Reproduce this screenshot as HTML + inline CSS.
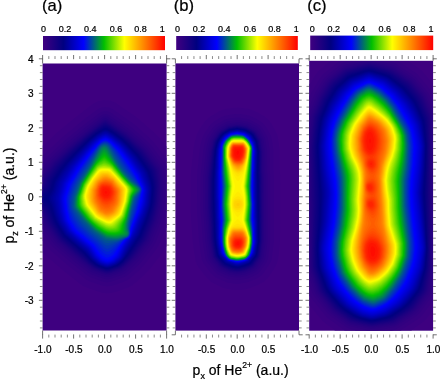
<!DOCTYPE html><html><head><meta charset="utf-8"><title>Momentum distributions of He2+</title>
<style>
html,body{margin:0;padding:0;background:#fff}
body{width:440px;height:380px;overflow:hidden;position:relative;font-family:"Liberation Sans",Arial,sans-serif;color:#111}
#fig{position:absolute;left:0;top:0;width:440px;height:380px;display:block}
text{font-family:"Liberation Sans",Arial,sans-serif;fill:#000;stroke:#000;stroke-width:0.22px}
.t9{font-size:9px}.t10{font-size:10px}.t14{font-size:14px}.t16{font-size:16.6px}
.tk{stroke:#444;stroke-width:0.75;fill:none}
.tm{stroke:#5a5a5a;stroke-width:0.7;fill:none}
</style></head><body>
<svg id="fig" width="440" height="380" viewBox="0 0 440 380">
<defs><linearGradient id="cb" x1="0" x2="1" y1="0" y2="0">
<stop offset="0.0000" stop-color="#400080"/>
<stop offset="0.1667" stop-color="#000080"/>
<stop offset="0.3333" stop-color="#0000ff"/>
<stop offset="0.5000" stop-color="#00bf00"/>
<stop offset="0.6667" stop-color="#ffff00"/>
<stop offset="0.8333" stop-color="#ff8000"/>
<stop offset="1.0000" stop-color="#ff0000"/>
</linearGradient></defs>
<g transform="translate(42.6,63.5)">
<rect width="124" height="267" fill="#3e0080"/><path fill="#3a0080" d="M69.75,229.3L64.25,229.7L59.25,229.2L44.25,224.1L40.75,222.6L36.75,219.8L23.75,209.5L0.25,189.4L0.25,82.07L2.25,80.73L14.25,69.36L18.25,65.97L32.75,53.96L48.25,42.06L51.75,39.72L54.75,38.25L58.25,37.22L61.75,36.82L67.75,37.32L72.75,39.16L92.75,52.93L97.25,56.41L112.2,69.75L117.1,74.75L121.8,80.95L123.8,83.03L123.8,182.7L119.8,189.2L107.5,205.2L101.2,211.8L93.75,218.6L89.25,222L85.75,223.8L75.75,227.5Z"/><path fill="#360080" d="M65.75,222.8L62.25,222.6L59.25,222L46.25,217.5L42.75,215.6L28.25,204.2L8.25,187.3L6.25,185.2L1.75,179.1L0.25,177.5L0.25,91.94L19.25,74.2L42.25,55.36L55.25,45.72L58.75,44.24L62.25,43.75L66.25,44.11L70.25,45.72L92.25,61.27L106.8,74.15L111.2,78.64L121.8,92.68L123.8,94.76L123.8,164L121.8,168L116.4,181.2L114.1,185.2L102.2,200.8L96.25,206.9L88.72,213.8L85.25,216.3L81.75,218L70.25,222Z"/><path fill="#320080" d="M68.25,218.3L64.25,218.7L60.75,218.2L47.75,213.7L44.75,212.1L30.75,201L10.75,184.1L8.31,181.2L2.25,172.7L0.25,170.5L0.25,98.96L5.378,92.75L14.25,84.37L21.94,77.25L37.25,64.47L56.25,49.89L59.25,48.35L62.25,47.82L65.25,48.07L68.25,49.27L84.75,60.72L89.75,64.48L103.8,76.91L109.2,82.55L123.8,102.5L123.8,148.3L120.4,160.2L112.6,179.8L110.8,182.9L99.02,198.2L93.64,203.8L86.56,210.2L83.75,212.4L81.25,213.8Z"/><path fill="#2e0080" d="M65.75,215.8L62.25,215.6L57.25,214L48.75,211L45.25,208.8L32.75,198.9L12.51,181.8L10.05,178.8L1.75,167L0.25,165.5L0.25,103.9L2.25,101.8L7.459,94.75L24.04,79.25L41.25,64.96L56.25,53.42L59.75,51.27L62.75,50.71L65.25,51.08L67.25,52.04L86.25,65.42L102,79.25L106.2,83.47L120,102.2L121.2,105.8L123.1,117.8L123,126.2L121.8,140.8L120,149.8L117.5,159.8L110.5,177.2L109.1,180.2L96.5,196.8L91.57,201.8L84.25,208.4L81.75,210.2L79.25,211.5L69.25,215Z"/><path fill="#2a0080" d="M67.25,213.3L64.25,213.6L61.25,213L49.75,209L46.25,206.7L33.75,196.8L14.21,180.2L11.39,176.8L0.25,160.8L0.25,107.9L1.75,106.3L9.131,96.25L25.16,81.25L42.75,66.65L57.25,55.48L60.25,53.53L62.75,52.98L64.75,53.33L66.25,54.08L85.25,67.48L100.8,81.12L104.4,84.75L118,103.2L119,106.2L120.6,117.2L120.6,126.2L119.5,140.2L118.8,144.8L115.5,158.8L107.3,178.8L94.75,195.3L83.25,206.3L80.75,208.2L78.75,209.3Z"/><path fill="#260080" d="M65.25,211.8L63.25,211.6L61.25,211.1L49.25,206.7L35.25,195.7L25.25,187.3L14.41,177.8L3.813,162.8L0.25,156.3L0.25,111.1L2.25,108.9L10.25,97.73L25.75,83.16L49.25,63.88L59.75,55.93L61.25,55.14L62.75,54.86L64.25,55.14L65.75,55.93L84.75,69.38L99.75,82.66L103.2,86.21L116.4,104.2L117.3,107.2L118.8,118.2L118.8,125.8L117.8,139.8L117.1,144.2L113.7,158.2L105.8,177.8L93.3,194.2L82.25,204.8L79.75,206.7L77.75,207.7L68.25,211.1Z"/><path fill="#220080" d="M66.25,210.3L64.25,210.5L62.25,210.1L51.75,206.4L49.75,205.4L35.75,194.3L17.25,178.6L14.64,175.8L4.877,161.8L0.25,152.5L0.25,114L11.3,98.75L26.62,84.25L42.25,71.09L49.75,65.18L59.75,57.64L61.25,56.74L62.75,56.38L65.25,57.31L83.75,70.33L98.75,83.63L101.8,86.75L115,104.8L116,107.8L117.5,118.8L117.5,125.2L116.5,139.2L114.9,147.8L112.4,157.8L104.4,177.2L91.93,193.8L81.75,203.6L79.25,205.5L77.25,206.5Z"/><path fill="#1e0080" d="M66.75,209.3L64.75,209.6L62.25,209.2L52.25,205.6L50.25,204.6L41.25,197.5L17.88,177.8L15.23,174.8L5.91,161.2L1.25,151.1L0.25,149.6L0.25,119.8L1.459,115.2L2.86,112.8L12.25,99.5L27.25,85.14L42.75,71.95L50.25,66.01L60.25,58.61L62.75,57.62L64.25,58.02L68.75,60.94L83.75,71.61L100.8,87.25L114.2,105.8L115.1,109.8L116.5,119.2L116.5,124.8L116,132.2L115.4,139.2L114.7,143.8L111.4,157.2L103.7,176.2L91.01,193.2L81.25,202.8L77.25,205.6Z"/><path fill="#1a0080" d="M65.75,208.8L63.75,208.8L60.75,208L52.75,205.1L50.25,203.7L42.18,197.2L18.25,176.8L16,174.2L6.796,160.8L1.972,149.8L1.25,148.6L0.25,147.9L0.25,122.1L1.545,120.8L2.525,116.2L3.344,114.2L11.18,102.8L13.56,99.75L27.75,85.96L43.05,72.75L59.25,60.4L61.25,59.13L62.75,58.72L64.25,59.13L68.75,61.96L83.21,72.25L97.75,85.48L100.4,88.25L111.7,103.8L113.2,106.2L115.4,117.2L115.7,122.2L114.6,139.2L112.9,147.8L110.4,157.2L102.6,176.2L90.31,192.8L87.09,196.2L80.78,202.2L76.75,205Z"/><path fill="#160080" d="M67.25,207.8L64.75,208.2L62.75,207.9L54.25,205L50.75,203.3L46.25,199.8L19.41,176.8L16.71,173.8L7.956,160.8L2.75,148.6L1.75,147.3L0.25,146.4L0.25,123.7L1.312,123.2L2.316,122.2L4.481,114.8L12.57,102.8L20.48,94.25L28.23,86.75L43.6,73.25L50.75,67.53L59.25,61.4L61.25,60.17L62.75,59.76L64.25,60.17L68.25,62.58L82.75,72.87L97.24,86.25L99.59,88.75L110.5,103.8L112.2,106.6L114.5,117.2L114.8,122.2L113.8,138.8L112.1,147.2L109.6,156.8L101.8,175.8L89.68,192.2L86.59,195.8L80.94,201.2L76.75,204.3Z"/><path fill="#120080" d="M66.75,207.3L64.75,207.6L62.25,207.2L54.25,204.4L51.25,202.9L46.75,199.3L38.75,192.1L19.75,175.9L17.25,173L8.508,159.8L3.25,147.1L1.75,145.5L0.25,144.8L0.25,125.3L1.75,124.7L3.266,123.2L3.964,121.8L4.883,117.2L5.631,115.2L13.75,103.1L21.25,94.87L28.75,87.5L44.11,73.75L51.25,68.01L56.25,64.45L60.75,61.43L62.75,60.79L64.25,61.17L68.25,63.49L82.25,73.44L87.75,78.41L98.78,89.25L108.9,103.2L111.2,107L113.6,117.8L114.1,123.2L113,138.8L111.3,147.2L108.8,156.2L101,175.2L88.68,192.2L86.12,195.2L80.75,200.6L76.25,203.9Z"/><path fill="#0e0080" d="M66.75,206.8L64.75,207.1L62.25,206.6L54.75,204L51.4,202.2L47.25,198.9L39.25,191.5L20.25,175.2L17.75,172.2L9.368,159.2L4.197,146.2L2.52,144.2L0.25,143.1L0.25,127.1L2.25,126.2L4.25,124.2L5.118,122.2L6.054,117.8L6.775,115.8L15.06,103.2L21.77,95.75L29.28,88.25L44.6,74.25L51.25,68.86L55.75,65.67L60.75,62.4L62.75,61.79L64.75,62.37L67.75,64.07L73.75,68.05L81.75,73.99L87.25,79L97.98,89.75L105.6,100.2L110.2,107.2L112.7,117.8L113.2,123.2L112.2,138.8L110.7,146.2L108,155.8L100.2,174.7L88.1,191.8L85.2,195.2L80.75,199.8L76.25,203.3Z"/><path fill="#0a0080" d="M66.25,206.3L64.25,206.5L61.25,205.8L54.75,203.4L51.75,201.8L47.4,198.2L39.7,190.8L20.45,174.2L18.44,171.8L10.49,159.2L4.78,144.8L2.75,142.4L0.25,141L0.25,129.1L3.25,127.4L5.25,125L6.259,122.8L7.25,118.1L8.163,115.8L16.11,103.8L22.67,96.25L29.75,89.07L45.09,74.75L51.75,69.32L55.75,66.53L60.75,63.34L62.75,62.76L64.75,63.29L67.75,64.96L73.75,68.92L81.25,74.54L86.75,79.6L97.17,90.25L106.9,103.8L109.3,107.8L111.8,118.2L112.4,123.8L111.4,138.8L109.8,146.2L107,155.8L99.41,174.2L87.14,191.8L80.51,199.2L75.75,202.9Z"/><path fill="#060080" d="M66.25,205.8L64.25,205.9L61.75,205.4L55.25,203L52.25,201.4L47.77,197.8L40.25,190.1L21.13,173.8L19.13,171.2L11.34,158.8L5.714,143.8L3.25,140.7L0.25,138.6L0.25,131.4L3.25,129.5L6.05,126.2L7.25,123.7L8.506,118.2L9.288,116.2L17.58,103.8L23.09,97.25L30.35,89.75L45.58,75.25L51.75,70.16L56.25,67.03L60.75,64.26L62.75,63.7L64.75,64.19L67.75,65.84L73.71,69.75L80.96,75.25L86.3,80.25L96.37,90.75L104.2,101.7L108.1,107.8L109,110.2L110.9,118.2L111.6,123.8L110.6,138.2L109.6,143.8L106.4,154.8L98.75,173.5L85.83,192.2L80.71,198.2L78.25,200.5L75.25,202.5Z"/><path fill="#020080" d="M66.25,205.3L64.25,205.4L61.25,204.7L55.75,202.7L52.37,200.8L48.14,197.2L40.75,189.5L21.33,172.8L14.41,162.2L12.19,158.2L6.68,142.8L4.75,139.8L0.6746,135.2L0.9323,134.2L4.75,130.4L7.294,126.8L8.526,123.8L9.982,117.8L11.53,114.8L17.45,105.8L23.75,98.01L31.63,89.75L46.63,75.25L52.25,70.61L56.25,67.88L60.75,65.16L62.75,64.61L64.75,65.07L67.75,66.72L73.25,70.29L80.41,75.75L85.7,80.75L95.58,91.25L103.5,102.2L107.2,108.2L110,118.2L110.8,123.8L109.8,138.2L108.9,143.2L105.6,154.2L98.11,172.8L84.94,192.2L80.41,197.8L77.75,200.2L74.75,202.2Z"/><path fill="#000083" d="M65.75,204.8L63.25,204.7L59.75,203.7L55.75,202.1L52.75,200.3L48.52,196.8L41.25,188.8L32.25,181.3L21.75,172L13.52,158.8L11.02,152.2L8.25,143L4.015,135.2L4.369,133.8L7.25,129.5L8.961,126.2L10.95,118.8L12.03,116.2L18.25,106.6L24.43,98.75L32.4,90.25L47.1,75.75L52.75,71.07L56.75,68.38L60.75,66.04L62.75,65.5L65.75,66.4L71.21,69.75L80.25,76.57L85.11,81.25L94.78,91.75L103,103.2L106.2,108.6L109.1,118.8L110,124.2L109,138.2L108.2,142.8L104.9,153.8L97.25,172.4L84.06,192.2L80.11,197.2L77.34,199.8L74.38,201.8L68.75,204Z"/><path fill="#00008b" d="M65.75,204.3L63.25,204.2L59.75,203.1L55.75,201.5L53.25,199.9L48.9,196.2L41.9,188.2L32.75,180.7L22.25,171.3L15.94,161.2L14.12,157.8L11.81,151.2L9.517,142.8L6.327,135.2L6.594,133.8L10.25,126.4L12.1,119.2L13.13,116.8L19.18,107.2L24.91,99.75L33.17,90.75L47.57,76.25L54.25,70.83L60.25,67.13L62.75,66.37L65.25,67.01L70.75,70.3L79.75,77.12L84.51,81.75L93.99,92.25L102.2,103.8L105.2,108.8L108.2,118.8L109.2,124.2L109,129.8L108.2,138.2L107.4,142.8L104.1,153.2L96.55,171.8L83.21,192.2L79.8,196.8L77.25,199.1L74.18,201.2L69.25,203.3Z"/><path fill="#000093" d="M65.25,203.8L62.75,203.5L58.25,202L55.75,200.9L53.75,199.6L49.28,195.8L42.59,187.8L33.25,180L22.93,170.8L16.7,160.8L14.97,157.2L12.77,150.8L10.75,142.5L8.284,135.2L8.499,133.8L11.47,126.8L13.24,119.8L14.22,117.2L20.22,107.8L25.79,100.2L33.94,91.25L48.05,76.75L54.75,71.31L60.25,67.97L62.75,67.22L65.25,67.86L70.75,71.14L79.25,77.66L83.46,81.75L93.19,92.75L101.3,104.2L104.1,108.8L107.3,118.8L108.4,124.8L108.3,129.8L107.4,138.2L106.6,142.8L103.5,152.2L95.77,171.2L86.55,185.2L81.42,193.8L79.49,196.2L77.25,198.4L73.75,200.9L68.25,203.1Z"/><path fill="#00009b" d="M65.25,203.3L62.75,203L58.25,201.5L56.25,200.6L54.25,199.2L49.75,195.3L43.25,187.2L33.75,179.4L23.61,170.2L17.47,160.2L16.02,157.2L13.74,150.2L12.12,142.8L10.04,135.2L10.22,133.8L12.63,127.2L14.38,120.2L15.31,117.8L20.91,108.8L26.68,100.8L34.69,91.75L48.25,77.49L54.75,72.11L60.25,68.8L62.75,68.05L65.25,68.7L70.25,71.66L78.81,78.25L82.87,82.25L92.4,93.25L100.8,105.1L103.2,109.2L106.6,119.8L107.6,125.2L106.6,138.2L105.9,142.2L102.8,151.8L94.99,170.8L85.89,184.8L80.99,193.2L79.18,195.8L76.75,198L73.25,200.5L68.25,202.5Z"/><path fill="#0000a3" d="M64.75,202.8L62.75,202.5L58.25,201L56.25,200L54.53,198.8L50.25,195L43.75,186.5L34.25,178.8L24.25,169.7L18.24,159.8L16.87,156.8L14.72,149.8L11.66,135.2L11.95,133.2L16.4,118.2L21.62,109.8L27.56,101.2L35.9,91.75L48.75,77.96L54.98,72.75L60.25,69.61L62.75,68.87L65.25,69.53L70.25,72.48L78.75,79.17L82.3,82.75L91.61,93.75L99.66,105.2L102.1,109.2L105.8,120.1L106.7,123.8L106.8,125.8L105.9,138.2L105,142.2L102.1,151.2L94.21,170.2L84.91,184.8L80.26,193.2L78.75,195.4L76.25,197.7L72.75,200.2L67.75,202.2Z"/><path fill="#0000ab" d="M64.75,202.3L62.75,202L58.25,200.4L55.25,198.6L50.86,194.8L44.25,185.9L34.75,178.1L24.75,169L19,159.2L17.9,156.8L15.71,149.2L13.19,135.2L13.45,133.2L17.5,118.8L21.36,112.2L28.44,101.8L41.52,86.75L49.25,78.41L55.25,73.34L60.25,70.39L62.75,69.65L65.25,70.34L70.25,73.29L78.25,79.68L81.74,83.25L90.83,94.25L98.5,105.2L101,109.2L105,120.8L105.8,123.8L106.1,126.2L105.1,138.2L104.2,142.2L101.3,150.8L98.18,157.8L93.45,169.8L84.25,184.3L79.57,193.2L78.25,195.1L75.75,197.4L72.25,199.9L67.25,201.8Z"/><path fill="#0000b3" d="M64.75,201.8L62.75,201.5L58.75,200.1L55.6,198.2L51.21,194.2L46.25,187L44.75,185.3L35.25,177.6L25.25,168.3L19.99,159.2L18.7,156.2L16.68,148.8L14.65,135.2L15,132.8L18.8,118.8L29.27,102.2L42.07,87.25L49.75,78.82L55.25,74.07L60.25,71.12L62.75,70.38L64.75,70.86L69.75,73.73L77.86,80.25L80.82,83.25L90.1,94.75L99.89,109.2L104.1,120.8L105.2,124.2L105.4,126.2L104.3,138.2L103.6,141.8L100.7,150.2L97.25,157.7L92.74,169.2L83.25,184.4L79.17,192.8L77.82,194.8L72.25,199.3L67.75,201.1Z"/><path fill="#0000bb" d="M64.75,201.3L62.75,201L59.25,199.8L56.25,198.1L51.54,193.8L45.72,185.2L35.4,176.8L25.78,167.8L20.63,158.8L19.58,156.2L17.63,148.8L15.93,135.2L16.46,131.8L19.77,119.2L30,102.8L42.98,87.25L50.18,79.25L55.75,74.42L60.25,71.8L62.75,71.06L64.75,71.56L69.75,74.44L77.46,80.75L80.38,83.75L89.1,94.75L99.16,109.8L104.1,123.2L104.7,126.8L103.6,138.2L102.8,141.8L100.1,149.8L96.75,156.9L91.88,169.2L88.81,174.8L82.75,183.9L78.77,192.2L77.53,194.2L75.47,196.2L71.75,199.1L67.25,200.8Z"/><path fill="#0000c3" d="M65.25,200.8L63.25,200.6L60.54,199.8L58.25,198.9L56.56,197.8L52.25,193.7L46.13,184.8L35.75,176.2L26.64,167.8L21.44,158.8L20.37,156.2L18.38,148.2L16.94,135.2L17.44,131.8L20.58,119.8L23.4,114.8L30.99,102.8L43.38,87.75L50.49,79.75L55.75,75.06L60.25,72.43L62.75,71.69L64.75,72.21L69.75,75.1L77.25,81.36L80,84.25L88.59,95.25L98.29,109.8L103.4,123.2L104.1,126.8L103,138.2L102,142.2L99.35,149.8L95.75,157.6L92.09,167.2L89.39,172.8L82.25,183.5L78.13,192.2L76.81,194.2L71.75,198.5L68.75,199.8Z"/><path fill="#0000cb" d="M65.25,200.3L63.25,200.1L60.54,199.2L58.25,198.3L56.75,197.3L52.59,193.2L47.77,185.8L46.48,184.2L36.16,175.8L27.08,167.2L21.92,158.2L20.95,155.8L19.13,148.2L17.76,135.2L18.15,132.2L21.5,119.8L31.53,103.2L43.74,88.25L50.78,80.25L56.25,75.34L60.75,72.79L62.75,72.28L64.75,72.81L69.25,75.39L76.82,81.75L79.65,84.75L87.78,95.25L97.75,110.2L102.6,122.8L103.5,126.8L102.4,138.2L101.3,142.2L98.9,149.2L95.64,156.2L91.63,166.8L88.94,172.8L87.75,174.8L84.84,178.2L81.75,183.2L77.74,191.8L76.5,193.8L71.25,198.2L67.75,199.6Z"/><path fill="#0000d3" d="M65.25,199.8L63.75,199.7L61.25,199L58.75,198L57.25,197L52.92,192.8L47.25,184.2L31.75,171.1L27.5,166.8L22.63,158.2L21.64,155.8L19.76,147.8L18.49,135.2L18.89,132.2L22.15,120.2L24.63,115.8L32.4,103.2L44.25,88.55L51.25,80.57L56.53,75.75L60.75,73.35L62.75,72.85L64.75,73.39L69.25,75.99L76.53,82.25L78.92,84.75L87.39,95.75L97,110.2L102,122.8L102.9,126.8L101.8,137.8L100.9,141.8L98.27,149.2L94.84,156.8L88.56,172.8L87.25,174.9L84.51,177.8L81.75,182.1L79.98,185.2L77.08,191.8L75.75,193.7L71.03,197.8L67.75,199.1Z"/><path fill="#0000db" d="M64.75,199.3L62.75,198.9L59.75,197.9L57.25,196.3L53.28,192.2L48.86,185.2L47.61,183.8L32.23,170.8L27.91,166.2L23.32,158.2L22.31,155.8L20.46,147.8L19.17,135.2L19.61,132.2L22.99,120.2L32.9,103.8L44.75,88.85L51.75,80.84L56.75,76.18L60.75,73.9L62.75,73.4L64.75,73.95L68.77,76.25L76.25,82.75L78.75,85.44L86.75,95.89L96.52,110.8L101.5,123.2L102.3,126.8L101.2,137.8L100.2,141.8L97.87,148.8L94.25,156.8L87.98,173.2L86.75,175L84.24,177.2L81.6,181.2L79.6,184.8L76.39,191.8L75.25,193.4L70.75,197.3L67.25,198.8Z"/><path fill="#0000e3" d="M66.75,198.4L64.75,198.7L63.25,198.5L59.75,197.3L58,196.2L53.75,191.9L48.25,183.6L32.25,170L28.75,166.4L24.25,158.7L22.99,155.8L21.15,147.8L19.86,135.8L20.19,132.8L23.83,120.2L33.76,103.8L45.16,89.25L52.11,81.25L56.78,76.75L60.75,74.45L62.75,73.94L64.75,74.5L68.75,76.82L75.96,83.25L78.27,85.75L86.27,96.25L95.79,110.8L101,123.2L101.7,126.8L100.6,137.8L99.61,141.8L97.27,148.8L94.12,155.8L90.75,164.5L87.94,172.8L86.75,174.6L83.62,177.2L81.28,180.8L74.98,192.8L70.75,196.7Z"/><path fill="#0000eb" d="M66.75,197.8L64.75,198.2L63.25,198L59.84,196.8L58.3,195.8L54.25,191.5L48.77,183.2L32.75,169.7L29.45,166.2L24.75,158.3L23.68,155.8L21.84,147.8L20.53,135.8L20.9,132.8L24.67,120.2L34.26,104.2L45.5,89.75L52.37,81.75L57.25,77L60.75,74.99L62.75,74.48L64.75,75.06L68.75,77.41L75.65,83.75L77.94,86.25L85.75,96.56L95.31,111.2L100.6,123.8L101.2,126.8L99.97,137.8L98.98,141.8L96.67,148.8L93.56,155.8L90.1,164.8L88.49,170.8L87.67,172.8L86.68,174.2L83.75,176.5L82.32,178.2L79.13,183.2L75.48,190.8L74.14,192.8L70.3,196.2Z"/><path fill="#0000f3" d="M66.25,197.3L64.75,197.5L62.87,197.2L60.25,196.3L58.75,195.3L54.75,191L49.25,182.8L33.25,169.3L30.25,166.2L25.71,158.8L24.38,155.8L22.54,147.8L21.23,135.8L21.62,132.8L25.51,120.2L35.12,104.2L45.85,90.25L53.09,81.75L57.25,77.58L60.75,75.54L62.75,75.02L64.75,75.62L68.4,77.75L74.83,83.75L77.58,86.75L85.12,96.75L94.75,111.6L100.1,123.8L100.7,126.2L99.41,137.2L98.48,141.2L96.25,148.3L93,155.8L89.58,164.8L88.37,170.2L87.42,172.8L86.25,174.3L83.42,176.2L81.74,178.2L78.48,183.2L74.98,190.2L73.67,192.2L69.92,195.8Z"/><path fill="#0000fb" d="M65.25,196.8L62.25,196.3L59.23,194.8L55.47,190.8L51.29,184.2L49.75,182.4L33.71,168.8L30.75,165.7L26.25,158.3L25.14,155.8L23.18,147.2L21.96,135.8L22.25,133.2L26.15,120.8L35.66,104.8L46.25,90.71L53.31,82.25L57.75,77.81L60.75,76.1L62.75,75.57L64.25,75.95L67.52,77.75L70.96,80.75L76.38,86.25L84.3,96.75L94.07,111.8L99.66,123.8L100.3,126.2L98.75,137.3L97.81,141.2L95.61,148.2L89.25,164.2L88.54,166.8L88.12,170.2L87.18,172.8L85.75,174.5L82.88,176.2L81.17,178.2L78.09,182.8L74.25,190L72.68,192.2L69.25,195.3Z"/><path fill="#0006f7" d="M65.25,195.8L62.25,195.3L59.75,193.9L56.25,190.2L50.75,182.2L34.41,168.2L31.47,165.2L26.91,157.8L25.87,155.2L23.88,146.8L22.76,135.8L23.23,132.8L27.08,120.8L36.26,105.2L47.02,90.75L53.96,82.25L57.96,78.25L60.75,76.67L62.75,76.15L64.75,76.78L68.25,78.9L76.75,87.79L84.75,98.7L93.23,111.8L99.24,123.8L99.9,126.2L97.22,140.8L95.1,147.8L88.75,164.2L88.16,166.8L87.89,170.2L87.19,172.2L86.22,173.8L82.36,176.2L80.19,178.8L77.33,182.8L73.38,189.8L71.75,191.9L68.75,194.5Z"/><path fill="#0012e7" d="M66.25,193.8L64.75,194.1L63.25,193.9L60.25,192.2L57.25,189.2L51.39,181.2L35.6,167.8L32.59,164.8L28.21,157.8L26.86,154.8L24.75,146.7L23.74,137.2L24.09,133.2L27.75,121.7L37,105.8L47.5,91.25L54.6,82.25L58.25,78.64L60.75,77.27L62.75,76.77L64.75,77.41L68.25,79.61L75.75,87.75L83.75,98.87L92.26,111.8L98.84,123.8L99.54,126.2L97.16,137.8L94.75,146.4L88.27,164.2L87.81,166.8L87.75,169.8L86.97,172.2L85.75,173.9L82.47,175.8L79.54,178.8L70.75,190.9L68.6,192.8Z"/><path fill="#001ed7" d="M65.25,191.3L63.25,191L60.25,189.1L52.75,180.4L43.55,172.8L35.75,165.7L33.75,163.5L29.4,156.8L28.05,153.8L25.72,146.2L24.86,137.2L25.41,132.8L28.99,121.8L31.89,116.2L37.75,106.5L48.44,91.25L55.21,82.25L58.75,78.92L61.25,77.7L62.75,77.45L64.75,78.09L67.75,79.95L74.62,87.75L91.75,112.7L98.44,123.8L99.2,126.2L93.74,146.8L88.18,162.8L87.54,165.8L87.52,169.8L86.74,172.2L85.55,173.8L82.68,175.2L80.3,177.2L69.75,188.9L67.25,190.7Z"/><path fill="#002ac7" d="M65.75,188.3L63.75,188.2L60.75,186.3L54.58,179.8L44.91,171.8L35.25,162.5L30.48,155.2L27.59,148.2L26.41,143.8L26.12,137.8L26.71,132.8L30.16,122.2L32.92,116.8L37.75,108.6L55.41,82.75L58.75,79.55L62.25,78.17L64.25,78.57L67.25,80.35L72.65,86.75L84.41,104.2L97.75,123.3L98.56,124.8L98.86,126.2L98.6,127.8L95.87,135.2L92.58,147.2L88.12,160.8L87.2,165.2L87.29,169.8L86.5,172.2L85.25,173.7L82.75,174.9L80.82,176.2L69.25,186.2Z"/><path fill="#0036b7" d="M65.25,185.3L63.25,184.9L60.75,183.2L54.96,177.8L47.25,171.6L37.25,162.1L33.4,156.8L31.33,153.2L28.19,146.2L27.44,142.2L27.41,136.8L28.03,132.8L31.15,123.2L33.98,117.2L39.66,107.8L55.65,83.25L58.75,80.19L60.75,79.22L62.25,78.89L63.75,79.13L65.75,80.1L68.54,82.75L72.16,87.75L83.55,105.2L97.64,123.8L98.39,125.2L98.52,126.2L98.21,127.8L94.65,135.8L91.54,147.2L87.75,159.6L86.82,164.8L87.06,169.8L86.27,172.2L85.25,173.4L81.63,175.2L71.25,182.2L67.25,184.5Z"/><path fill="#0042a7" d="M65.25,182.3L63.25,182L60.75,180.5L55.25,175.8L48.75,170.8L38.75,161.1L32.92,152.8L29.33,145.8L28.63,142.8L28.71,136.8L29.33,132.8L32.33,123.8L35.04,117.8L40.4,108.8L46.05,100.2L55.92,83.75L57.25,82.09L58.75,80.85L60.75,79.89L62.25,79.62L63.75,79.88L65.25,80.59L67.61,82.75L81.98,105.2L89.62,115.2L97.21,123.8L98.03,125.2L98.18,126.2L97.75,127.9L93.55,135.8L87.27,158.8L86.39,164.8L86.82,169.8L85.99,172.2L84.75,173.4L81.88,174.8L75.25,178.6L70.25,180.7Z"/><path fill="#004e97" d="M68.25,179.3L64.75,179.7L62.25,178.9L49.25,169L40.25,160.1L37.25,156.3L30.95,146.2L30.04,144.2L29.78,142.8L29.94,137.2L30.61,132.8L33.67,123.8L36.05,118.2L41.09,109.8L46.75,101.1L56.56,83.75L58.75,81.51L61.75,80.35L64.25,80.85L66.68,82.75L69.89,87.75L75.81,98.25L80.79,105.8L88.72,115.8L96.74,123.8L97.79,125.8L97.25,128L92.84,134.8L90.75,142.3L86.29,160.2L85.95,164.8L86.55,169.8L85.75,172.2L84.55,173.2L75.75,177.5L72.25,178.5Z"/><path fill="#005a87" d="M72.75,177.3L66.25,177.5L63.25,177.1L61.25,176L51.25,168.8L40.09,157.2L32.31,146.2L31.21,144.2L30.85,142.8L31.02,137.8L31.61,133.2L34.65,124.2L36.88,118.8L41.91,110.2L47.25,102L56.9,84.25L58.75,82.21L60.25,81.4L61.75,81.05L64.25,81.64L66.15,83.25L68.88,87.75L72.25,94.39L78.75,104.8L87.75,116L95.75,123.2L97,124.8L97.38,125.8L97.32,126.8L96.75,128L92.13,134.2L89.75,142.8L85.7,160.2L85.52,165.2L86.29,169.2L85.75,171.6L84.75,172.8L78.75,175.5L75.25,176.8Z"/><path fill="#006678" d="M73.75,176.3L67.75,176.2L63.25,175.4L51.9,167.8L41.67,157.2L33.43,146.2L32.21,144.2L31.77,142.8L31.85,138.2L32.47,133.2L37.47,119.2L48.24,101.8L57.3,84.75L59.09,82.75L61.25,81.83L62.25,81.79L63.75,82.22L65.58,83.75L67.95,87.75L71.46,94.75L77.75,104.9L87.25,116.4L95.25,123.3L96.51,124.8L96.94,125.8L96.86,126.8L96.25,127.9L91.62,133.8L89.25,142.2L85.14,160.2L85.06,165.2L85.95,169.2L85.57,171.2L84.2,172.8L77.75,175.3Z"/><path fill="#007268" d="M75.25,175.3L71.25,175.6L63.75,174.5L60.25,172.5L52.75,167.3L42.34,156.8L33.98,145.8L32.52,142.8L32.49,138.8L33.14,133.2L38.12,119.2L48.33,102.8L57.75,85.32L59.25,83.53L61.25,82.64L63.25,82.91L65.25,84.68L70.63,94.75L75.75,103.1L81.2,110.2L87.25,117.2L95.04,123.8L96.43,125.8L96.34,126.8L95.81,127.8L91.24,133.2L88.75,142L84.6,160.2L84.56,165.2L85.55,169.2L85.25,171.1L84.28,172.2L83.25,172.7Z"/><path fill="#007e58" d="M74.25,174.8L68.25,174.4L63.75,173.6L52.75,166.4L42.78,156.2L34.74,145.8L33.52,143.8L33.1,142.2L33.08,138.8L33.69,133.2L38.42,119.8L43.44,111.2L48.75,103L58.25,86.01L59.75,84.25L61.25,83.6L63.25,83.99L64.55,85.25L69.88,94.75L75.25,103.3L80.75,110.4L86.75,117.4L94.35,123.8L95.84,125.8L95.76,126.8L95.21,127.8L90.7,133.2L88.25,142.2L84,160.8L84,165.2L85.03,169.2L84.83,170.8L84.25,171.6L83.17,172.2L78.63,173.8Z"/><path fill="#008948" d="M75.25,173.8L71.75,174L64.25,173L60.75,171L53.25,166L43.5,156.2L35.42,145.8L34.18,143.8L33.7,142.2L33.59,139.2L34.18,133.2L38.9,119.8L49.15,103.2L58.75,86.91L60.2,85.25L61.25,84.77L62.75,85.01L64.25,86.51L69.47,95.25L75.03,103.8L80.46,110.8L86.57,117.8L93.63,123.8L95.17,125.8L95.11,126.8L94.57,127.8L90.25,133.2L87.75,142.6L83.46,160.8L83.41,165.8L84.25,168.9L84.23,170.2L83.75,171L82.63,171.8Z"/><path fill="#009538" d="M73.25,173.3L68.25,173L64.25,172.2L60.75,170.3L53.25,165.3L43.75,155.7L35.72,145.2L34.57,143.2L34.19,141.8L34.13,138.8L34.64,133.2L39.34,119.8L58.75,88.69L60.25,86.76L61.25,86.18L62.25,86.25L63.75,87.58L74.88,104.2L80.25,111.1L86.25,118L92.91,123.8L94.45,125.8L94.42,126.8L93.92,127.8L90.25,132.3L89.09,135.8L82.91,160.8L82.69,165.8L83.21,169.8L82.47,170.8L81.25,171.3Z"/><path fill="#00a128" d="M74.75,172.3L71.25,172.5L64.75,171.6L61.25,169.8L53.75,164.9L47.75,159.3L44.25,155.6L36.68,145.8L35.41,143.8L34.73,141.8L34.61,139.2L35.07,133.2L39.76,119.8L52.75,98.88L59.75,89.06L61.25,87.82L62.25,87.91L63.75,89.27L74.77,104.8L80.25,111.6L85.75,117.9L92.2,123.8L93.7,125.8L93.71,126.8L93.26,127.8L90.13,131.8L89.13,134.2L84.56,153.2L82.33,160.8L81.9,165.8L81.95,169.2L81.25,170.1L80.25,170.7Z"/><path fill="#00ad18" d="M75.25,171.3L71.25,171.7L64.75,170.9L61.25,169.1L54.25,164.6L48.36,159.2L44.62,155.2L37.28,145.8L35.75,143.2L35.27,141.8L35.1,139.2L35.49,133.2L38.22,124.8L40.16,119.8L52.75,99.7L59.25,91.34L61.25,89.53L62.25,89.59L63.75,90.9L70.25,98.93L74.68,105.2L79.47,111.2L85.75,118.4L91.98,124.2L93.06,126.2L92.61,127.8L89.98,131.2L89.05,133.2L84.17,153.2L81.73,160.8L80.72,168.8L79.25,170Z"/><path fill="#00b908" d="M73.75,170.8L68.75,170.8L64.75,170.1L61.25,168.4L54.25,163.9L48.75,159L44.83,154.8L37.53,145.2L36.33,143.2L35.71,141.2L35.65,135.2L36.01,132.8L40.3,120.2L45.11,112.2L53.25,99.79L59.25,92.79L61.25,91.16L62.25,91.21L63.25,91.91L69.25,98.51L79.25,111.5L85.25,118.4L90.87,123.8L92.03,125.2L92.35,126.2L91.97,127.8L89.52,131.2L88.75,133L83.78,153.2L81.11,160.8L79.75,167.9L79.2,168.8L78.25,169.4Z"/><path fill="#08c100" d="M74.25,169.8L69.75,170.1L65.25,169.5L61.75,167.9L54.75,163.5L49.25,158.8L45.44,154.8L38.11,145.2L36.91,143.2L36.24,141.2L36.08,135.2L36.41,132.8L40.69,120.2L45.25,112.7L53.25,100.5L59.25,94.14L61.25,92.66L62.25,92.71L63.25,93.34L69.25,99.26L79.25,112L85.17,118.8L90.25,123.8L91.35,125.2L91.68,126.2L91.35,127.8L89.25,130.9L88.48,132.8L83.53,152.8L80.47,160.8L78.86,167.2L77.36,168.8Z"/><path fill="#18c500" d="M72.75,169.3L68.25,169.3L64.75,168.6L61.75,167.2L54.75,162.8L49.31,158.2L45.75,154.4L38.36,144.8L37.24,142.8L36.69,140.8L36.51,135.2L36.8,132.8L41.07,120.2L45.62,112.8L53.25,101.3L56.75,97.57L59.75,94.93L61.25,94.03L62.25,94.07L63.25,94.64L69.75,100.5L79.02,112.2L84.75,118.8L89.25,123.2L90.4,124.8L91.02,126.2L90.73,127.8L88.27,132.2L83.15,152.8L79.8,160.8L78.2,166.2L76.75,168Z"/><path fill="#28c900" d="M73.25,168.4L69.25,168.6L65.25,168.1L61.75,166.5L55.25,162.5L49.75,158L46.26,154.2L38.94,144.8L37.8,142.8L37.21,140.8L36.94,135.2L37.2,132.8L39.69,124.8L41.46,120.2L46.03,112.8L53.75,101.3L57.25,98.02L61.25,95.3L62.25,95.33L63.25,95.85L69.75,101.2L78.75,112.4L84.31,118.8L88.31,122.8L89.8,124.8L90.39,126.2L90.14,127.8L87.9,132.2L86.44,138.8L82.25,154.2L79.31,160.2L77.11,166.2L75.75,167.5Z"/><path fill="#38cd00" d="M71.75,167.8L67.25,167.8L63.25,166.6L56.56,162.8L51.25,158.7L46.87,154.2L40.24,145.8L38.62,143.2L37.73,140.8L37.37,135.2L37.59,132.8L40.06,124.8L41.75,120.4L46.45,112.8L53.75,102L57.25,98.87L61.25,96.45L62.25,96.49L63.25,96.95L67.75,100L69.75,101.8L78.61,112.8L87.82,122.8L89.22,124.8L89.78,126.2L89.56,127.8L87.69,131.8L86,139.2L81.78,154.2L78.61,160.2L76.28,165.8L74.75,167Z"/><path fill="#48d100" d="M72.75,166.8L67.75,167.1L63.75,166.1L57.25,162.5L51.75,158.5L47.48,154.2L40.84,145.8L39.18,143.2L38.25,140.7L37.8,135.2L37.98,132.8L40.42,124.8L41.96,120.8L46.75,112.9L53.75,102.7L56.75,99.99L59.75,98.1L61.25,97.51L62.25,97.56L63.75,98.23L67.75,100.7L69.75,102.4L78.25,112.8L87.34,122.8L88.68,124.8L89.2,126.2L89.01,127.8L87.32,131.8L85.83,138.8L81.78,153.2L77.89,160.2L75.75,164.8L74.75,165.9Z"/><path fill="#58d500" d="M70.75,166.3L66.75,166.3L63.25,165.2L57.25,161.8L51.25,157.5L47.68,153.8L40.75,144.8L39.26,142.2L38.69,140.2L38.23,135.2L38.37,132.8L40.77,124.8L42.34,120.8L47.25,112.8L54.25,102.8L57.25,100.4L61.25,98.49L62.75,98.68L65.75,100.2L68.25,101.7L69.75,103L78.2,113.2L86.87,122.8L88.16,124.8L88.64,126.2L88.48,127.8L86.97,131.8L85.39,139.2L81.35,153.2L74.75,164.6L73.25,165.7Z"/><path fill="#68d900" d="M71.75,165.3L67.75,165.7L63.75,164.7L57.75,161.5L51.75,157.3L48.25,153.7L41.27,144.8L39.81,142.2L39.2,140.2L38.66,135.2L38.84,132.2L41.3,124.2L42.72,120.8L47.37,113.2L54.25,103.4L56.75,101.4L61.25,99.41L62.75,99.56L66.25,101.1L69.75,103.6L77.78,113.2L86.42,122.8L87.66,124.8L88.11,126.2L87.97,127.8L86.62,131.8L85.22,138.8L81.25,152.5L74.25,163.7L73.25,164.7Z"/><path fill="#78dd00" d="M70.25,164.8L66.75,164.8L63.25,163.8L57.75,160.8L51.75,156.7L48.48,153.2L41.75,144.6L40.36,142.2L39.64,139.8L39.06,134.8L39.23,132.2L41.66,124.2L43.11,120.8L47.75,113.3L54.52,103.8L56.75,102L61.25,100.3L62.75,100.4L65.75,101.5L67.75,102.5L69.36,103.8L77.75,113.7L85.97,122.8L87.18,124.8L87.6,126.2L87.49,127.8L86.38,131.2L84.91,138.8L80.75,152.7L73.47,163.2L72.25,164.2Z"/><path fill="#87e100" d="M70.75,163.9L67.75,164.2L63.75,163.4L58.25,160.5L52.25,156.5L48.75,152.8L42.08,144.2L40.9,142.2L40.15,139.8L39.48,134.8L39.61,132.2L41.85,124.8L43.22,121.2L47.87,113.8L54.75,104.1L56.75,102.6L60.75,101.1L62.75,101.2L65.25,102L67.75,103.1L69.25,104.2L85.53,122.8L87.03,125.8L87.02,127.8L86.02,131.2L84.74,138.2L80.75,151.8L79.25,154.4L73.25,162.2L72.11,163.2Z"/><path fill="#97e500" d="M69.75,163.3L66.75,163.4L63.25,162.5L58.25,159.8L51.75,155.5L47.27,150.2L41.99,143.2L40.89,140.8L40.02,135.8L39.99,132.2L42.04,125.2L43.35,121.8L45.75,117.7L48.97,112.8L55.21,104.2L57.25,103L60.75,101.9L62.75,101.9L65.75,102.7L67.75,103.6L69.25,104.7L85.1,122.8L86.06,124.2L86.65,126.2L84.44,138.2L80.25,152L78.75,154.3L72.51,161.8L71.25,162.8Z"/><path fill="#a7e900" d="M68.25,162.8L65.25,162.5L62.75,161.6L54.75,157L51.75,154.8L47.48,149.8L42.26,142.8L41.29,140.2L40.39,135.2L40.47,131.8L42.72,124.2L43.75,121.7L46.42,117.2L55.25,104.8L57.25,103.5L60.75,102.6L62.75,102.6L66.25,103.5L67.75,104.1L69.24,105.2L84.67,122.8L85.64,124.2L86.2,126.2L84.13,138.2L79.94,151.8L78.25,154.2L71.75,161.4L70.25,162.3Z"/><path fill="#b7ed00" d="M69.25,161.9L66.25,162L63.25,161.2L58.25,158.5L52.25,154.7L48.07,149.8L42.81,142.8L41.8,140.2L40.83,135.2L40.7,132.8L41.08,130.8L43.25,123.8L44.68,120.8L49.12,113.8L55.25,105.4L57.25,104.1L60.25,103.3L62.25,103.2L65.75,103.8L67.25,104.3L68.75,105.3L84.25,122.8L85.22,124.2L85.7,125.8L85.72,127.8L83.95,137.8L79.77,151.2L78.25,153.6L71.75,160.3L70.59,161.2Z"/><path fill="#c7f100" d="M68.25,161.3L65.75,161.3L63.25,160.5L54.75,155.9L52.47,154.2L43.37,142.8L42.32,140.2L41.18,134.8L41.09,132.8L41.59,130.2L43.61,123.8L45.08,120.8L49.25,114.2L55.25,106L56.75,104.8L59.75,104L62.25,103.9L65.75,104.4L67.25,104.8L68.75,105.8L83.83,122.8L84.81,124.2L85.29,125.8L85.31,127.8L83.64,137.8L79.36,151.2L77.75,153.5L71.25,159.7L69.75,160.8Z"/><path fill="#d7f500" d="M69.25,160.3L66.75,160.7L63.75,160.1L55.25,155.6L52.75,153.9L48.84,149.2L43.75,142.5L42.82,140.2L41.7,135.2L41.47,133.2L41.71,131.2L43.64,124.8L44.75,122L49.27,114.8L54.78,107.2L56.25,105.7L58.25,104.8L61.25,104.4L63.75,104.6L66.75,105.1L68.25,105.9L83.4,122.8L84.41,124.2L84.89,125.8L84.92,127.8L83.33,137.8L79.18,150.8L77.25,153.4L70.75,159.2Z"/><path fill="#e7f900" d="M68.25,159.9L65.75,160L63.25,159.3L55.25,155.1L52.75,153.3L44.17,142.2L43.32,140.2L42.05,134.8L41.89,132.8L42.22,130.8L44.17,124.2L45.25,121.8L49.75,114.7L55.25,107.3L56.75,105.9L58.25,105.3L61.25,105L64.75,105.2L66.75,105.6L68.25,106.4L82.97,122.8L84,124.2L84.49,125.8L84.52,127.8L83.01,137.8L78.77,150.8L77.75,152.3L75.25,154.6L70.25,158.8Z"/><path fill="#f7fd00" d="M67.75,159.4L65.75,159.5L63.25,158.7L55.75,154.9L53.25,153.2L44.71,142.2L43.67,139.8L42.41,134.2L42.35,132.2L42.75,130.3L44.55,124.2L45.71,121.8L50.12,114.8L55.25,108L56.75,106.4L58.75,105.7L65.25,105.7L66.75,106L68.25,106.9L82.53,122.8L83.59,124.2L84.09,125.8L84.13,127.8L82.75,137.4L78.57,150.2L77.65,151.8L75.25,154L69.75,158.4Z"/><path fill="#fffb00" d="M67.25,158.9L65.25,158.8L62.75,158L55.52,154.2L53.25,152.6L44.97,141.8L44.17,139.8L42.86,134.2L43.06,130.8L44.78,124.8L45.85,122.2L50.25,115.2L55.25,108.6L56.75,107L58.75,106.2L65.25,106.2L66.75,106.5L67.96,107.2L73.26,112.8L82.07,122.8L83.16,124.2L83.68,125.8L83.73,127.8L82.45,137.2L78.13,150.2L76.75,152.1L73.25,155L69.25,158Z"/><path fill="#fff300" d="M67.25,158.3L65.25,158.3L62.75,157.4L55.75,153.9L53.55,152.2L45.53,141.8L44.67,139.8L43.35,134.2L43.52,130.8L45.19,124.8L46.25,122.3L50.75,115.1L55.25,109.4L57.25,107.3L58.75,106.7L65.25,106.7L67.75,107.6L73.25,113.2L81.6,122.8L82.71,124.2L83.26,125.8L83.32,127.8L82.09,137.2L77.75,150.1L76.49,151.8L73.75,154.1L69.25,157.4Z"/><path fill="#ffeb00" d="M66.75,157.8L64.75,157.6L60.75,156L55.55,153.2L53.25,151.3L45.83,141.2L44.91,138.8L43.79,133.8L43.76,132.2L44.25,129.8L45.64,124.8L46.78,122.2L51.13,115.2L55.25,110.1L57.25,108L59.25,107.2L65.25,107.2L67.75,108.2L72.82,113.2L81.52,123.2L82.49,124.8L82.89,126.2L81.71,137.2L80.22,142.2L77.42,149.8L76.25,151.3L72.75,154.2L68.75,157Z"/><path fill="#ffe300" d="M66.25,157.3L64.25,156.9L60.75,155.5L55.75,152.8L53.75,151.2L46.43,141.2L45.45,138.8L44.35,133.8L44.44,131.2L45.94,125.2L46.75,123.2L48.76,119.8L51.75,115.1L56.25,109.7L57.75,108.4L59.75,107.7L65.25,107.7L67.75,108.9L72.75,113.7L80.99,123.2L81.99,124.8L82.42,126.2L81.25,137.5L79.75,142.4L77.14,149.2L75.75,151.2L72.64,153.8L68.25,156.7Z"/><path fill="#ffdb00" d="M67.75,156.3L65.75,156.7L63.25,156.1L57.37,153.2L54.25,151.1L51.53,147.8L46.78,140.8L46.01,138.8L45.01,134.2L44.95,131.8L46.03,126.8L47.75,122.4L51.25,116.6L53.25,113.9L57.25,109.6L58.25,108.8L59.75,108.3L65.25,108.3L67.75,109.6L72.25,113.7L76.67,118.8L80.83,123.8L81.92,126.2L81.59,131.8L80.75,137.8L79.25,142.7L76.84,148.8L75.75,150.5L73.81,152.2Z"/><path fill="#ffd300" d="M67.25,155.8L65.25,156.1L62.25,155.2L56.75,152.4L54.25,150.5L47.41,140.8L46.44,138.2L45.62,134.2L45.56,131.8L46.8,125.8L47.57,123.8L49.75,119.9L52.73,115.2L56.25,111.4L58.25,109.6L60.25,108.9L64.75,108.9L66.25,109.3L67.75,110.3L71.77,113.8L76.15,118.8L80.6,124.2L81.39,126.2L81.12,131.8L80.3,137.8L78.96,142.2L76.51,148.2L75.25,150.2L73.25,152.1Z"/><path fill="#ffcb00" d="M66.75,155.4L64.75,155.4L61.75,154.4L57.25,152.1L54.66,150.2L52.31,147.2L47.79,140.2L46.9,137.8L46.24,134.2L46.18,131.8L47.34,125.8L50.37,119.8L52.93,115.8L56.75,111.7L58.75,110.1L60.75,109.5L63.75,109.4L65.75,109.8L70.75,113.4L72.75,115.4L79.66,123.8L80.85,126.2L80.68,131.2L79.83,137.8L78.68,141.8L76.17,147.8L74.97,149.8L72.91,151.8L69.75,153.9Z"/><path fill="#ffc300" d="M66.75,154.8L64.75,154.8L61.75,153.9L57.25,151.6L54.75,149.7L48.43,140.2L47.48,137.8L46.86,134.2L46.86,131.2L47.88,125.8L51.51,118.8L53.75,115.5L57.75,111.6L59.25,110.6L61.25,110L63.75,110L65.75,110.4L71.13,114.2L79.06,123.8L79.99,125.2L80.37,126.8L80.13,131.8L79.25,138.2L78.22,141.8L75.75,147.4L74.29,149.8L72.25,151.7L69.75,153.3Z"/><path fill="#ffbb00" d="M66.25,154.3L64.25,154.2L61.25,153.2L57.25,151L54.97,149.2L48.81,139.8L48.06,137.8L47.47,134.2L47.47,131.2L48.43,125.8L52.36,118.2L54.25,115.7L58.25,112L59.75,111.1L61.75,110.6L64.25,110.6L65.75,111.1L71.07,114.8L78.47,123.8L79.41,125.2L79.83,126.8L79.68,131.2L78.78,138.2L77.75,141.8L75.25,147.2L73.75,149.6L71.75,151.4L68.75,153.3Z"/><path fill="#ffb300" d="M65.25,153.8L63.25,153.5L60.75,152.5L56.92,150.2L55.13,148.8L49.2,139.2L48.53,137.2L48.03,133.8L48.14,130.8L48.98,125.8L53.22,117.8L54.75,115.9L58.75,112.4L60.25,111.6L62.25,111.2L64.25,111.3L65.75,111.8L71,115.2L78.24,124.2L79.05,125.8L79.33,127.2L79.18,131.2L78.21,138.8L77.25,141.8L74.66,147.2L73.25,149.4L71.18,151.2L67.25,153.4Z"/><path fill="#ffab00" d="M66.75,152.9L64.75,153.2L62.25,152.6L58.61,150.8L55.78,148.8L54.22,146.8L50.07,139.8L49.24,137.8L48.85,135.8L48.62,132.2L49.16,127.2L49.71,125.2L51.48,121.8L53.75,117.8L55.08,116.2L59.25,112.8L61.75,111.8L63.75,111.8L65.25,112.2L70.75,115.6L77.65,124.2L78.74,126.8L78.72,130.8L78.02,137.2L76.55,142.2L74.06,147.2L72.66,149.2L70.25,151.3Z"/><path fill="#ffa300" d="M66.75,152.3L64.75,152.7L62.25,152.1L59.25,150.6L56.25,148.5L54.75,146.7L50.7,139.8L49.83,137.8L49.42,135.8L49.23,132.2L49.78,126.8L50.48,124.8L52.84,120.2L54.25,117.9L55.75,116.3L59.75,113.2L62.25,112.4L65.25,112.9L68.75,114.7L70.75,116.1L77.08,124.2L77.93,125.8L78.27,127.2L78.22,130.8L77.55,137.2L76.25,141.8L73.74,146.8L71.97,149.2L69.75,151Z"/><path fill="#ff9b00" d="M66.25,151.9L64.25,152.1L62.25,151.6L58.81,149.8L56.25,147.9L54.73,145.8L51.07,139.2L50.27,137.2L49.94,135.2L49.83,131.8L50.31,126.8L51.03,124.8L53.65,119.8L54.75,118L56.25,116.5L59.75,113.9L62.25,113L63.75,113L65.25,113.5L70.28,116.2L76.52,124.2L77.38,125.8L77.76,127.2L77.73,130.8L77.08,137.2L75.77,141.8L73.13,146.8L71.26,149.2L69.25,150.7Z"/><path fill="#ff9300" d="M66.25,151.3L64.25,151.5L62.25,151.1L56.75,147.7L55.29,145.8L51.69,139.2L50.55,135.8L50.39,132.2L50.72,127.2L51.33,125.2L53.34,121.2L54.78,118.8L56.15,117.2L59.75,114.6L62.25,113.6L63.75,113.6L65.25,114.1L68.75,115.7L70.25,116.8L75.97,124.2L76.85,125.8L77.25,127.2L77.25,130.8L76.61,137.2L75.48,141.2L72.75,146.3L71.02,148.8L69.25,150.1Z"/><path fill="#ff8b00" d="M65.75,150.8L63.75,150.9L62.25,150.5L58.35,148.2L56.75,146.9L52.06,138.8L51.04,135.2L50.97,130.8L51.33,126.8L54.38,120.2L55.75,118.3L57.25,117L60.75,114.7L62.75,114.2L64.25,114.3L67.25,115.5L70.25,117.3L75.75,124.8L76.52,126.2L76.81,127.8L76.13,137.2L74.94,141.2L70.74,148.2L68.75,149.7Z"/><path fill="#ff8300" d="M65.25,150.3L63.75,150.3L62.25,149.9L57.25,146.7L55.75,144.4L52.44,138.2L51.53,134.8L51.5,129.8L51.82,126.8L54.75,120.5L55.9,118.8L57.25,117.6L60.75,115.3L62.75,114.8L64.25,114.9L67.25,116L70.06,117.8L75.21,124.8L76,126.2L76.33,127.8L75.64,137.2L74.62,140.8L70.25,147.9L68.32,149.2Z"/><path fill="#ff7c00" d="M66.25,149.3L64.25,149.6L62.75,149.4L57.73,146.2L56.25,144.1L53.08,138.2L52.06,134.8L52.19,127.2L54.78,121.2L56.05,119.2L57.25,118.1L60.75,116L62.75,115.4L64.25,115.5L66.75,116.3L69.75,118L74.67,124.8L75.48,126.2L75.84,127.8L75.19,136.8L74.25,140.2L69.89,147.2L68.73,148.2Z"/><path fill="#ff7400" d="M66.25,148.3L64.25,148.7L62.75,148.4L58.25,145.7L56.75,143.7L53.75,138.2L52.6,134.8L52.67,127.2L54.97,121.8L56.2,119.8L57.25,118.7L60.75,116.6L62.75,116L66.25,116.7L69.29,118.2L73.8,124.2L74.94,126.2L75.34,127.8L75.36,130.2L74.63,136.8L73.8,139.8L69.25,146.7L67.81,147.8Z"/><path fill="#ff6c00" d="M65.75,147.3L64.25,147.5L62.75,147.2L60.25,146L58.6,144.8L56.75,142.2L53.98,137.2L53.05,133.8L53.15,127.2L55.42,121.8L56.75,119.8L57.75,118.9L60.75,117.2L62.75,116.6L66.75,117.5L69.25,118.9L73.86,125.2L74.58,126.8L74.88,128.2L74.08,136.2L73.25,139.3L71.75,141.8L68.75,145.6L67.25,146.8Z"/><path fill="#ff6400" d="M66.25,145.8L64.75,146.1L63.25,146L60.75,145L59.25,143.9L57.25,141.4L54.76,137.2L53.6,133.8L53.56,127.8L55.34,122.8L56.51,120.8L57.75,119.4L60.25,118L62.25,117.3L63.75,117.3L65.75,117.8L68.89,119.2L72.67,124.2L74.28,127.8L74.24,130.8L73.4,136.2L72.75,138.5L71.42,140.8L69.25,143.3L67.75,144.8Z"/><path fill="#ff5c00" d="M64.25,144.8L62.75,144.5L60.75,143.6L58.25,141.3L54.8,135.8L53.97,131.8L54.26,126.8L55.08,124.2L56.36,121.8L57.5,120.2L58.75,119.3L60.75,118.4L62.75,117.9L66.75,118.7L69.25,120.3L72.94,125.8L73.81,128.8L72.75,135.9L71.68,138.8L70.25,140.7L67.25,143.6L65.75,144.5Z"/><path fill="#ff5400" d="M64.75,143.3L63.25,143.3L61.75,142.7L58.75,140.4L55.6,135.8L54.55,132.2L54.66,127.2L56.25,122.7L58.25,120.2L60.25,119.1L62.25,118.6L65.75,119.1L67.56,119.8L68.75,120.6L71.77,124.8L73.19,128.2L73.06,130.8L72.01,135.8L71.25,137.8L70.23,139.2L68.25,141.1L66.25,142.7Z"/><path fill="#ff4c00" d="M64.75,141.8L62.25,141.6L59.25,139.6L56.16,135.2L55.06,131.8L55.26,126.8L56.72,122.8L58.75,120.4L60.25,119.7L62.25,119.2L63.75,119.3L66.25,119.9L68.67,121.2L71.16,124.8L72.59,128.2L72.32,131.2L71.37,135.2L70.54,137.2L68.25,139.7Z"/><path fill="#ff4400" d="M64.75,140.4L63.75,140.5L62.25,140.2L59.71,138.8L56.7,134.8L55.62,131.8L55.68,127.2L56.75,123.6L58.75,121L61.75,119.9L65.25,120.3L68.25,121.6L70.28,124.2L71.98,128.2L71.75,131L70.74,134.8L69.84,136.8L68.25,138.4Z"/><path fill="#ff3c00" d="M65.25,138.8L62.75,139.1L60.25,138L57.56,134.8L56.32,132.2L56.1,128.2L56.72,124.8L58.25,122.1L59.25,121.3L60.75,120.7L64.25,120.7L67.75,122L69.67,124.2L71.26,127.8L71.28,130.2L69.47,135.8L67.75,137.5Z"/><path fill="#ff3400" d="M64.25,137.9L62.25,137.8L60.25,136.8L57.75,133.8L56.82,131.8L56.64,128.2L57.23,124.8L58.75,122.3L60.75,121.3L64.25,121.4L66.25,121.9L67.75,122.7L69.32,124.8L70.73,128.2L70.51,130.8L68.81,135.2L67.25,136.7Z"/><path fill="#ff2c00" d="M63.75,136.8L62.25,136.8L60.75,136.1L58.25,133.2L57.36,131.2L57.24,127.8L57.75,124.9L59.12,122.8L60.75,121.9L63.75,122L67.25,123.1L68.75,124.9L70.06,128.2L69.81,130.8L68.25,134.6L66.75,135.9Z"/><path fill="#ff2400" d="M63.25,135.8L61.75,135.5L60.75,134.9L58.75,132.6L57.98,130.8L57.89,127.8L58.26,125.2L59.55,123.2L61.25,122.5L64.25,122.8L66.86,123.8L68.25,125.5L69.3,128.2L69.17,130.2L67.75,133.8L66.25,135Z"/><path fill="#ff1c00" d="M64.75,134.4L63.25,134.6L61.75,134.3L60.07,132.8L59.06,131.2L58.68,129.2L58.83,126.2L59.75,124.2L60.75,123.6L62.75,123.5L65.84,124.2L67.08,125.2L68.08,127.2L68.4,129.2L67.42,132.2L66.25,133.7Z"/><path fill="#ff1400" d="M64.75,132.8L63.25,133L62.25,132.8L61.25,132L60.29,130.8L59.92,129.2L60.02,126.8L60.39,125.8L61.25,125L62.75,124.8L64.75,125.3L65.75,125.9L66.67,127.2L67.02,128.8L66.8,130.2L66.06,131.8Z"/><path fill="#ff0c00" d="M63.25,130.3L62.55,129.8L62.22,128.8L62.6,127.8L63.25,127.5L64.25,128L64.54,128.8L64.25,129.9Z"/>
</g>
<rect x="43" y="36" width="122" height="14.2" fill="url(#cb)"/>
<text class="t9" x="43.5" y="31.6" text-anchor="middle">0</text>
<text class="t9" x="65" y="31.6" text-anchor="middle">0.2</text>
<text class="t9" x="90.2" y="31.6" text-anchor="middle">0.4</text>
<text class="t9" x="116" y="31.6" text-anchor="middle">0.6</text>
<text class="t9" x="140.5" y="31.6" text-anchor="middle">0.8</text>
<text class="t9" x="162.2" y="31.6" text-anchor="middle">1</text>
<text class="t16" x="41.9" y="11.4">(a)</text>
<path class="tm" d="M48.80,59.00v-2.9M48.80,334.60v2.9M55.00,59.00v-2.9M55.00,334.60v2.9M61.20,59.00v-2.9M61.20,334.60v2.9M67.40,59.00v-2.9M67.40,334.60v2.9M79.80,59.00v-2.9M79.80,334.60v2.9M86.00,59.00v-2.9M86.00,334.60v2.9M92.20,59.00v-2.9M92.20,334.60v2.9M98.40,59.00v-2.9M98.40,334.60v2.9M110.80,59.00v-2.9M110.80,334.60v2.9M117.00,59.00v-2.9M117.00,334.60v2.9M123.20,59.00v-2.9M123.20,334.60v2.9M129.40,59.00v-2.9M129.40,334.60v2.9M141.80,59.00v-2.9M141.80,334.60v2.9M148.00,59.00v-2.9M148.00,334.60v2.9M154.20,59.00v-2.9M154.20,334.60v2.9M160.40,59.00v-2.9M160.40,334.60v2.9M42.60,327.90h-2.7M166.60,327.90h2.7M42.60,321.00h-2.7M166.60,321.00h2.7M42.60,314.10h-2.7M166.60,314.10h2.7M42.60,307.20h-2.7M166.60,307.20h2.7M42.60,293.40h-2.7M166.60,293.40h2.7M42.60,286.50h-2.7M166.60,286.50h2.7M42.60,279.60h-2.7M166.60,279.60h2.7M42.60,272.70h-2.7M166.60,272.70h2.7M42.60,258.90h-2.7M166.60,258.90h2.7M42.60,252.00h-2.7M166.60,252.00h2.7M42.60,245.10h-2.7M166.60,245.10h2.7M42.60,238.20h-2.7M166.60,238.20h2.7M42.60,224.40h-2.7M166.60,224.40h2.7M42.60,217.50h-2.7M166.60,217.50h2.7M42.60,210.60h-2.7M166.60,210.60h2.7M42.60,203.70h-2.7M166.60,203.70h2.7M42.60,189.90h-2.7M166.60,189.90h2.7M42.60,183.00h-2.7M166.60,183.00h2.7M42.60,176.10h-2.7M166.60,176.10h2.7M42.60,169.20h-2.7M166.60,169.20h2.7M42.60,155.40h-2.7M166.60,155.40h2.7M42.60,148.50h-2.7M166.60,148.50h2.7M42.60,141.60h-2.7M166.60,141.60h2.7M42.60,134.70h-2.7M166.60,134.70h2.7M42.60,120.90h-2.7M166.60,120.90h2.7M42.60,114.00h-2.7M166.60,114.00h2.7M42.60,107.10h-2.7M166.60,107.10h2.7M42.60,100.20h-2.7M166.60,100.20h2.7M42.60,86.40h-2.7M166.60,86.40h2.7M42.60,79.50h-2.7M166.60,79.50h2.7M42.60,72.60h-2.7M166.60,72.60h2.7M42.60,65.70h-2.7M166.60,65.70h2.7"/>
<path class="tk" d="M42.60,59.20v-4.2M42.60,334.40v4.2M73.60,59.20v-4.2M73.60,334.40v4.2M104.60,59.20v-4.2M104.60,334.40v4.2M135.60,59.20v-4.2M135.60,334.40v4.2M166.60,59.20v-4.2M166.60,334.40v4.2M42.60,300.30h-3.7M166.60,300.30h3.7M42.60,265.80h-3.7M166.60,265.80h3.7M42.60,231.30h-3.7M166.60,231.30h3.7M42.60,196.80h-3.7M166.60,196.80h3.7M42.60,162.30h-3.7M166.60,162.30h3.7M42.60,127.80h-3.7M166.60,127.80h3.7M42.60,93.30h-3.7M166.60,93.30h3.7M42.60,58.80h-3.7M166.60,58.80h3.7M42.60,58.80V63.50M166.60,58.80V63.50M42.60,330.50V334.80M166.60,330.50V334.80"/>
<text class="t10" x="42.90" y="353.2" text-anchor="middle">-1.0</text>
<text class="t10" x="73.90" y="353.2" text-anchor="middle">-0.5</text>
<text class="t10" x="104.90" y="353.2" text-anchor="middle">0.0</text>
<text class="t10" x="135.90" y="353.2" text-anchor="middle">0.5</text>
<text class="t10" x="166.90" y="353.2" text-anchor="middle">1.0</text>
<g transform="translate(175.4,63.4)">
<rect width="123.6" height="267.2" fill="#3e0080"/><path fill="#3a0080" d="M65.75,226.3L59.75,226.6L50.25,225.1L47.25,224L38.25,219.8L34.75,217.6L31.24,214.2L23.33,204.2L21.47,200.8L20.43,197.8L18.04,183.8L17.43,178.8L15.37,147.2L15.43,111.8L18.11,85.25L19.41,78.75L21.97,69.75L23.65,66.75L29.25,58.46L32.25,55.28L34.75,53.31L43.25,48.23L46.25,46.87L50.25,45.71L59.25,44.37L66.25,44.54L73.25,45.71L76.25,46.53L82.75,49.45L88.25,52.52L91.25,54.78L93.75,57.28L95.67,59.75L101.2,69.75L102.4,73.75L104.1,85.75L104.2,105.8L104.7,112.2L104.6,179.2L103,193.2L101.9,198.8L99.98,203.2L93.69,212.8L91.72,215.2L88.75,218L84.25,220.6L75.25,224.4L72.25,225.3Z"/><path fill="#360080" d="M63.75,220.3L59.75,220.3L51.75,219L40.75,214.1L38.25,212.4L35.58,209.8L28.21,200.2L26.38,195.8L23.72,178.8L21.59,146.2L21.66,112.2L24.28,86.25L25.1,81.75L27.49,72.75L28.82,70.25L34.22,62.25L36.25,60.08L38.75,58.15L46.25,53.71L48.75,52.61L51.75,51.78L60.25,50.59L65.25,50.72L74.25,52.44L79.75,54.92L85.25,58.01L87.43,59.75L90.49,63.25L95.51,72.25L96.64,77.25L97.91,86.75L97.92,106.2L98.41,112.2L98.41,178.8L96,196.8L94.5,200.2L88.52,209.2L86.75,211.4L84.75,213.1L81.25,215.1L72.75,218.7Z"/><path fill="#320080" d="M65.75,216.3L60.75,216.7L52.75,215.5L42.75,211L40.75,209.7L38.25,207.2L31.28,198.2L29.92,194.8L27.34,178.2L27.19,172.8L25.26,146.8L25.29,112.8L27.91,86.75L28.62,82.75L30.84,74.25L31.88,72.25L36.91,64.75L40.25,61.55L49.75,56.14L52.25,55.42L59.75,54.26L64.75,54.34L73.25,55.96L77.75,58L83.25,61.08L84.75,62.25L87.42,65.25L92.16,73.75L94.24,86.25L94.27,106.8L94.76,112.8L94.76,178.2L92.58,195.2L91.12,198.8L85.45,207.2L83.17,209.8L80.25,211.5L72.25,215Z"/><path fill="#2e0080" d="M64.75,213.8L60.75,214.1L53.25,212.9L44.25,208.9L42.25,207.5L40.25,205.6L33.42,196.8L32.48,194.2L29.91,177.8L29.77,172.2L27.84,146.2L27.86,113.2L30.47,87.25L31.18,83.25L33.25,75.25L39.04,66.25L42.25,63.33L50.75,58.54L52.75,57.97L60.25,56.84L64.25,56.91L72.25,58.37L76.75,60.41L81.75,63.22L83.25,64.4L85.29,66.75L89.74,74.75L91.66,86.75L91.69,107.2L92.18,112.8L92.17,178.2L90.02,194.8L89.54,196.2L88.01,198.8L83.25,205.9L81.25,207.9L78.75,209.3L71.25,212.6Z"/><path fill="#2a0080" d="M64.25,211.8L61.25,212.1L53.75,210.9L45.25,207.1L43.75,206.2L41.75,204.2L35.18,195.8L34.45,193.8L31.89,177.2L31.8,172.2L29.84,145.8L29.89,113.2L32.45,87.75L33.14,83.75L35.06,76.25L40.45,67.75L43.25,65.1L51.75,60.34L60.75,58.84L64.25,58.95L71.75,60.33L74.75,61.64L80.25,64.67L82.25,66.24L85.05,70.25L87.92,75.75L89.66,87.25L89.68,107.8L90.17,112.8L90.16,178.2L88.04,194.2L86.58,197.2L81.55,204.8L80.11,206.2L77.75,207.6L70.25,210.8Z"/><path fill="#260080" d="M63.25,210.3L61.25,210.4L54.25,209.4L45.75,205.5L42.75,202.9L36.52,194.8L35.52,190.2L33.48,176.8L33.4,171.8L31.44,145.2L31.48,113.8L34.03,88.25L34.72,84.25L36.64,76.75L41.75,68.75L44.25,66.39L52.25,61.9L61.25,60.43L63.75,60.52L71.25,61.89L79.25,65.98L81.86,68.25L85.9,75.25L86.46,76.75L88.03,86.75L88.08,108.2L88.56,112.8L88.56,178.2L86.46,193.8L85.59,195.8L80.94,202.8L78.75,205.2L69.75,209.2Z"/><path fill="#220080" d="M65.75,208.8L61.75,209.2L55.25,208.3L47.25,204.9L44.23,202.8L37.62,194.2L36.63,189.8L34.65,176.8L34.52,171.2L32.61,145.2L32.62,114.2L35.12,88.75L35.9,84.25L37.71,77.25L42.8,69.25L45.25,67.09L52.75,62.92L61.25,61.48L63.75,61.63L71.25,63.07L78.75,67.01L80.34,68.25L82.69,71.75L85.1,76.25L86.98,87.75L86.98,108.8L87.44,113.8L87.49,177.2L85.81,190.8L84.8,194.8L78.61,203.8L76.75,204.9L70.75,207.5L68.75,208.2Z"/><path fill="#1e0080" d="M63.25,208.3L61.25,208.4L54.75,207.4L46.75,203.7L44.45,201.8L38.3,193.8L36.42,183.8L35.38,176.2L35.27,170.8L33.41,144.2L33.43,114.2L35.89,88.75L36.55,84.75L38.33,77.75L39.03,76.25L43.35,69.75L45.75,67.63L53.25,63.51L61.75,62.15L70.75,63.65L78.75,67.89L80.59,69.75L84.26,76.25L85.09,79.75L86.23,87.25L86.22,108.8L86.68,113.8L86.77,177.2L84.58,193.2L82.56,196.8L77.75,203.4L69.25,207.2Z"/><path fill="#1a0080" d="M65.75,207.3L61.75,207.7L55.75,206.9L48.75,204L45.34,201.8L39.02,193.8L38.05,189.8L36.01,176.2L35.44,163.2L34.08,144.8L34.05,114.8L36.49,88.75L37.03,85.25L38.95,77.75L43.68,70.25L46.25,67.95L53.25,64.08L61.75,62.66L69.25,63.79L71.25,64.4L77.75,67.94L79.47,69.25L81.73,72.75L84.04,77.25L85.73,88.25L85.64,108.8L86.08,113.8L86.24,176.8L84.56,190.2L83.48,194.2L77.44,202.8L70.75,205.9L68.25,206.8Z"/><path fill="#160080" d="M65.25,206.8L61.25,207.1L55.75,206.3L48.75,203.4L45.72,201.2L39.43,193.2L37.52,183.2L36.52,175.8L36.01,163.2L34.7,144.8L34.65,114.8L36.96,89.25L37.55,85.25L39.32,78.25L40.29,76.25L43.92,70.75L46.25,68.52L53.25,64.57L61.75,63.1L70.75,64.7L77.75,68.51L79.24,69.75L83.51,77.25L85.26,88.25L85.13,109.2L85.53,113.8L85.76,176.8L84.05,190.2L83.13,193.8L77.08,202.2L70.75,205.3L68.25,206.2Z"/><path fill="#120080" d="M64.75,206.3L61.25,206.6L56.12,205.8L48.81,202.8L46.08,200.8L40.05,193.2L39.07,189.2L37.06,175.8L36.55,162.8L35.3,144.2L35.24,114.8L37.47,89.25L38.04,85.25L39.82,78.25L44.48,70.75L46.68,68.75L53.75,64.85L61.75,63.5L68.75,64.57L70.75,65.15L77.25,68.74L78.75,69.91L83.01,77.25L84.82,88.75L84.63,109.2L85.01,113.8L85.32,176.8L83.65,189.8L82.53,193.8L76.75,201.8L75.25,202.7L70.75,204.7L67.75,205.7Z"/><path fill="#0e0080" d="M64.25,205.8L60.75,206L56.25,205.2L49.08,202.2L46.43,200.2L42.16,195.2L40.42,192.8L38.5,182.8L37.55,175.2L37.1,162.8L35.91,144.2L35.79,115.2L37.97,89.25L38.51,85.25L40.14,78.75L41.04,76.75L44.3,71.75L46.75,69.2L53.75,65.28L61.75,63.89L68.75,64.97L70.75,65.58L76.75,68.94L78.43,70.25L80.67,73.75L82.7,77.75L84.39,88.75L84.14,109.2L84.49,114.2L84.89,176.8L83.18,189.8L82.64,192.2L81.94,193.8L76.25,201.4L70.25,204.2Z"/><path fill="#0a0080" d="M64.25,205.3L60.75,205.4L56.25,204.6L49.34,201.8L46.77,199.8L42.25,194.5L40.81,192.2L39.02,182.8L38.08,175.2L37.66,162.8L36.54,144.8L36.36,135.8L36.35,116.2L36.75,109.8L38.8,86.25L40.61,78.75L41.55,76.75L44.82,71.75L47.25,69.36L53.75,65.71L61.75,64.27L70.25,65.8L76.45,69.25L78.25,70.73L82.23,77.75L83.96,88.75L83.65,109.2L83.97,114.2L84.46,176.8L82.71,189.8L81.66,193.2L77.03,199.8L75.75,201.1L70.25,203.6Z"/><path fill="#060080" d="M63.75,204.8L60.75,204.9L56.25,204L49.61,201.2L47.11,199.2L42.75,194.2L41.25,191.9L39.46,182.2L38.61,175.2L36.94,135.2L36.94,115.8L37.59,105.8L39.27,86.25L41.09,78.75L42.36,76.25L45.25,71.88L47.38,69.75L53.75,66.13L61.75,64.65L70.25,66.21L76.25,69.62L77.67,70.75L81.76,77.75L83.53,88.75L83.16,109.8L83.45,114.2L84.03,176.8L82.33,189.2L81.78,191.8L81.07,193.2L76.72,199.2L75.3,200.8L69.75,203.2Z"/><path fill="#020080" d="M63.25,204.3L60.75,204.4L56.75,203.5L49.87,200.8L47.45,198.8L43.04,193.8L41.78,191.8L39.9,181.8L39.1,174.8L37.51,134.8L37.53,115.8L38.9,94.75L39.81,85.75L41.56,78.75L45.51,72.25L47.75,69.98L54.25,66.36L61.75,65.03L68.25,66.05L70.25,66.62L75.75,69.8L77.51,71.25L80.29,75.75L81.46,78.25L82.81,85.75L83.11,89.25L82.67,109.8L82.93,114.2L83.6,176.8L81.87,189.2L80.75,192.8L75.03,200.2L69.75,202.6Z"/><path fill="#000083" d="M63.25,203.8L60.75,203.8L56.75,202.9L50.25,200.3L48.25,198.8L44.25,194.3L42.17,191.2L40.34,181.2L39.63,174.8L38.1,134.8L38.11,115.8L39.39,94.75L40.26,85.75L41.86,79.25L43.05,76.75L45.67,72.75L48.06,70.25L54.25,66.78L61.75,65.41L69.75,66.84L72.25,68.11L76.91,71.25L79.75,75.67L81,78.25L82.39,85.75L82.68,89.25L82.18,109.8L83.17,176.8L81.41,189.2L80.25,192.7L74.75,199.8L69.75,202Z"/><path fill="#00008b" d="M62.75,203.3L60.69,203.2L56.75,202.3L50.4,199.8L48.75,198.4L44.75,194.1L42.74,191.2L40.85,181.2L40.16,174.8L38.68,134.2L38.69,115.8L39.88,94.75L40.72,85.75L42.33,79.25L43.25,77.25L45.84,73.25L48.25,70.6L54.25,67.19L61.75,65.79L69.75,67.25L74.93,70.25L76.75,71.73L80.54,78.25L81.97,85.75L82.25,89.25L81.69,109.8L82.74,176.8L81.04,188.8L79.93,192.2L74.25,199.4L69.75,201.4Z"/><path fill="#000093" d="M62.25,202.8L60.25,202.6L56.75,201.7L50.75,199.3L49.25,198.1L44.75,193.3L43.13,190.8L41.37,181.2L40.65,174.2L39.26,134.2L39.28,115.8L40.36,94.75L41.17,85.75L42.79,79.25L43.75,77.22L46.34,73.25L48.72,70.75L54.75,67.42L61.75,66.17L69.25,67.46L71.25,68.4L75.64,71.25L76.97,72.75L79.66,77.25L80.75,81.25L81.82,88.75L81.2,109.8L82.02,172.2L82.32,176.2L82.07,179.8L80.27,190.2L79.66,191.8L77.9,194.2L74.75,198.2L73.25,199.4L67.25,201.6Z"/><path fill="#00009b" d="M64.25,201.9L62.25,202.2L60.25,202.1L56.25,200.9L51.25,198.9L49.71,197.8L45.45,193.2L43.69,190.8L41.88,181.2L41.17,174.2L40.96,161.8L39.85,134.8L39.85,115.8L40.87,94.25L41.61,85.75L43.09,79.75L45.49,75.25L47.25,72.68L48.75,71.19L54.75,67.81L61.75,66.54L67.75,67.46L69.75,68.04L74.75,71.09L76.05,72.25L79.65,78.25L81.15,85.75L81.41,88.75L80.72,109.8L81.22,153.2L81.55,157.2L81.58,172.2L81.9,176.2L81.66,179.8L79.8,190.2L79.09,191.8L77.27,194.2L74.45,197.8L73.25,198.8L69.75,200.3Z"/><path fill="#0000a3" d="M64.25,201.3L62.25,201.7L60.25,201.5L51.75,198.6L49.99,197.2L45.75,192.8L44.05,190.2L42.3,180.8L41.68,174.2L40.78,138.8L40.42,134.8L40.42,115.8L41.32,94.25L42.04,85.75L43.52,79.75L44.38,77.75L46.96,73.75L49.25,71.29L54.75,68.18L61.75,66.89L69.25,68.23L71.75,69.58L75.5,72.25L78.43,76.75L79.38,78.75L80.85,86.25L81.02,88.75L80.26,110.2L80.38,133.2L80.75,137.8L80.75,153.2L81.12,157.8L81.34,179.2L79.49,189.8L78.86,191.2L77.07,193.8L74.19,197.2L72.75,198.5L69.75,199.7Z"/><path fill="#0000ab" d="M64.25,200.8L62.25,201.2L60.75,201.1L51.75,198L45.9,192.2L44.39,189.8L42.76,180.8L42.13,173.8L41.94,158.8L41.55,154.8L41.33,138.2L40.95,134.2L41.05,110.2L41.59,103.2L41.75,94.25L42.45,85.75L43.93,79.75L45.1,77.25L47.41,73.75L49.75,71.37L54.75,68.54L61.75,67.24L69.25,68.58L73.25,70.98L75.25,72.55L78.99,78.75L80.65,88.25L80.26,94.75L80.23,104.8L79.85,108.8L79.92,132.8L80.32,137.8L80.32,153.2L80.71,157.8L80.97,179.2L79.07,189.8L76.92,193.2L72.75,197.9L70.25,199Z"/><path fill="#0000b3" d="M64.25,200.4L62.25,200.7L60.75,200.6L52.25,197.8L50.75,196.7L46.48,192.2L44.86,189.8L43.11,180.2L42.56,173.8L42.43,158.2L42.01,154.2L41.86,138.2L41.46,134.2L41.51,110.2L42.01,103.8L42.15,94.25L42.76,86.25L44.15,80.25L44.94,78.25L46.47,75.75L48.25,73.18L49.75,71.76L54.75,68.87L61.75,67.56L69.25,68.92L74.95,72.75L78.62,78.75L80.07,85.75L80.31,88.25L79.91,94.75L79.87,104.8L79.48,108.8L79.5,127.8L79.55,134.2L79.95,138.2L79.93,153.8L80.33,157.8L80.63,179.2L78.68,189.8L76.46,193.2L73.46,196.8L72.25,197.7L69.25,198.9Z"/><path fill="#0000bb" d="M62.75,200.3L59.75,200L52.25,197.5L46.54,191.8L45.12,189.2L43.48,180.2L42.95,173.8L42.88,158.2L42.46,154.2L42.32,138.2L41.91,133.8L41.96,108.8L42.42,103.8L42.52,94.25L43.1,86.25L44.49,80.25L46.52,76.25L48.6,73.25L49.75,72.14L55.25,69L61.75,67.86L68.75,69.04L71.25,70.4L74.75,73.03L78.27,78.75L79.41,83.75L80,88.25L79.59,94.75L79.56,104.2L79.15,108.8L79.12,127.2L79.18,134.2L79.61,138.8L79.56,153.8L79.97,157.8L80.09,172.8L80.48,176.8L80.31,179.2L78.48,189.2L77.82,190.8L76.07,193.2L72.97,196.8L71.75,197.6L69.25,198.6Z"/><path fill="#0000c3" d="M63.25,199.9L60.75,199.9L52.75,197.4L51.2,196.2L47.85,192.8L46.21,190.8L45.49,189.2L43.83,180.2L43.31,173.8L43.28,157.8L42.87,154.2L42.73,138.2L42.33,133.8L42.34,108.8L42.78,104.2L42.87,94.25L43.43,86.25L44.81,80.25L45.64,78.25L47.52,75.25L48.98,73.25L50.25,72.14L55.25,69.29L61.75,68.15L68.75,69.33L70.75,70.4L74.54,73.25L78.13,79.25L79.14,83.75L79.71,88.25L79.29,94.75L79.26,104.2L78.84,109.2L78.78,127.2L78.86,134.2L79.3,139.2L79.23,154.2L79.65,158.2L80.08,178.8L78.16,189.2L75.73,193.2L72.75,196.5L71.75,197.3L68.75,198.4Z"/><path fill="#0000cb" d="M64.25,199.3L62.25,199.7L60.75,199.6L54.75,197.9L52.75,197.1L48.65,193.2L46.59,190.8L45.84,189.2L44.15,180.2L43.61,173.2L43.66,157.8L43.26,154.2L43.08,137.8L42.73,134.2L42.7,108.8L43.12,104.2L43.2,94.25L43.75,86.25L44.95,80.75L46.87,76.75L48.93,73.75L50.25,72.48L55.25,69.57L61.75,68.43L68.75,69.61L71.25,71.06L74.25,73.37L77.84,79.25L78.61,82.25L79.44,87.75L79.02,94.25L78.99,104.2L78.55,109.8L78.48,127.2L78.56,134.2L79.02,139.2L78.91,154.2L79.33,158.2L79.8,178.8L77.86,189.2L75.81,192.8L71.75,197L69.25,198Z"/><path fill="#0000d3" d="M63.25,199.3L60.25,199.2L54.25,197.6L52.75,196.9L48.96,193.2L46.96,190.8L46.17,189.2L44.45,180.2L43.93,173.2L44.02,157.8L43.62,153.8L43.44,137.8L43.11,133.8L43.05,108.8L43.46,104.2L43.52,94.25L44.05,86.25L45.23,80.75L46.01,78.75L47.83,75.75L49.28,73.75L50.75,72.45L55.25,69.84L61.75,68.7L68.75,69.89L71.07,71.25L74.22,73.75L77.56,79.25L78.47,82.75L79.17,87.75L78.76,94.25L78.72,104.2L78.27,110.2L78.18,126.8L78.28,134.2L78.75,139.8L78.6,154.2L79.04,158.8L79.52,178.8L77.58,189.2L75.55,192.8L72.75,195.8L71.25,197L68.75,197.9Z"/><path fill="#0000db" d="M64.25,198.8L62.25,199.2L60.75,199.1L53.75,197.2L51.67,195.8L48.04,191.8L46.7,189.8L46.23,188.2L44.67,179.8L44.21,172.8L44.38,157.8L44,153.8L43.49,134.2L43.4,109.2L43.79,104.2L43.85,94.25L44.43,85.75L46.06,79.25L49.75,73.62L51.75,72.08L55.25,70.1L61.75,68.96L66.75,69.61L68.75,70.16L73.86,73.75L77.29,79.25L78.15,82.25L78.92,87.75L78.51,94.25L78.47,104.2L78.02,110.2L77.9,126.8L78.04,134.8L78.5,139.8L78.3,154.2L78.74,158.8L79.25,178.8L77.45,188.8L75.3,192.8L71.25,196.7L69.25,197.6Z"/><path fill="#0000e3" d="M63.25,198.8L60.25,198.7L53.25,196.7L51.75,195.6L49.1,192.8L47.3,190.2L46.65,188.8L45.02,180.2L44.53,173.2L44.74,157.8L44.27,150.8L43.86,133.8L43.75,108.8L44.12,104.2L44.15,94.75L44.58,86.75L45.62,81.25L46.34,79.25L47.77,76.75L49.25,74.6L50.75,73.09L53.75,71.11L55.75,70.18L61.75,69.22L66.75,69.85L68.75,70.43L73.75,74.02L77.2,79.75L78.04,82.75L78.67,87.75L78.26,94.25L78.22,104.2L77.78,110.2L77.63,126.8L77.79,134.8L78.24,139.8L78,154.2L78.45,159.2L78.99,178.8L77.19,188.8L75.08,192.8L72.25,195.7L70.75,196.7L68.75,197.5Z"/><path fill="#0000eb" d="M64.25,198.4L60.75,198.6L54.25,197L52.22,195.8L48.97,192.2L47.34,189.8L46.83,188.2L45.22,179.8L44.81,172.8L45.1,157.2L44.46,144.2L44.11,109.2L44.44,104.8L44.47,94.75L45.1,85.25L46.4,79.75L48.38,76.25L50.25,73.85L55.25,70.61L61.75,69.47L68.25,70.48L70.25,71.57L73.6,74.25L76.95,79.75L77.84,82.75L78.42,87.75L78.03,93.75L77.98,104.2L77.52,110.8L77.36,126.8L77.54,134.8L78.01,140.2L77.72,154.8L78.48,166.2L78.72,178.8L76.94,188.8L74.86,192.8L72.25,195.5L70.75,196.5L68.75,197.4Z"/><path fill="#0000f3" d="M63.75,198.3L60.75,198.4L54.25,196.8L52.25,195.6L49.22,192.2L47.43,189.2L46.09,183.2L45.45,179.2L45.1,172.2L45.46,157.2L44.79,144.2L44.82,119.8L44.47,109.2L45.14,87.25L45.69,83.25L46.28,80.75L47.16,78.75L49,75.75L50.75,73.75L53.75,71.66L55.75,70.68L61.75,69.73L68.25,70.74L70.09,71.75L73.25,74.25L76.7,79.75L77.64,82.75L78.17,87.25L77.79,93.75L77.74,104.2L77.28,110.8L77.09,126.2L77.31,135.2L77.75,139.8L77.41,154.2L78.25,166.8L78.56,177.2L78.28,180.2L76.7,188.8L74.65,192.8L71.75,195.7L70.25,196.6L68.75,197.2Z"/><path fill="#0000fb" d="M62.25,198.3L60.25,198.1L54.75,196.8L52.15,195.2L49.82,192.8L47.95,189.8L46.36,183.2L45.72,179.2L45.41,172.8L45.41,164.8L45.84,157.2L45.13,144.2L45.28,122.8L44.83,109.8L45.44,87.25L46.02,82.75L46.75,80.2L49.67,75.25L52.53,72.75L56.25,70.76L61.75,69.98L68.25,71L72.75,74.13L74.13,75.75L76.23,79.25L77.63,83.75L77.94,87.75L77.56,93.75L77.51,104.2L77.05,110.8L76.82,126.8L77.53,140.2L77.11,154.8L77.99,166.2L78.3,177.2L77.98,180.8L76.58,188.2L76.09,189.8L74.45,192.8L71.75,195.4L69.75,196.6Z"/><path fill="#0006f7" d="M63.75,197.9L60.75,198L54.25,196.5L52.25,195.1L49.67,192.2L47.86,188.8L46.54,182.8L45.98,179.2L45.7,172.2L45.72,164.8L46.21,157.2L45.45,143.8L45.72,122.8L45.2,109.2L45.71,87.75L46.18,83.25L46.75,80.88L47.72,78.75L49.58,75.75L51.25,73.99L55.75,71.17L61.75,70.23L68.25,71.25L69.99,72.25L73.25,74.98L75.7,78.75L76.99,81.75L77.71,87.25L76.56,118.8L76.55,126.2L77.29,140.2L76.81,154.8L77.78,166.8L78.04,177.2L77.81,180.2L76.22,188.8L74.25,192.7L71.75,195.2L69.75,196.5Z"/><path fill="#0012e7" d="M63.25,197.8L60.75,197.8L54.25,196.4L52.25,194.9L49.88,192.2L48.15,188.8L46.8,182.8L46.25,179.2L45.99,172.2L46.02,164.8L46.58,157.2L45.79,143.8L46.16,122.8L45.56,109.2L46,87.75L46.5,82.75L47.05,80.75L48.56,77.75L49.87,75.75L51.33,74.25L55.75,71.41L61.75,70.48L66.75,71.05L68.25,71.5L72.75,74.81L75.45,78.75L76.59,81.25L77.19,83.25L77.5,86.75L76.28,123.2L76.59,135.2L77.06,140.8L76.52,155.2L77.56,167.2L77.79,177.2L77.52,180.8L75.99,188.8L74.05,192.8L71.75,195L69.75,196.3Z"/><path fill="#001ed7" d="M64.25,197.4L61.25,197.6L54.75,196.4L52.82,195.2L50.44,192.8L48.59,189.2L47.06,182.8L46.49,179.2L46.29,172.8L46.32,164.8L46.96,156.8L46.12,143.8L46.6,122.8L45.92,109.2L46.29,87.75L46.73,82.75L47.51,80.25L49.11,77.25L51.72,74.25L54.25,72.42L56.25,71.47L61.75,70.73L66.75,71.29L68.25,71.75L72.75,75.13L75.2,78.75L76.6,81.75L77.11,83.75L77.28,86.25L76.02,123.2L76.38,135.8L76.83,140.8L76.22,155.2L77.33,167.2L77.37,180.2L75.9,188.2L74.26,192.2L71.75,194.8L69.75,196.1L68.25,196.7Z"/><path fill="#002ac7" d="M63.75,197.3L60.75,197.4L54.75,196.3L52.75,195L50.28,192.2L48.68,188.8L47.3,182.8L46.74,179.2L46.56,172.8L46.59,165.2L47.34,156.8L46.43,142.8L47.05,122.8L46.28,108.8L46.57,87.75L46.95,82.75L47.55,80.75L49.07,77.75L50.25,75.98L51.75,74.52L54.25,72.67L56.25,71.7L61.75,70.97L66.25,71.43L68.25,71.98L72.75,75.45L74.98,78.75L76.41,81.75L76.95,83.75L77.11,86.25L75.76,122.8L76.14,135.8L76.6,140.8L75.93,155.2L77.11,167.2L77.34,177.2L77.11,180.8L75.56,188.8L74.08,192.2L71.75,194.6L69.75,196L68.25,196.5Z"/><path fill="#0036b7" d="M62.75,197.3L60.75,197.2L54.75,196.1L52.75,194.8L50.47,192.2L48.93,188.8L47.53,182.8L46.96,179.2L46.82,172.8L46.87,165.2L47.71,156.8L46.75,142.8L47.49,123.2L46.62,109.2L47.1,83.25L47.59,81.25L49.04,78.25L50.31,76.25L51.75,74.81L54.25,72.92L56.25,71.92L61.75,71.2L67.75,72.01L69.25,72.78L72.25,75.26L74.44,78.25L76.01,81.25L76.71,83.25L76.94,85.75L75.51,122.8L75.55,128.2L76.37,140.8L75.66,155.8L76.9,167.2L77.13,176.8L76.92,180.8L75.36,188.8L73.75,192.4L71.25,194.8L69.25,196Z"/><path fill="#0042a7" d="M64.25,196.8L61.25,197.1L55.25,196.1L53.75,195.4L51.88,193.8L50.35,191.8L49.16,188.8L47.66,182.2L47.15,178.2L47.14,165.2L48.08,156.8L47.05,142.8L47.08,137.2L47.92,123.2L46.96,109.2L47.32,83.25L47.82,81.25L49.28,78.25L50.58,76.25L51.75,75.09L54.25,73.16L56.25,72.14L61.75,71.43L67.75,72.23L69.25,73.02L72.25,75.53L75.6,80.75L76.44,82.75L76.77,85.25L75.26,122.8L75.31,128.2L76.15,140.8L75.38,155.8L76.69,167.2L76.79,180.2L75.16,188.8L73.73,192.2L71.25,194.7L69.25,195.9Z"/><path fill="#004e97" d="M63.75,196.8L61.25,197L55.25,196L53.71,195.2L51.61,193.2L50.28,191.2L49.37,188.8L47.95,182.8L47.35,178.2L47.4,165.2L48.43,156.8L47.35,142.8L47.39,137.2L48.34,123.2L47.28,109.2L47.52,83.25L48.05,81.25L49.51,78.25L50.44,76.75L51.89,75.25L54.47,73.25L56.25,72.35L61.75,71.65L67.75,72.44L69.25,73.26L72.2,75.75L74.35,78.75L75.89,81.75L76.42,83.25L76.64,85.25L75.01,122.8L75.07,128.2L75.94,140.8L75.12,156.2L76.48,167.2L76.62,180.2L74.98,188.8L73.54,192.2L71.25,194.5L69.25,195.7Z"/><path fill="#005a87" d="M62.75,196.8L60.75,196.8L54.75,195.7L53.25,194.7L51.02,192.2L49.57,188.8L48.05,182.2L47.59,179.2L47.5,173.2L47.65,165.2L48.78,156.8L47.65,142.8L47.69,137.2L48.75,122.8L47.59,109.2L47.72,83.25L48.28,81.25L50.02,77.75L52.22,75.25L54.75,73.3L56.25,72.55L61.75,71.87L67.75,72.64L69.25,73.48L71.93,75.75L74.16,78.75L75.5,81.25L76.28,83.25L76.5,85.25L74.77,122.8L74.84,128.2L75.72,140.8L74.85,156.2L76.31,167.8L76.61,175.2L76.46,180.2L74.8,188.8L73.36,192.2L71.25,194.3L68.86,195.8Z"/><path fill="#006678" d="M64.75,196.3L61.25,196.7L55.75,195.8L54.2,195.2L52.44,193.8L50.89,191.8L49.92,189.2L48.33,182.8L47.74,178.2L47.87,165.8L49.11,156.8L47.93,142.2L47.96,137.8L49.13,122.8L47.9,109.2L47.92,83.25L48.49,81.25L50.57,77.25L53.77,74.25L56.75,72.59L61.75,72.09L67.75,72.84L69.25,73.7L71.75,75.82L72.98,77.25L75.1,80.75L76.14,83.25L76.37,85.25L74.52,122.8L74.61,128.2L75.5,140.8L74.63,152.2L74.6,156.8L76.12,167.8L76.46,175.2L76.3,180.2L75.12,186.8L73.55,191.8L71.25,194.2L69.25,195.4L67.75,195.9Z"/><path fill="#007268" d="M63.75,196.3L61.25,196.5L55.25,195.6L53.75,194.8L52.16,193.2L50.82,191.2L49.95,188.8L48.5,182.8L47.92,178.2L48.11,165.8L49.45,156.8L48.22,142.2L48.26,137.8L49.5,122.8L48.18,108.8L47.93,94.25L48.12,83.25L48.71,81.25L50.75,77.32L54.06,74.25L56.75,72.79L61.75,72.3L66.25,72.65L67.75,73.04L71.75,76.04L74.94,80.75L76.01,83.25L76.24,85.25L74.28,122.8L74.38,128.2L75.29,140.8L74.39,152.2L74.34,156.8L75.93,167.8L76.31,174.8L76.15,180.2L74.96,186.8L73.25,191.9L71.25,194L69.25,195.3L67.75,195.8Z"/><path fill="#007e58" d="M63.25,196.3L60.75,196.3L55.25,195.4L53.75,194.6L51.92,192.8L50.79,190.8L49.58,186.8L48.57,182.2L48.1,178.2L48.35,165.8L49.78,156.8L48.5,140.2L49.86,122.8L48.48,108.8L48.14,94.25L48.31,83.25L48.93,81.25L50.75,77.66L54.25,74.33L56.75,72.98L61.75,72.51L66.25,72.84L67.75,73.23L71.74,76.25L73.75,78.91L75.04,81.25L75.88,83.25L76.12,85.25L74.03,122.8L74.66,137.2L75.06,140.8L74.14,152.2L74.07,156.8L75.74,167.8L76.18,174.8L76.01,180.2L74.29,188.8L73.49,191.2L72.82,192.2L70.75,194.2L68.75,195.3Z"/><path fill="#008948" d="M64.75,195.8L61.75,196.2L55.75,195.4L54.25,194.8L52.75,193.5L51.42,191.8L50.31,188.8L48.83,182.8L48.28,178.2L48.58,165.8L50.11,156.8L48.8,140.2L50.22,122.8L48.78,108.8L48.35,94.25L48.51,83.25L49.15,81.25L50.92,77.75L54.25,74.56L56.75,73.17L61.75,72.71L65.75,72.96L67.75,73.41L71.25,76.02L72.42,77.25L74.39,80.25L75.75,83.25L76,85.25L73.77,122.8L74.84,140.8L73.89,152.2L73.8,156.8L75.55,167.8L76.06,174.8L75.92,179.8L74.9,185.8L73.03,191.8L71.25,193.7L69.25,195L67.75,195.5Z"/><path fill="#009538" d="M64.25,195.8L61.25,196.1L55.75,195.3L54.25,194.6L52.72,193.2L51.34,191.2L49.9,186.8L48.89,182.2L48.44,178.2L48.82,165.8L50.45,156.8L49.11,140.2L50.59,122.8L49.09,108.8L48.55,94.25L48.64,83.75L49.15,81.75L50.82,78.25L51.98,76.75L54.3,74.75L55.75,73.77L57.25,73.24L61.75,72.92L65.75,73.15L67.75,73.6L71.25,76.22L72.75,77.95L74.51,80.75L75.62,83.25L75.89,85.25L73.5,122.8L74.61,140.8L73.53,156.8L75.42,168.2L75.93,174.8L75.78,179.8L74.88,185.2L72.85,191.8L70.97,193.8L68.75,195Z"/><path fill="#00a128" d="M63.25,195.8L61.25,195.9L55.75,195.1L54.25,194.4L52.47,192.8L51.31,190.8L49.91,186.2L49.04,182.2L48.61,178.2L49.07,165.8L50.79,156.8L49.42,140.8L50.96,122.8L49.39,108.2L48.75,94.25L48.83,83.75L49.36,81.75L51.04,78.25L52.25,76.75L54.59,74.75L57.25,73.42L61.75,73.13L67.25,73.61L68.75,74.34L71.06,76.25L72.44,77.75L74.37,80.75L75.5,83.25L75.77,85.25L73.23,122.8L74.38,140.8L73.24,156.8L75.25,168.4L75.81,174.8L75.65,179.8L74.62,185.8L72.67,191.8L70.77,193.8L68.75,194.9Z"/><path fill="#00ad18" d="M62.25,195.8L55.25,194.8L53.75,193.9L52.28,192.2L51.48,190.8L49.93,185.8L49.11,181.8L48.77,177.2L49.31,165.8L51.14,156.8L49.75,140.8L51.33,122.8L49.68,107.8L48.94,94.25L49.02,83.75L49.58,81.75L51.26,78.25L54.75,74.85L57.25,73.61L61.75,73.33L67.25,73.79L68.75,74.54L70.83,76.25L72.25,77.73L73.97,80.25L75.37,83.25L75.65,85.25L72.94,122.8L74.14,140.8L72.95,156.8L75.25,170L75.69,174.8L75.46,180.2L74.85,184.2L73.75,188.4L73.02,190.8L72.1,192.2L70.55,193.8L68.25,194.9Z"/><path fill="#00b908" d="M64.25,195.3L61.75,195.6L56.25,194.9L54.75,194.4L53.25,193.2L51.75,191L50.2,186.2L49.34,182.2L48.94,178.2L48.97,173.2L49.57,165.8L51.5,156.8L50.09,140.8L51.71,122.8L50.13,109.2L49.35,97.75L49.21,83.75L49.8,81.75L51.49,78.25L54.55,75.25L55.75,74.37L57.25,73.8L61.25,73.55L66.25,73.76L68.78,74.75L71.25,76.81L73.25,79.32L75.06,82.75L75.53,84.75L72.64,122.8L73.89,140.8L72.65,156.8L75.11,170.2L75.57,174.8L75.4,179.8L74.47,185.2L73.03,190.2L72.31,191.8L70.75,193.5L68.75,194.6Z"/><path fill="#08c100" d="M63.75,195.3L61.25,195.5L55.75,194.6L54.25,193.9L53.04,192.8L51.83,190.8L50.34,186.2L49.48,182.2L49.11,178.2L49.15,173.2L49.82,165.8L51.86,156.8L50.43,140.8L52.09,122.8L50.47,109.2L49.36,94.75L49.41,83.75L51.41,78.75L52.58,77.25L54.75,75.31L57.25,73.99L61.25,73.75L66.75,74.03L69.25,75.32L71.49,77.25L73.39,79.75L75.12,83.25L75.43,85.25L72.34,122.8L73.64,140.8L72.34,156.8L74.95,170.2L75.46,174.8L75.27,179.8L74.34,185.2L72.86,190.2L72.13,191.8L70.75,193.3L68.75,194.4Z"/><path fill="#18c500" d="M62.75,195.3L61.25,195.3L55.75,194.4L54.25,193.7L52.84,192.2L52.01,190.8L50.35,185.8L49.56,181.8L49.26,177.8L49.32,173.2L50.08,165.8L52.22,156.8L50.78,140.8L52.47,122.8L50.82,109.2L49.56,94.75L49.61,83.75L51.75,78.56L55.11,75.25L57.25,74.19L61.75,73.95L67.25,74.34L68.75,75.11L70.75,76.73L73.83,80.75L75,83.25L75.31,85.25L72.03,122.8L73.38,140.8L72.03,156.8L74.86,170.8L75.34,174.8L75.14,179.8L74.06,185.8L72.5,190.8L71.58,192.2L70.25,193.5L68.25,194.4Z"/><path fill="#28c900" d="M64.75,194.8L62.25,195.2L60.75,195.1L55.75,194.3L53.75,193.1L52.25,190.9L50.63,186.2L49.47,179.2L49.45,173.8L50.27,166.2L52.58,156.8L51.13,140.8L52.85,122.8L49.76,94.75L49.75,84.25L50.45,81.75L52.25,78.2L55.75,75.01L58.25,74.25L65.75,74.27L68.25,74.96L71.1,77.25L72.75,79.25L74.67,82.75L75.19,84.75L71.72,122.8L72.7,132.8L73.13,140.8L71.72,156.8L74.71,170.8L75.22,174.8L75.06,179.2L74.25,184.6L72.51,190.2L71.77,191.8L70.75,192.9L69.25,193.9L67.75,194.4Z"/><path fill="#38cd00" d="M63.75,194.8L61.25,195L56.25,194.2L54.75,193.7L53.64,192.8L52.37,190.8L50.75,186.2L49.92,182.2L49.61,178.8L49.62,173.8L50.52,166.2L52.95,156.8L51.47,140.8L53.23,122.8L49.95,94.75L49.95,84.25L51.3,80.25L52.75,77.92L55.75,75.23L57.25,74.58L58.75,74.42L65.75,74.46L68.25,75.15L70.9,77.25L72.75,79.47L74.54,82.75L75.07,84.75L71.41,122.8L72.45,132.8L72.87,140.8L71.41,156.8L74.63,171.2L75.1,174.8L74.88,179.8L73.78,185.8L72.25,190.5L71.25,192.2L70.13,193.2L68.25,194.1Z"/><path fill="#48d100" d="M62.75,194.8L60.75,194.8L55.75,193.9L54.45,193.2L53.43,192.2L52.56,190.8L50.77,185.8L50.07,182.2L49.77,178.8L49.79,173.8L50.77,166.2L53.31,156.8L51.82,140.8L53.59,122.8L50.1,94.25L50.14,84.25L51.51,80.25L52.75,78.22L56.07,75.25L58.75,74.62L65.75,74.65L68.25,75.35L70.75,77.3L72.75,79.69L74.41,82.75L74.95,84.75L71.11,122.8L72.2,132.8L72.61,140.8L71.1,156.8L73.9,168.2L74.8,173.2L74.99,175.2L74.75,179.8L73.75,185.4L72.15,190.2L71.04,192.2L69.85,193.2L68.25,193.9Z"/><path fill="#58d500" d="M64.75,194.3L62.25,194.7L60.75,194.6L55.93,193.8L54.1,192.8L52.74,190.8L51.07,186.2L50.21,182.2L49.96,179.2L49.96,173.8L51.01,166.2L53.66,156.8L52.15,140.8L52.69,133.2L53.94,122.8L50.29,94.25L50.29,84.75L50.89,82.25L52.75,78.53L55.75,75.68L56.75,75.13L58.25,74.84L65.75,74.85L68.25,75.54L70.75,77.5L72.63,79.75L74.28,82.75L74.83,84.75L70.82,122.8L71.95,132.8L72.36,140.8L70.8,156.8L74.33,171.2L74.86,174.8L74.67,179.2L73.79,184.8L71.22,191.8L70.35,192.8L69.25,193.4Z"/><path fill="#68d900" d="M63.75,194.3L61.25,194.5L56.72,193.8L55.12,193.2L53.86,192.2L52.75,190.3L51.07,185.8L50.13,179.2L50.13,173.8L51.26,166.2L53.99,156.8L52.48,140.8L52.97,133.8L54.27,122.8L50.48,94.25L50.49,84.75L51.1,82.25L52.83,78.75L56.25,75.59L58.75,75.02L65.75,75.05L68.25,75.74L70.75,77.7L72.46,79.75L74.14,82.75L74.7,84.75L70.54,122.8L71.71,132.8L72.11,140.8L70.52,156.8L74.25,171.7L74.74,174.8L74.54,179.2L73.75,184.4L71.03,191.8L70.09,192.8L68.75,193.4Z"/><path fill="#78dd00" d="M62.75,194.3L60.75,194.3L56.25,193.4L54.1,192.2L53.14,190.8L51.22,185.8L50.29,179.2L50.3,173.8L51.49,166.2L54.3,156.8L52.81,140.8L53.28,133.8L54.58,122.8L52.19,103.8L50.66,94.25L50.68,84.75L51.31,82.25L53.09,78.75L56.25,75.81L58.75,75.22L65.75,75.25L68.25,75.94L70.59,77.75L72.29,79.75L73.99,82.75L74.57,84.75L70.27,122.8L71.46,132.8L71.85,140.8L70.25,156.8L74.25,172.5L74.61,175.2L74.4,179.2L73.65,184.2L71.59,190.2L70.75,191.9L69.75,192.8L68.25,193.4Z"/><path fill="#87e100" d="M64.75,193.8L60.75,194.1L56.25,193.3L54.35,192.2L53.34,190.8L51.55,186.2L50.54,180.8L50.43,174.2L51.37,168.2L52.08,164.8L54.59,156.8L53.12,140.8L53.57,133.8L54.87,122.8L52.47,103.8L50.85,94.25L50.87,84.75L51.52,82.25L53.25,78.88L56.25,76.05L58.25,75.46L65.75,75.46L68.25,76.14L70.37,77.75L72.25,79.94L73.85,82.75L74.43,84.75L70.02,122.8L71.22,132.8L71.6,140.8L69.99,156.8L74.25,173.3L74.48,175.2L74.26,179.2L73.5,184.2L70.75,191.6L69.25,192.8Z"/><path fill="#97e500" d="M63.75,193.8L61.25,193.9L57.15,193.2L55.25,192.7L54.25,191.9L53.32,190.2L51.55,185.8L50.66,179.8L50.6,174.2L51.59,168.2L52.32,164.8L54.86,156.8L53.44,140.8L53.86,133.8L55.15,122.8L52.75,103.8L51.04,94.25L51.07,84.75L52.14,81.25L53.64,78.75L56.25,76.29L58.75,75.65L66.25,75.71L68.25,76.35L70.25,77.85L72.25,80.19L73.75,82.86L74.3,84.75L69.77,122.8L70.98,132.8L71.34,140.8L69.73,156.8L74.2,173.8L74.11,179.2L73.25,184.6L70.41,191.8L68.75,192.8Z"/><path fill="#a7e900" d="M62.25,193.8L56.25,192.8L54.97,192.2L54.25,191.5L51.72,185.8L50.96,181.8L50.82,179.2L50.77,174.2L52.09,166.8L55.12,156.8L53.75,140.8L54.14,133.8L55.42,122.8L53.03,103.8L51.16,93.75L51.23,85.25L51.73,82.75L53.5,79.25L56.25,76.55L57.25,76.07L58.75,75.89L66.25,75.93L68.25,76.56L70.25,78.07L72.09,80.25L73.75,83.21L74.15,84.75L69.52,122.8L70.78,133.2L71.08,140.8L69.48,156.8L74.04,173.8L73.96,179.2L73.18,184.2L70.25,191.7L68.25,192.8Z"/><path fill="#b7ed00" d="M64.25,193.3L62.25,193.6L60.25,193.4L56.25,192.6L54.75,191.8L53.75,190.3L51.91,185.8L51.06,180.8L50.89,175.2L51.19,172.8L52.66,165.2L55.38,156.8L54.06,140.8L54.42,133.8L55.68,122.8L53.31,103.8L51.35,93.75L51.39,85.75L51.77,83.25L53.4,79.75L56.25,76.8L58.25,76.15L66.25,76.17L68.25,76.78L70.21,78.25L71.88,80.25L73.36,82.75L73.99,84.75L69.27,122.8L70.53,133.2L70.81,140.8L69.24,156.8L73.88,173.8L73.8,179.2L73.01,184.2L70.25,191.3L68.75,192.4Z"/><path fill="#c7f100" d="M63.25,193.3L61.25,193.3L57.25,192.6L55.75,192.2L54.75,191.5L52.1,185.8L51.2,179.8L51.09,174.8L51.75,170.8L52.9,165.2L55.64,156.8L54.37,140.8L54.71,133.8L55.96,122.8L53.67,104.2L51.54,93.75L51.6,85.75L52.15,82.75L53.75,79.65L56.25,77.08L57.25,76.58L58.75,76.38L66.25,76.41L68.25,77L69.96,78.25L71.66,80.25L73.25,82.88L73.83,84.75L72.83,94.25L70.11,112.8L69.01,122.8L70.27,133.2L70.53,140.8L68.97,156.8L73.72,173.8L73.63,179.2L72.84,184.2L70.03,191.2L68.6,192.2Z"/><path fill="#d7f500" d="M64.75,192.8L60.75,193L56.75,192.3L55.25,191.6L54.23,190.2L52.3,185.8L51.44,180.8L51.25,175.2L51.48,173.2L53.15,165.2L55.91,156.8L54.69,140.8L54.96,134.2L56.24,122.8L53.97,104.2L51.72,93.75L51.75,86.38L52.2,83.25L53.61,80.25L56.25,77.35L58.25,76.67L66.25,76.67L68.25,77.23L69.75,78.28L71.75,80.7L73.25,83.25L73.65,84.75L72.66,94.25L69.9,112.2L68.73,122.8L69.98,133.2L70.25,140.8L68.71,156.8L73.55,173.8L73.5,178.8L72.75,183.9L70.07,190.8L68.75,191.9Z"/><path fill="#e7f900" d="M63.25,192.8L60.75,192.8L57.25,192.1L55.75,191.6L54.8,190.8L52.35,185.2L51.56,179.2L51.43,175.2L51.77,172.8L53.42,165.2L56.2,156.8L55.03,140.8L55.28,134.2L56.59,123.2L56.47,120.2L54.37,104.8L51.92,93.75L51.94,86.75L52.41,83.25L53.88,80.25L56.25,77.63L57.25,77.12L58.75,76.92L66.25,76.94L68.25,77.46L69.75,78.52L71.19,80.25L73.04,83.25L73.47,84.75L72.48,94.25L69.59,112.2L68.4,122.8L69.67,133.2L69.94,140.8L69.71,144.8L68.5,153.8L68.43,157.2L73.26,173.2L73.55,175.2L73.28,179.2L72.61,183.8L69.75,190.8L68.25,191.9Z"/><path fill="#f7fd00" d="M64.75,192.3L60.75,192.6L56.75,191.7L55.25,190.9L52.57,185.2L51.78,179.8L51.61,175.2L51.87,173.2L53.75,165.1L56.1,158.8L56.57,156.8L55.37,140.8L55.65,134.2L57.01,122.8L56.9,120.2L54.7,104.8L52.12,93.75L52.12,87.25L52.5,83.75L53.75,80.87L56.25,77.91L58.25,77.22L66.25,77.21L68.25,77.69L69.73,78.75L70.95,80.25L72.75,83.09L73.28,84.75L72.3,94.25L69.38,111.2L67.99,122.8L69.27,132.8L69.62,140.8L69.37,144.8L68.11,153.8L68.07,157.2L71.25,166.7L73.07,173.2L73.37,175.2L73.14,178.8L72.42,183.8L69.75,190.3L69.25,191L68.25,191.6Z"/><path fill="#fffb00" d="M63.25,192.3L61.25,192.4L57.75,191.7L56.25,191.3L55.25,190.5L52.75,185.1L51.91,178.8L51.88,174.2L53.25,168L57.06,156.8L56.94,152.8L56.03,146.2L55.74,140.8L56.09,134.2L57.49,125.8L57.64,122.8L57.54,120.2L55.15,105.2L52.32,93.75L52.33,87.25L52.75,83.66L54.1,80.75L56.25,78.2L57.25,77.67L58.75,77.46L66.25,77.48L68.25,77.91L69.47,78.75L70.71,80.25L72.61,83.25L73.08,84.75L72.12,94.25L68.84,111.8L67.36,122.8L68.85,133.2L69.28,140.8L68.98,144.8L67.6,153.2L67.51,156.8L67.93,158.8L71.25,167.5L72.88,173.2L73.19,175.2L72.95,178.8L72.22,183.8L69.25,190.6L67.75,191.5Z"/><path fill="#fff300" d="M64.75,191.8L62.75,192.1L60.75,192.1L57.25,191.3L55.75,190.6L54.75,189.2L52.86,184.8L52.09,178.8L52.07,174.2L53.59,167.8L54.75,164.2L57.6,158.2L58.09,156.2L58.14,153.8L56.56,146.2L56.16,140.2L56.75,133.8L59.12,125.8L59.63,122.8L55.44,104.8L52.52,93.75L52.46,88.75L52.85,84.25L53.76,81.75L56.25,78.48L58.25,77.76L66.25,77.74L68.25,78.14L69.25,78.79L70.49,80.25L72.38,83.25L72.88,84.75L71.56,96.25L68.85,109.2L65.39,122.8L65.66,124.8L68.25,133.6L68.89,140.2L68.59,144.2L66.46,153.2L66.37,155.8L66.92,158.2L69.75,164.3L71.75,169.8L72.98,174.8L72.81,178.2L72.16,183.2L69.25,190.2L67.75,191.2Z"/><path fill="#ffeb00" d="M63.25,117.5L62.25,117.7L61.25,116.8L58.25,111.6L56.52,107.2L52.65,93.25L52.67,88.75L53.32,83.25L54.29,81.25L55.75,79.25L56.75,78.41L57.75,78.07L66.25,77.99L68.25,78.36L70.27,80.25L72.14,83.25L72.68,84.75L71.66,94.75L68.6,107.8L66.25,112.9ZM62.25,153.9L60.75,152.4L57.66,147.2L56.97,144.8L56.61,140.8L57.08,136.2L57.75,134L61.25,129L62.75,128.2L64.25,129.5L67.25,133.9L68.02,136.8L68.47,140.8L68.01,144.2L66.75,148.1L63.25,153.1ZM63.25,191.8L61.25,191.9L57.75,191.2L56.25,190.6L55.25,189.6L52.93,184.2L52.16,175.8L52.35,173.8L53.75,168.2L55.25,164.2L56.75,161.8L61.25,156.4L62.25,155.6L63.25,156.4L67.75,161.8L69.25,164.2L71.37,169.2L72.82,175.2L71.96,183.2L69.25,189.7L67.75,190.9Z"/><path fill="#ffe300" d="M63.25,112.9L62.25,113L60.75,112L57.31,107.2L55.41,102.2L52.84,93.25L52.84,89.25L53.54,83.25L55.75,79.55L56.75,78.67L57.75,78.31L66.25,78.23L68.25,78.58L70.06,80.25L71.9,83.25L72.47,84.75L71.48,94.75L68.44,106.2L67.25,108.7L64.25,112.2ZM63.25,148.8L62.25,149L61.25,148.6L58.75,146.7L57.75,144.8L57.17,141.8L57.46,138.2L58.25,135.7L59.75,134.1L62.25,132.8L63.75,133.1L66.25,135L67.25,136.7L67.94,140.2L67.75,142.5L66.75,145.6L65.25,147.5ZM64.75,191.3L62.25,191.7L60.75,191.6L57.25,190.8L55.75,189.9L53.28,184.8L52.48,179.2L52.54,173.8L54.01,168.2L55.25,165.3L56.25,163.7L57.25,162.8L60.75,160.8L62.25,160.4L63.25,160.6L66.75,162.4L68.75,164.3L70.96,168.8L72.61,174.8L71.89,182.8L69.44,188.8L68.25,190.4Z"/><path fill="#ffdb00" d="M63.25,110.3L62.25,110.4L61.25,109.9L59.25,108.4L57.75,106.6L55.75,102.3L53.03,93.25L53.04,89.25L53.76,83.25L55.75,79.83L56.75,78.91L57.75,78.54L66.25,78.45L68.25,78.8L69.85,80.25L72.27,84.75L71.29,94.75L68.21,105.2L66.75,107.9ZM63.75,146.4L61.75,146.6L59.75,145.9L58.75,144.8L58.02,142.8L57.85,140.2L58.61,137.2L59.75,136L61.25,135.5L63.25,135.4L65.75,136.3L66.68,137.8L67.23,139.8L67.22,141.8L66.25,144.5L65.25,145.7ZM63.25,191.3L61.25,191.4L58.25,190.8L56.75,190.3L55.75,189.5L53.32,184.2L52.58,178.2L52.52,175.2L52.86,173.2L54.3,168.2L55.75,165.3L56.75,164.1L57.75,163.5L62.25,162.6L66.75,163.5L68.43,164.8L70.75,168.8L72.45,175.2L71.69,182.8L68.91,189.2L67.75,190.3Z"/><path fill="#ffd300" d="M63.75,108.8L62.75,109L61.25,108.6L59.25,107.3L57.95,105.8L55.75,101.4L53.22,93.25L53.17,90.25L53.8,83.75L55.75,80.11L56.75,79.15L57.75,78.77L66.25,78.67L68.25,79.01L69.99,80.75L72.08,84.75L71.22,94.25L69.38,100.8L66.82,106.8L65.75,107.7ZM63.75,144.8L60.75,144.8L59.81,144.2L59.25,143.4L58.75,141.8L58.77,140.2L59.43,138.2L60.25,137.4L61.75,137.1L64.25,137.2L65.25,137.7L65.75,138.3L66.37,140.2L66.25,141.8L65.25,143.9ZM64.75,190.8L61.25,191.2L56.75,190.1L55.25,188.3L53.38,183.8L52.74,178.2L52.92,173.8L55.25,166.9L56.75,164.8L58.25,164.1L64.75,163.9L66.75,164.2L67.75,164.8L70.25,168.3L72.06,173.8L72.26,175.8L71.68,181.8L70.59,185.2L68.25,189.7L67.25,190.2Z"/><path fill="#ffcb00" d="M63.75,107.9L62.25,108.1L60.75,107.5L59.25,106.4L57.75,104.6L56,101.2L53.4,93.25L53.35,90.25L53.99,83.75L55.86,80.25L56.75,79.38L57.75,78.97L66.25,78.87L68.25,79.21L69.8,80.75L71.89,84.75L71.14,93.75L69.46,99.75L66.75,105.8L65.75,106.9ZM63.25,142.6L62.25,142.7L61.17,142.2L60.85,140.8L61.59,139.8L63.25,139.6L64.06,140.2L64.06,141.8ZM63.75,190.8L61.25,191L56.75,189.8L55.25,187.9L53.55,183.8L52.89,178.2L53.11,173.8L55.25,167.6L56.75,165.5L58.25,164.7L65.25,164.5L67.61,165.2L69.96,168.2L71.99,174.2L72.02,176.8L71.42,182.2L69.75,186.6L68.65,188.8L67.75,189.7Z"/><path fill="#ffc300" d="M63.25,107.3L61.75,107.2L60.25,106.4L57.75,103.8L56.09,100.8L53.58,93.25L53.48,90.75L54.18,83.75L56.07,80.25L57.75,79.17L66.25,79.06L68.25,79.41L69.62,80.75L71.7,84.75L71.55,89.25L70.97,93.75L69.2,99.75L66.25,105.6L65.25,106.5ZM62.25,190.8L57.75,190L56.41,189.2L55.64,188.2L53.61,183.2L53.05,178.2L53.08,174.8L55.22,168.2L57.25,165.6L59.25,165L65.75,165L67.25,165.5L68.75,166.9L69.75,168.4L70.75,170.9L71.92,175.2L71.32,181.8L70.18,185.2L67.97,189.2L66.25,190.1Z"/><path fill="#ffbb00" d="M64.25,106.3L62.75,106.6L61.25,106.3L59.75,105.3L58.25,103.7L56.25,100.4L53.75,93.25L53.62,91.25L54.35,83.75L55.88,80.75L56.75,79.81L57.75,79.36L67.75,79.41L69.44,80.75L71.52,84.75L71.34,89.75L70.72,94.25L70.01,96.75L68.75,100.3L67.25,103L65.75,105.2ZM64.25,190.3L61.25,190.5L58.25,189.9L56.75,189.3L55.57,187.8L53.89,183.8L53.2,178.2L53.35,174.2L55.54,168.2L56.75,166.6L58.25,165.6L65.25,165.5L67.25,166L68.75,167.4L69.66,168.8L71.63,174.2L71.71,176.2L71.14,181.8L69.98,185.2L67.75,189.1L66.75,189.7Z"/><path fill="#ffb300" d="M63.75,105.8L62.25,105.9L60.75,105.3L57.75,102.4L56.25,99.79L53.92,93.25L53.78,91.25L54.52,83.75L56.07,80.75L57.75,79.55L67.75,79.6L69.25,80.75L71.35,84.75L71.25,89.25L70.66,93.75L69.1,98.75L68.25,100.7L66.25,103.7L65.25,104.9ZM62.75,190.3L58.75,189.9L56.75,189L55.02,186.2L53.86,182.8L53.33,177.8L53.67,173.8L55.87,168.2L57.25,166.6L58.75,166L65.25,165.9L67.25,166.4L68.75,167.8L69.63,169.2L71.54,174.8L70.77,182.8L68.47,187.8L67.75,188.8L66.75,189.4Z"/><path fill="#ffab00" d="M62.75,105.3L61.75,105.1L60.25,104.2L57.25,101.1L55.47,97.25L53.98,92.75L54.55,84.25L56.25,80.76L57.75,79.73L67.75,79.78L69.25,81.01L71.29,85.25L70.5,93.75L68.48,99.75L67.25,101.7L65.25,104.1L64.25,104.8ZM64.75,189.8L61.75,190.2L57.25,189.1L55.75,187.4L54.23,183.8L53.51,178.2L53.71,174.2L55.92,168.8L57.07,167.2L58.25,166.5L64.75,166.3L67.25,166.9L69.25,169.1L71.25,174.2L71.26,177.8L70.71,182.2L70.23,183.8L67.75,188.5L66.75,189.2Z"/><path fill="#ffa300" d="M63.75,104.4L62.75,104.6L61.25,104.2L57.75,101.3L56.25,98.61L54.25,93.25L54.09,91.25L54.71,84.25L56.07,81.25L56.75,80.45L57.75,79.91L67.75,79.97L69.23,81.25L71.13,85.25L70.96,89.25L70.35,93.75L68.66,98.75L67.25,101.3ZM63.25,189.8L60.75,189.8L57.09,188.8L55.75,187L54.27,183.2L53.66,178.2L53.9,174.2L56.25,168.7L57.25,167.5L58.75,166.8L65.25,166.7L67.25,167.3L69.05,169.2L71.08,174.2L71.19,176.2L70.61,181.8L69.25,185.5L67.12,188.8Z"/><path fill="#ff9b00" d="M63.25,103.9L62.25,103.9L61.25,103.5L57.75,100.8L56.25,98.08L54.41,93.25L54.24,91.25L54.86,84.25L56.25,81.25L57.75,80.09L65.75,79.93L67.75,80.15L69.05,81.25L70.97,85.25L70.82,89.25L70.19,93.75L68.44,98.75L66.75,101.3ZM64.75,189.3L61.75,189.7L57.48,188.8L56.25,187.5L54.57,183.8L53.82,178.2L53.96,174.8L56.61,168.8L57.75,167.6L58.75,167.2L65.25,167.1L67.25,167.7L68.75,169.3L70.89,174.2L70.86,178.2L70.35,182.2L69.85,183.8L67.35,188.2L66.25,188.9Z"/><path fill="#ff9300" d="M62.75,103.3L60.75,102.6L57.75,100.3L56.1,97.25L54.45,92.75L55.01,84.25L56.44,81.25L57.25,80.48L58.25,80.16L67.75,80.33L69.19,81.75L70.81,85.25L70.68,89.25L70.03,93.75L68.22,98.75L67.37,100.2L66.25,101.4L63.75,103ZM63.75,189.3L61.25,189.5L58.75,189L57.25,188.4L55.78,186.2L54.61,183.2L53.99,178.2L54.25,174.4L56.75,169.1L57.75,168L58.75,167.6L65.25,167.5L67.25,168.1L68.75,169.8L70.75,174.5L70.75,177.6L70.25,181.8L69.25,184.7L67,188.2L65.75,188.9Z"/><path fill="#ff8b00" d="M63.75,102.4L62.75,102.6L61.75,102.5L58.25,100.4L56.75,98.18L54.73,93.25L54.52,91.75L55.04,84.75L56.27,81.75L57.75,80.45L65.75,80.26L67.75,80.52L69.02,81.75L70.64,85.25L70.48,89.75L69.88,93.75L69.25,95.73L67.25,100L65.75,101.3ZM62.25,189.3L58.25,188.6L57.25,188.1L56.25,186.8L54.68,182.8L54.15,178.2L54.25,175.2L56.25,170.5L57.75,168.5L59.75,167.9L65.75,168L67.25,168.5L68.03,169.2L70.47,174.2L70.58,177.2L70.06,181.8L69.24,184.2L67.17,187.8L65.75,188.6Z"/><path fill="#ff8300" d="M63.75,101.9L61.75,101.9L58.25,100L56.75,97.71L54.9,93.25L54.67,91.75L55.19,84.75L56.25,82.06L57.75,80.63L65.75,80.43L67.75,80.7L68.84,81.75L70.48,85.25L70.33,89.75L69.24,95.25L67.11,99.75L65.75,100.9ZM64.25,188.8L61.25,189L57.75,188.1L56.25,186.3L54.98,183.2L54.34,178.2L54.59,174.8L57.08,169.8L58.75,168.5L64.75,168.3L66.75,168.6L68.25,170.1L70.25,174.3L70.32,178.2L69.78,182.2L69.25,183.8L66.84,187.8Z"/><path fill="#ff7c00" d="M63.75,101.4L61.75,101.4L59.75,100.6L58.25,99.62L56.75,97.25L55.06,93.25L54.83,91.75L55.34,84.75L56.31,82.25L57.75,80.81L59.75,80.6L67.34,80.75L68.75,81.89L70.32,85.25L70.18,89.75L69.54,93.75L68.84,95.75L66.76,99.75ZM62.25,188.8L58.7,188.2L57.63,187.8L56.74,186.8L55.07,182.8L54.54,178.2L54.7,175.2L56.75,170.9L58.25,169.1L59.75,168.7L65.75,168.8L66.75,169.1L67.75,170L69.98,174.2L70.16,177.8L69.67,181.8L68.75,184.4L66.75,187.5L65.25,188.3Z"/><path fill="#ff7400" d="M64.25,100.8L62.25,101.1L58.75,99.66L57.25,97.75L55.23,93.25L54.99,91.75L55.39,85.25L56.49,82.25L57.75,81L59.75,80.76L67.25,80.91L68.25,81.5L68.75,82.19L70.14,85.25L70.09,89.25L69.04,94.75L66.83,99.25L65.75,100.1ZM63.75,188.3L60.75,188.4L57.75,187.5L56.25,185.4L55.27,182.8L54.74,178.2L54.98,175.2L57.25,170.8L58.25,169.7L59.25,169.3L64.75,169.2L66.75,169.6L67.75,170.7L69.85,174.8L69.87,178.8L69.36,182.2L68.8,183.8L66.57,187.2L65.75,187.8Z"/><path fill="#ff6c00" d="M64.25,100.4L61.75,100.6L58.75,99.29L57.25,97.29L55.41,93.25L55.15,91.75L55.55,85.25L56.39,82.75L57.75,81.2L59.75,80.94L67.25,81.1L68.25,81.75L69.8,84.75L70.12,86.25L69.98,88.75L69.02,94.25L66.75,98.9L65.75,99.76ZM64.75,187.8L61.75,188.2L58.25,187.4L56.75,185.8L55.63,183.2L54.99,178.2L55.25,175.3L57.75,170.9L59.25,169.9L64.25,169.7L66.25,170L67.75,171.5L69.54,174.8L69.7,178.2L68.97,182.8L66.75,186.6L65.75,187.5Z"/><path fill="#ff6400" d="M64.75,99.83L62.25,100.2L60.25,99.71L58.75,98.89L57.25,96.84L55.59,93.25L55.31,91.75L55.75,85.01L56.75,82.42L58.18,81.25L67.25,81.3L68.39,82.25L69.75,85.14L69.78,89.25L68.82,94.25L66.75,98.4L65.91,99.25ZM63.25,187.8L60.25,187.7L58.25,187L56.75,185.2L55.75,182.7L55.25,178.2L55.66,175.2L57.75,171.7L58.75,170.8L59.75,170.4L64.75,170.3L66.25,170.7L68.25,173L69.31,175.2L69.42,178.8L68.87,182.2L68.25,183.8L66.2,186.8L65.25,187.3Z"/><path fill="#ff5c00" d="M63.25,99.77L60.75,99.48L58.75,98.49L57.25,96.38L55.62,92.75L55.86,85.25L56.75,82.75L57.25,82.04L58.25,81.44L65.25,81.3L67.25,81.52L68.25,82.36L69.59,85.25L69.6,89.25L68.94,93.25L68.39,94.75L66.25,98.51L65.25,99.23ZM63.75,187.3L60.75,187.4L58.61,186.8L57.25,185.3L56.05,182.8L55.57,178.2L55.92,175.8L57.75,172.6L58.75,171.6L59.75,171.1L63.75,170.9L65.75,171.2L67.75,173.1L68.93,175.2L69.18,178.8L68.25,183.2L66.25,186.2L65.25,186.9Z"/><path fill="#ff5400" d="M63.75,99.27L61.25,99.19L58.96,98.25L57.25,95.91L55.81,92.75L56.04,85.25L56.97,82.75L58.25,81.65L65.25,81.49L67.25,81.74L68.25,82.7L69.39,85.25L69.61,86.75L69.42,89.25L68.37,94.25L66.25,98L65.25,98.81ZM64.25,186.8L60.75,186.9L58.75,186.3L57.25,184.7L56.36,182.8L55.91,178.2L56.22,176.2L57.75,173.5L59.75,171.8L62.25,171.6L65.25,171.8L67.25,173.3L68.5,175.2L68.91,178.8L68.14,182.8L66.25,185.7Z"/><path fill="#ff4c00" d="M64.25,98.75L61.75,98.86L59.25,98.08L57.75,96.3L56.19,93.25L55.86,91.75L56.21,85.25L57.18,82.75L58.25,81.88L66.75,81.81L68.03,82.75L69.18,85.25L69.29,88.75L68.33,93.75L66.25,97.45L65.25,98.37ZM64.25,186.4L61.25,186.5L59.25,186.1L57.75,184.7L56.7,182.8L56.28,178.8L56.71,176.2L58.25,173.7L60.25,172.4L63.25,172.3L65.25,172.6L67.25,174L68.22,175.8L68.62,178.8L67.83,182.8L66.25,185.2Z"/><path fill="#ff4400" d="M64.25,98.34L61.25,98.39L59.25,97.67L57.75,95.81L56.25,92.8L56.31,85.75L57.13,83.25L58.25,82.12L60.25,81.91L66.75,82.06L67.75,82.72L68.77,84.75L69.21,87.25L68.27,93.25L65.96,97.25ZM64.75,185.8L62.25,186.1L59.75,185.8L58.25,184.7L57.08,182.8L56.67,179.2L56.87,177.2L58.09,174.8L59.75,173.3L61.75,173L64.75,173.1L66.75,174.2L67.75,175.7L68.31,178.8L67.75,182L66.61,184.2Z"/><path fill="#ff3c00" d="M64.25,97.92L61.75,98.05L59.75,97.57L58.25,96.09L56.67,93.25L56.29,91.75L56.45,86.25L57.25,83.49L58.25,82.4L59.75,82.14L66.48,82.25L67.75,83.13L68.52,84.75L68.98,87.25L68.16,92.75L65.91,96.75ZM64.75,185.3L62.75,185.7L60.25,185.5L58.75,184.6L57.48,182.8L57.1,180.8L57.2,177.8L58.25,175.4L59.75,174L61.75,173.6L64.75,173.8L66.25,174.5L67.28,175.8L67.98,178.8L67.5,181.8L66.25,184.2Z"/><path fill="#ff3400" d="M64.75,97.29L62.25,97.67L59.75,97.16L58.73,96.25L56.96,93.25L56.54,91.75L56.67,86.25L57.25,84.08L58.25,82.71L59.75,82.4L66.25,82.49L67.25,82.96L68.04,84.25L68.75,87.25L68.01,92.25L66.75,94.94ZM62.75,185.3L60.75,185.1L59.69,184.8L58.25,183.3L57.58,181.8L57.47,178.8L57.85,177.2L59.07,175.2L60.75,174.4L63.75,174.3L65.75,174.8L66.76,175.8L67.59,178.2L67.28,181.2L66.25,183.6L64.75,184.9Z"/><path fill="#ff2c00" d="M62.75,97.25L60.75,97.1L59.25,96.31L57.75,94.14L56.9,92.25L57.03,85.75L57.75,83.68L58.75,82.84L66.25,82.79L67.25,83.41L68.29,85.75L68.28,89.25L67.25,93.46L64.81,96.75ZM63.25,184.8L61.25,184.8L59.76,184.2L58.72,183.2L57.99,181.8L57.85,179.2L58.16,177.8L59.25,175.9L60.75,175L63.25,174.9L65.25,175.2L66.25,175.9L67.07,177.8L67.19,179.8L66.32,182.8L64.98,184.2Z"/><path fill="#ff2400" d="M63.25,96.77L61.25,96.74L59.75,96.2L58.25,94.28L57.25,92.3L57.23,86.25L57.85,84.25L58.75,83.23L60.75,83.01L66.25,83.18L67.03,83.75L67.77,85.25L68.09,87.75L67.25,92.54L65.22,95.75L64.25,96.52ZM63.25,184.3L61.25,184.3L60.25,184L59.25,183.1L58.45,181.8L58.27,179.8L58.52,178.2L59.68,176.2L60.75,175.6L63.25,175.5L65.1,175.8L65.83,176.2L66.59,177.8L66.77,179.8L66.09,182.2L64.9,183.8Z"/><path fill="#ff1c00" d="M62.75,96.25L61.25,96.2L60.04,95.75L58.75,94.23L57.69,92.25L57.65,86.25L58.25,84.43L59.25,83.59L65.75,83.55L66.75,84.15L67.45,85.75L67.61,88.25L66.75,92.56L64.75,95.47L63.75,96.09ZM62.75,183.8L60.75,183.5L59.65,182.8L58.89,181.2L58.86,179.2L59.7,177.2L60.75,176.4L64.25,176.2L65.25,176.6L65.77,177.2L66.26,178.8L66.17,180.2L65.17,182.8L64.25,183.5Z"/><path fill="#ff1400" d="M63.25,95.41L61.25,95.44L60.25,94.98L58.25,91.9L58.25,86.26L58.89,84.75L59.75,84.17L65.25,84.14L66.25,84.68L66.78,85.75L66.98,88.25L66.25,92.02L64.75,94.39ZM63.75,182.8L61.25,182.9L60.25,182.3L59.75,181.5L59.52,180.2L59.75,178.8L60.39,177.8L61.25,177.1L63.75,177L64.75,177.4L65.25,178.1L65.52,179.2L65.25,181L64.59,182.2Z"/><path fill="#ff0c00" d="M62.25,94.3L60.75,93.77L59.4,91.75L59.09,89.75L59.28,86.75L59.75,85.75L60.54,85.25L64.63,85.25L65.38,85.75L65.83,86.75L65.85,88.75L65.44,90.75L64.18,93.25L63.25,94.03ZM62.75,181.8L61.25,181.3L60.76,180.2L61.33,178.8L62.75,178.2L63.75,178.5L64.25,179.8L63.75,181.2Z"/><path fill="#ff0400" d="M62.25,91.29L61.75,91.03L61.38,90.25L61.27,88.75L61.75,87.66L62.75,87.45L63.53,88.25L63.5,89.25L62.97,90.75Z"/>
</g>
<rect x="176.2" y="36" width="121.6" height="14" fill="url(#cb)"/>
<text class="t9" x="177.5" y="31.6" text-anchor="middle">0</text>
<text class="t9" x="199" y="31.6" text-anchor="middle">0.2</text>
<text class="t9" x="224.2" y="31.6" text-anchor="middle">0.4</text>
<text class="t9" x="250" y="31.6" text-anchor="middle">0.6</text>
<text class="t9" x="274.5" y="31.6" text-anchor="middle">0.8</text>
<text class="t9" x="296.2" y="31.6" text-anchor="middle">1</text>
<text class="t16" x="173.8" y="11.4">(b)</text>
<path class="tm" d="M181.58,59.00v-2.9M181.58,334.60v2.9M187.76,59.00v-2.9M187.76,334.60v2.9M193.94,59.00v-2.9M193.94,334.60v2.9M200.12,59.00v-2.9M200.12,334.60v2.9M212.48,59.00v-2.9M212.48,334.60v2.9M218.66,59.00v-2.9M218.66,334.60v2.9M224.84,59.00v-2.9M224.84,334.60v2.9M231.02,59.00v-2.9M231.02,334.60v2.9M243.38,59.00v-2.9M243.38,334.60v2.9M249.56,59.00v-2.9M249.56,334.60v2.9M255.74,59.00v-2.9M255.74,334.60v2.9M261.92,59.00v-2.9M261.92,334.60v2.9M274.28,59.00v-2.9M274.28,334.60v2.9M280.46,59.00v-2.9M280.46,334.60v2.9M286.64,59.00v-2.9M286.64,334.60v2.9M292.82,59.00v-2.9M292.82,334.60v2.9M175.40,327.90h-2.7M299.00,327.90h2.7M175.40,321.00h-2.7M299.00,321.00h2.7M175.40,314.10h-2.7M299.00,314.10h2.7M175.40,307.20h-2.7M299.00,307.20h2.7M175.40,293.40h-2.7M299.00,293.40h2.7M175.40,286.50h-2.7M299.00,286.50h2.7M175.40,279.60h-2.7M299.00,279.60h2.7M175.40,272.70h-2.7M299.00,272.70h2.7M175.40,258.90h-2.7M299.00,258.90h2.7M175.40,252.00h-2.7M299.00,252.00h2.7M175.40,245.10h-2.7M299.00,245.10h2.7M175.40,238.20h-2.7M299.00,238.20h2.7M175.40,224.40h-2.7M299.00,224.40h2.7M175.40,217.50h-2.7M299.00,217.50h2.7M175.40,210.60h-2.7M299.00,210.60h2.7M175.40,203.70h-2.7M299.00,203.70h2.7M175.40,189.90h-2.7M299.00,189.90h2.7M175.40,183.00h-2.7M299.00,183.00h2.7M175.40,176.10h-2.7M299.00,176.10h2.7M175.40,169.20h-2.7M299.00,169.20h2.7M175.40,155.40h-2.7M299.00,155.40h2.7M175.40,148.50h-2.7M299.00,148.50h2.7M175.40,141.60h-2.7M299.00,141.60h2.7M175.40,134.70h-2.7M299.00,134.70h2.7M175.40,120.90h-2.7M299.00,120.90h2.7M175.40,114.00h-2.7M299.00,114.00h2.7M175.40,107.10h-2.7M299.00,107.10h2.7M175.40,100.20h-2.7M299.00,100.20h2.7M175.40,86.40h-2.7M299.00,86.40h2.7M175.40,79.50h-2.7M299.00,79.50h2.7M175.40,72.60h-2.7M299.00,72.60h2.7M175.40,65.70h-2.7M299.00,65.70h2.7"/>
<path class="tk" d="M206.30,59.20v-4.2M206.30,334.40v4.2M237.20,59.20v-4.2M237.20,334.40v4.2M268.10,59.20v-4.2M268.10,334.40v4.2M175.40,334.80h-3.7M299.00,334.80h3.7M175.40,300.30h-3.7M299.00,300.30h3.7M175.40,265.80h-3.7M299.00,265.80h3.7M175.40,231.30h-3.7M299.00,231.30h3.7M175.40,196.80h-3.7M299.00,196.80h3.7M175.40,162.30h-3.7M299.00,162.30h3.7M175.40,127.80h-3.7M299.00,127.80h3.7M175.40,93.30h-3.7M299.00,93.30h3.7M175.40,58.80h-3.7M299.00,58.80h3.7M175.40,58.80V63.40M299.00,58.80V63.40M175.40,330.60V334.80M299.00,330.60V334.80"/>
<text class="t10" x="206.60" y="353.2" text-anchor="middle">-0.5</text>
<text class="t10" x="237.50" y="353.2" text-anchor="middle">0.0</text>
<text class="t10" x="268.40" y="353.2" text-anchor="middle">0.5</text>
<g transform="translate(309.2,60.8)">
<rect width="123.9" height="269.9" fill="#3e0080"/><path fill="#3a0080" d="M101.8,269.8L25.68,269.8L24.17,268.2L16.25,262.5L13.01,259.8L2.25,246.6L0.25,244.7L0.25,23.46L1.75,21.66L6.344,14.25L8.75,11.07L12.25,7.589L18.96,2.25L20.93,0.25L99.42,0.25L101.7,2.25L112.4,9.75L121.8,21.02L123.8,22.93L123.8,249.9L121.8,252L117.4,257.8L113.9,261.2L104.5,267.8L102.2,269.8Z"/><path fill="#360080" d="M91.75,269.8L35.49,269.8L31.76,266.8L19.75,258.2L16.87,255.8L0.25,235L0.25,35.8L3.472,29.75L10.38,18.25L12.49,15.25L16.25,11.48L26.73,3.25L29.95,0.25L89.36,0.25L91.7,2.25L106.2,12L108.8,13.97L119.6,27.25L123.8,32.91L123.8,240.4L121.8,242.5L113.8,253.5L110.6,256.8L107.8,259L94.22,267.8Z"/><path fill="#320080" d="M82.75,269.8L46.69,269.8L40.25,267.8L37.25,266.5L22.25,256L18.25,252.5L4.347,234.8L0.25,225L0.25,45.23L1.339,43.25L5.81,32.25L12.97,20.25L15.25,17.03L18.75,13.64L31.75,3.498L34.25,2.041L38.74,0.25L80.26,0.25L85.75,2.48L103.2,13.9L106.8,16.6L118.8,31.75L123.8,41.45L123.8,234.7L120.2,239L111.3,251.2L108,254.8L88.25,267.7L85.75,268.9Z"/><path fill="#2e0080" d="M68.75,269.8L57.83,269.8L54.81,268.8L40.75,265.5L36.75,263.5L22.75,253.5L19.25,250.1L6.158,233.2L0.25,217.2L0.25,51.83L2.25,47.73L7.644,33.75L15.07,21.25L17.72,17.75L20.75,15.01L34.15,4.75L36.25,3.841L48.28,0.25L70.72,0.25L83.25,4L86.75,5.706L102.8,16.35L105.6,18.75L117.2,33.55L122.2,44.98L123.8,47.68L123.8,225.4L122.2,231.2L120.8,234.2L109.6,249.8L106.2,253.2L86.25,266Z"/><path fill="#2a0080" d="M63.75,268.3L60.25,268L43.25,264.3L40.25,263.4L37.25,261.6L22.75,251.2L19.28,247.2L7.673,232.2L2.25,216.1L0.25,211.4L0.25,62L1.211,55.75L9.163,34.75L16.57,22.25L19.25,18.74L32.75,7.893L35.25,6.219L37.75,5.271L56.19,0.25L63.26,0.25L67.64,1.75L83.25,5.922L86.25,7.515L102.8,18.59L105.3,21.25L115.9,34.75L122.2,49.82L123.8,52.54L123.8,214.5L120.5,230.2L118.9,233.8L108.5,248.2L106.2,250.8L103.8,252.8L87.75,263.2L85.25,264.5Z"/><path fill="#260080" d="M64.25,266.8L60.25,266.5L43.75,263L40.75,262L29.75,254.6L23.25,249.7L12.41,236.2L8.777,231.2L1.482,209.2L0.7753,204.8L0.7912,145.2L0.25,140.3L0.25,77.03L2.987,55.25L10.54,35.25L17.97,22.75L20.77,19.25L33.75,8.939L36.25,7.35L52.75,2.95L59.75,1.551L62.75,2.025L80.25,6.476L83.25,7.484L86.75,9.563L102.2,20.09L112.7,32.75L115,36.25L122.6,54.75L123.2,58.25L123.3,206.2L123.1,208.8L119,230.2L117.5,233.2L107,247.8L105.2,249.8L102.8,251.7L86.75,262.1L84.75,263.1L81.25,263.9Z"/><path fill="#220080" d="M63.25,265.8L60.75,265.5L50.75,263.4L41.25,261L30.25,253.6L23.75,248.6L13.46,235.8L9.831,230.8L2.901,209.8L2.303,207.2L2.069,204.2L2.162,144.2L1.652,137.8L1.526,104.2L0.939,97.75L0.9031,85.75L4.069,55.75L11.38,36.25L19.06,23.25L21.75,19.95L34.25,10.02L36.75,8.421L52.75,4.113L59.75,2.774L63.75,3.465L82.75,8.533L88.25,11.97L101.7,21.25L111.5,33.25L113.9,36.75L121.3,54.75L121.8,56.75L121.9,59.75L122,206.2L121.8,208.8L118,229.8L116.5,232.8L106,247.2L104.1,249.2L101.8,251L86.25,261.1L84.25,262.1L80.25,263Z"/><path fill="#1e0080" d="M64.75,264.8L62.75,264.9L60.25,264.6L42.25,260.4L38.75,258.4L24.75,248.2L14.66,235.8L10.69,230.2L3.894,209.8L3.199,206.8L3,203.8L3.203,143.8L2.77,137.8L2.537,104.2L2.041,97.75L1.976,85.75L3.653,67.75L5.11,55.75L12.54,36.25L19.99,23.75L22.42,20.75L34.75,10.9L37.25,9.309L53.25,4.944L59.75,3.72L64.25,4.539L82.25,9.393L85.75,11.49L100.8,21.85L110.6,33.75L113,37.25L120.2,54.75L120.8,57.25L120.9,60.25L121.3,85.25L121,133.8L121.5,186.2L121.2,205.8L121,208.8L117.1,229.2L115.3,232.8L105.5,246.2L103.8,248.2L101.8,249.8L84.25,261.1L80.75,262Z"/><path fill="#1a0080" d="M66.75,263.8L63.25,264.2L60.75,264L50.75,261.8L42.75,259.7L40.25,258.4L31.75,252.5L25.25,247.4L15.35,235.2L11.46,229.8L4.781,209.8L4.057,206.8L3.822,203.8L3.633,184.8L4.17,143.2L3.791,137.8L3.398,103.8L2.924,97.25L2.843,85.75L4.514,67.75L5.927,56.25L13.25,37.02L20.75,24.41L23.25,21.34L35.17,11.75L37.75,10.12L53.75,5.674L59.75,4.56L64.25,5.383L81.75,10.16L86.7,13.25L100.2,22.8L109.8,34.37L112.2,38.09L119.4,55.25L119.9,57.75L120.1,61.75L120.6,84.25L120.2,132.2L120.9,185.8L120.5,204.8L120.2,208.8L116.3,228.8L114.9,231.8L108.1,241.2L103.9,246.8L101.2,249.1L83.75,260.3L80.25,261.3Z"/><path fill="#160080" d="M65.75,263.3L62.75,263.5L60.25,263.2L50.25,261L42.75,258.9L40.25,257.5L32.25,251.9L25.76,246.8L16,234.8L12.2,229.2L5.478,209.2L4.8,206.2L4.576,202.8L4.332,184.8L5.149,142.8L3.647,85.75L5.29,68.25L6.75,56.66L13.97,37.75L21.4,25.25L23.74,22.25L35.37,12.75L38.25,10.9L53.75,6.484L59.75,5.358L63.25,5.925L78.25,9.91L82.75,11.68L99.2,23.25L108.7,34.75L111.8,39.47L118.8,56.75L119.3,60.75L120,81.75L119.4,132.2L120.3,185.8L119.9,204.8L119.5,208.8L115.4,228.8L113.5,232.2L104,245.2L102.2,247.2L100.2,248.8L91.25,254.8L83.25,259.7L78.75,260.8Z"/><path fill="#120080" d="M64.75,262.8L62.25,262.9L59.75,262.5L50.25,260.3L42.75,258L31.98,250.8L27,246.8L24.75,244.3L15.89,233.2L13.47,229.8L12.54,227.8L5.797,207.2L5.38,203.8L5.018,190.8L6.161,142.2L4.44,85.75L6.115,68.25L7.75,56.45L14.82,38.25L22.25,25.78L24.69,22.75L35.75,13.61L38.62,11.75L54.25,7.149L59.75,6.138L63.25,6.703L77.25,10.5L82.25,12.42L98.25,23.82L100.2,25.89L107.8,35.25L110.8,39.83L118,57.25L118.5,62.25L119.4,82.75L118.7,132.8L119.8,189.8L119,207.8L114.6,228.2L113.8,230.2L112.2,232.8L102.8,245.2L100.8,247.2L95.91,250.8L85.25,257.7L82.75,259L78.16,260.2Z"/><path fill="#0e0080" d="M63.25,262.3L60.25,261.9L50.75,259.8L44.75,258L41.75,256.6L33.25,250.7L27.7,246.2L18.25,235L13.68,228.2L6.991,208.8L6.193,204.2L5.678,189.8L7.194,141.8L5.237,85.75L6.945,68.25L8.605,56.75L15.66,38.75L22.83,26.75L25.25,23.64L36.25,14.39L38.75,12.71L54.25,7.944L59.75,6.911L63.25,7.476L76.85,11.25L79.75,12.17L81.91,13.25L97.7,24.75L107.2,36.25L110.2,41.25L115.9,54.25L117.2,57.75L117.8,63.25L118.9,83.75L117.9,132.2L119.4,189.2L118.5,207.2L113.9,227.8L113,229.8L111.2,232.6L102.1,244.8L99.99,246.8L94.75,250.6L84.75,257.1L81.75,258.6L76.25,259.9Z"/><path fill="#0a0080" d="M66.25,261.3L63.25,261.7L60.25,261.3L50.75,259.2L43.75,256.8L33.19,249.8L28.41,245.8L26.25,243.5L17.54,232.8L15.19,229.2L14.03,226.8L8.426,210.8L7.33,206.8L6.919,203.2L6.361,190.2L6.393,183.8L7.596,163.2L8.235,141.2L8.063,131.2L6.237,95.75L6.039,85.75L7.75,68.49L9.549,56.75L16.5,39.25L23.71,27.25L26.09,24.25L36.65,15.25L39.25,13.5L54.75,8.598L59.75,7.679L62.75,8.121L73.25,11.07L78.75,12.72L81.25,13.89L96.67,25.25L106.2,36.73L109.2,41.62L116.2,57.75L117,63.25L118.3,83.25L118,106.2L117.1,132.2L118.9,189.2L117.9,207.2L113.1,227.2L112.2,229.4L110.5,232.2L101.7,243.8L99.82,245.8L95.29,249.2L84.58,256.2L81.75,257.7L77.75,258.9Z"/><path fill="#060080" d="M65.75,260.8L62.75,261L60.25,260.7L51.25,258.6L44.25,256.2L33.75,249.2L28.75,244.9L25.75,241.5L17.83,231.8L15.75,228.5L14.59,225.8L9.254,210.8L8.146,206.8L7.706,203.2L7.04,190.2L7.08,183.8L8.512,163.2L9.283,141.2L9.161,131.2L7.058,95.25L6.844,85.75L8.551,68.75L10.34,57.25L17.34,39.75L24.59,27.75L26.75,25.03L37.25,15.95L39.75,14.28L54.75,9.393L59.75,8.442L62.75,8.89L73.25,11.91L78.25,13.45L80.95,14.75L95.75,25.84L98.04,28.25L105.3,37.25L107.1,39.75L108.6,42.75L115.4,58.25L116.2,64.25L117.7,83.75L117.3,106.2L116.3,132.2L118.5,188.8L117.2,207.2L112.3,226.8L111.3,229.2L109.8,231.8L101,243.2L99.04,245.2L94.63,248.8L84.25,255.5L81.25,257.1L77.25,258.3Z"/><path fill="#020080" d="M65.25,260.3L61.25,260.3L52.75,258.4L46.75,256.4L43.25,254.8L34.75,249L29.79,244.8L20.75,234.2L18.13,230.8L16.12,227.2L9.599,209.2L8.584,204.2L7.706,189.8L7.769,183.8L9.622,159.8L10.33,141.2L10.26,131.2L8.628,108.8L7.661,85.25L9.384,68.75L11.28,57.25L18.18,40.25L25.25,28.59L27.48,25.75L37.72,16.75L40.25,15.05L55.25,10.04L59.75,9.201L62.75,9.66L72.25,12.45L77.75,14.17L80.25,15.35L95.19,26.75L104.4,37.75L106.4,40.75L108.8,45.4L113.2,55.26L114.5,58.75L115.5,64.75L117.2,84.25L116.7,106.2L115.5,132.2L118.1,188.8L116.6,207.2L111.6,226.2L110.6,228.8L109.1,231.2L102.8,239.6L99.25,243.9L93.97,248.2L83.75,254.9L80.75,256.5L76.75,257.7Z"/><path fill="#000083" d="M64.25,259.8L60.75,259.6L52.25,257.6L46.75,255.6L43.25,253.9L35.25,248.5L30.48,244.2L20.98,233.2L18.47,229.8L16.85,226.8L10.27,208.8L9.334,203.8L8.373,189.2L8.461,183.8L10.57,159.8L11.37,141.8L11.42,133.8L9.473,108.2L8.464,85.25L10.22,68.75L12.22,57.25L19.02,40.75L26.02,29.25L28.25,26.42L38.25,17.5L40.75,15.83L55.53,10.75L59.75,9.957L62.75,10.43L72.25,13.28L77.25,14.89L80.01,16.25L94.19,27.25L103.4,38.25L105.5,41.25L108.2,46.69L113.6,58.75L114.7,64.75L116.6,84.25L116.1,106.2L114.7,132.2L117.6,188.2L116,207.2L111,225.2L109.1,229.8L105.2,235.1L98.75,243.1L93.32,247.8L83.35,254.2L80.25,255.8L76.25,257.2Z"/><path fill="#00008b" d="M63.25,259.3L60.25,258.9L51.75,256.8L46.55,254.8L43.25,253L35.75,247.9L31.15,243.8L21.22,232.2L19.14,229.2L17.57,226.2L11.09,208.8L10.13,203.8L9.042,188.8L9.155,183.8L11.52,159.8L12.53,133.8L10.35,108.2L9.268,85.25L11.05,68.75L13.01,57.75L19.75,41.45L26.75,29.97L28.85,27.25L38.25,18.72L40.75,16.86L55.75,11.48L59.75,10.71L62.75,11.21L72.66,14.25L77.25,15.79L79.75,17.14L93.19,27.75L102.8,39.12L104.8,42.25L108.2,48.95L112.9,59.75L114,65.25L116.1,84.75L115.5,106.2L113.9,132.2L117.2,188.2L115.4,207.2L110.3,224.8L108.4,229.2L105.2,233.8L98.32,242.2L92.75,247.2L82.75,253.7L79.25,255.4L74.75,256.8Z"/><path fill="#000093" d="M65.75,258.3L61.75,258.6L53.75,256.8L50.25,255.6L44.75,253L34.98,246.2L30.36,241.8L22.64,232.8L20.42,229.8L18.52,226.2L11.91,208.8L10.93,203.8L9.728,189.2L9.851,183.8L12.47,159.8L13.63,133.8L11.19,107.8L10.07,85.25L11.88,68.75L13.94,57.75L20.42,42.25L27.45,30.75L29.78,27.75L39.04,19.25L41.25,17.63L55.75,12.28L59.75,11.47L62.25,11.84L71.75,14.8L76.75,16.51L79.06,17.75L92.22,28.25L101.8,39.55L103.9,42.75L107.3,49.25L112.1,60.25L113.2,65.75L115.5,84.75L114.9,105.8L113.1,132.2L116.8,187.2L115.1,204.8L114.2,209.2L109.2,225.2L108,228.2L105.7,231.8L97.08,242.2L92.02,246.8L80.75,253.9L76.25,255.8Z"/><path fill="#00009b" d="M65.25,257.8L61.75,258L53.25,256L49.93,254.8L44.75,252.1L35.57,245.8L31.04,241.2L22.87,231.8L20.76,228.8L19.24,225.8L12.74,208.8L11.73,203.8L10.39,188.8L10.55,183.8L13.38,160.2L14.74,133.8L14.55,129.8L12.06,107.8L10.88,85.25L12.72,68.75L14.73,58.25L21.25,42.75L28.32,31.25L30.71,28.25L39.3,20.25L41.75,18.39L56.25,12.91L59.75,12.22L62.25,12.62L70.75,15.31L75.75,17.01L78.25,18.27L90.75,28.27L93.75,31.43L101,40.25L102.9,43.25L106.7,50.25L111.3,60.75L112.4,65.75L115,84.75L114.3,105.8L112.3,132.2L116.4,187.2L114.6,204.2L113.7,208.8L108.5,224.8L107,228.2L103.9,232.8L96.33,241.8L91.36,246.2L80.25,253.3L75.75,255.2Z"/><path fill="#0000a3" d="M64.75,257.3L61.25,257.3L53.25,255.4L49.38,253.8L44.75,251.2L36.17,245.2L31.75,240.8L23.5,231.2L21.72,228.8L20.17,225.8L13.41,208.2L12.53,203.8L11.06,188.8L11.25,183.8L14.33,160.2L15.85,133.8L15.66,129.8L12.9,107.2L11.69,84.75L13.55,68.75L15.67,58.25L22.08,43.25L29.2,31.75L31.25,29.14L40.11,20.75L42.25,19.16L56.25,13.71L59.75,12.97L62.25,13.39L70.75,16.14L75.75,17.92L77.75,18.99L90.25,29.21L100,40.75L102,43.75L105.8,50.75L110.6,61.25L111.5,65.25L113.6,77.75L114.5,85.25L113.6,105.8L111.5,132.2L115.9,186.8L114,203.8L113.2,208.2L107.6,224.8L106,228.2L102.8,232.8L95.59,241.2L90.75,245.7L79.25,253L75.25,254.6Z"/><path fill="#0000ab" d="M64.25,256.8L60.75,256.6L52.25,254.4L47.14,251.8L41.25,248L36.26,244.2L32.39,240.2L23.75,230.3L20.88,225.2L14.23,208.2L13.33,203.8L11.72,188.2L11.89,184.2L15.22,160.8L16.89,136.2L16.82,130.2L13.76,107.2L12.48,85.25L14.37,68.75L16.45,58.75L22.75,44.03L30.07,32.25L32.04,29.75L40.36,21.75L42.75,19.91L56.25,14.5L59.75,13.72L62.25,14.16L70.75,16.97L75.25,18.61L77.32,19.75L89.25,29.64L99.06,41.25L105,51.25L109.8,61.75L110.8,65.31L112.9,77.75L113.9,85.25L113,105.8L110.7,132.2L115.5,186.8L113.8,201.2L112.6,208.2L106.9,224.2L105.1,228.2L98.75,236.3L92.25,243.4L90.05,245.2L82.25,250.3L77.25,253.1L74.25,254.2Z"/><path fill="#0000b3" d="M65.75,255.8L62.25,256.2L54.75,254.5L51.34,253.2L46.75,250.7L39.9,246.2L37.34,244.2L24.75,230.3L22.01,225.8L15.04,208.2L14.11,203.8L12.39,188.2L12.58,184.2L16.14,160.8L17.95,136.2L17.9,130.2L14.57,106.8L13.26,85.25L15.1,69.25L17.21,59.25L18.26,56.25L23.43,44.75L30.9,32.75L32.89,30.25L41.1,22.25L43.25,20.62L56.75,15.09L59.75,14.45L61.75,14.76L70.25,17.61L74.75,19.27L76.75,20.38L88.48,30.25L98.14,41.75L104.2,51.75L109.1,62.25L110,65.75L112.3,77.75L113.3,85.25L112.4,105.2L110,132.2L115,186.2L114.5,191.2L112,207.8L106,224.2L104.1,228.2L98.11,235.8L91.77,242.8L89.25,244.9L77.25,252.4L74.75,253.4Z"/><path fill="#0000bb" d="M65.25,255.3L61.75,255.5L53.25,253.4L49.25,251.4L42.75,247.3L37.75,243.6L25.35,229.8L22.69,225.2L15.7,207.8L14.55,201.2L13.06,188.2L13.28,184.2L16.96,161.2L18.93,136.2L18.92,130.2L15.4,106.8L14.03,85.25L15.86,69.25L17.94,59.75L18.95,56.75L24.17,45.25L31.68,33.25L33.66,30.75L41.25,23.23L43.75,21.28L56.75,15.83L59.75,15.16L61.75,15.48L69.75,18.21L74.25,19.9L76.25,21.01L87.67,30.75L97.3,42.25L103.4,52.25L108.4,62.75L109.4,66.25L111.8,78.33L112.8,85.75L111.8,105.2L109.2,132.2L114.4,186.2L114.2,189.8L111.5,207.2L105.3,223.8L103.4,227.8L97.44,235.2L91.14,242.2L88.75,244.3L76.75,251.8L74.25,252.8Z"/><path fill="#0000c3" d="M64.75,254.8L61.25,254.8L53.47,252.8L49.75,250.8L42.55,246.2L38,242.8L25.97,229.2L23.58,225.2L16.51,207.8L15.24,200.8L13.75,187.8L14.01,184.2L17.81,161.2L20,132.8L19.72,129.2L16.22,106.8L14.8,85.25L16.53,69.75L18.63,60.25L19.75,56.95L24.87,45.75L32.38,33.75L34.35,31.25L41.3,24.25L43.75,22.19L56.75,16.55L59.75,15.85L61.75,16.18L69.75,18.96L74.25,20.73L75.96,21.75L86.96,31.25L96.53,42.75L102.8,53L107.8,63.34L108.7,66.75L111.1,78.75L112.1,85.75L111.1,105.2L108.5,132.2L113.9,186.2L113.2,192.2L110.8,207.2L104.8,222.8L102.7,227.2L96.77,234.8L90.51,241.8L88.12,243.8L76.25,251.3L73.75,252.3Z"/><path fill="#0000cb" d="M63.75,254.3L60.75,254L53.25,251.9L49.75,250L41.68,244.8L39.25,242.9L36.21,239.8L26.25,228.3L24.05,224.2L17.21,207.2L15.52,197.2L14.5,187.8L14.75,184.4L18.58,161.8L20.88,132.8L20.6,129.2L17.01,106.2L15.85,92.25L15.57,85.25L17.18,70.25L19.25,60.98L20.48,57.25L25.55,46.25L33.04,34.25L34.98,31.75L41.85,24.75L44.25,22.77L56.25,17.45L59.75,16.54L62.75,17.21L74.59,21.75L78.25,24.57L86.3,31.75L93.87,40.75L96.84,44.75L102.4,54.25L106.2,61.75L107.4,64.75L110.4,78.75L111.4,85.25L110.5,104.8L108.2,125.2L107.7,132.8L113.2,186.8L111.8,197.6L110.1,206.8L103.4,223.8L101,228.2L92.17,238.8L87.75,243L80,248.2L75.25,251L68,253.2Z"/><path fill="#0000d3" d="M65.25,253.3L61.75,253.5L54.25,251.5L50.75,249.7L43.83,245.2L40.75,243.1L38.75,241.2L27.32,228.2L24.75,223.7L18.1,207.2L16.33,197.2L15.31,187.8L16.24,180.2L19.43,161.8L21.74,132.8L20.54,122.8L17.84,105.8L16.6,91.75L16.38,85.75L16.52,81.75L17.48,73.25L19.46,63.25L21.14,57.75L26.23,46.75L33.69,34.75L35.6,32.25L42.25,25.37L44.75,23.33L56.25,18.15L59.75,17.22L61.75,17.57L68.75,20.08L73.25,21.91L75.25,23.1L85.75,32.33L94.75,43.29L101.2,53.96L106.3,64.25L107.4,68.25L109.7,79.25L110.7,86.25L109.7,104.2L106.9,131.8L107.8,143.2L112.4,186.2L111.1,196.8L109.3,206.2L104.2,219.3L101.1,226.2L98.21,230.2L89.75,240.1L86.71,242.8L80.17,247.2L75.75,249.9L72.75,251.1Z"/><path fill="#0000db" d="M63.25,252.8L59.79,252.2L53.75,250.4L50.25,248.5L43.1,243.8L40.54,241.8L37.25,238.4L27.75,227.3L26.23,224.8L22.88,217.2L18.88,206.8L17.18,197.2L16.2,187.8L17.1,180.2L20.3,161.8L22.59,132.8L21.18,120.8L18.76,105.8L17.34,90.25L17.2,83.75L17.67,77.75L18.75,69.77L20,64.25L21.81,58.25L26.92,47.25L34.25,35.38L36.22,32.75L41.89,26.75L44.75,24.21L55.75,19.05L58.25,18.13L59.75,17.92L61.25,18.13L64.54,19.25L73.75,23.02L77.29,25.75L85.25,32.97L92.12,41.25L95.36,45.75L101.2,55.75L104.7,62.75L105.9,65.75L109,79.75L109.8,86.75L108.8,104.2L106.6,124.8L106.1,133.8L111.5,186.8L110,198.2L108.3,206.2L102.2,221.5L99.28,227.2L88.75,239.8L86.75,241.6L81.74,245.2L74.16,249.8L67.25,252Z"/><path fill="#0000e3" d="M64.75,251.8L61.25,251.8L54.75,249.9L50.75,247.9L44.75,243.9L41.31,241.2L38.3,238.2L28.88,227.2L27.02,224.2L23.81,217.2L19.84,206.8L18.07,197.2L17.13,187.8L17.99,180.2L21.19,161.8L22.72,144.8L23.44,132.8L22.07,120.2L19.66,105.2L18.17,90.25L18.02,83.75L18.43,77.75L19.43,70.25L20.55,65.25L22.5,58.75L27.63,47.75L34.75,36.11L36.85,33.25L42.42,27.25L45.29,24.75L55.76,19.75L58.25,18.83L59.75,18.62L61.75,18.97L66.59,20.75L72.25,23.12L74.25,24.27L84.4,33.25L92.56,43.25L99.58,54.75L104.6,64.75L107,74.25L108.3,81.25L108.9,86.25L108,103.8L106,120.8L105.2,131.8L106,143.8L109.8,177.8L110.5,186.2L109.2,197.2L107.6,205.2L103.2,216.8L99.33,225.2L94.08,232.2L88.96,238.2L85.14,241.8L79.75,245.7L76.25,247.8L72.25,249.6Z"/><path fill="#0000eb" d="M65.75,250.8L62.25,251.1L57.75,250L53.75,248.6L49.75,246.3L44.25,242.5L41.25,240L34.97,233.2L30.06,227.2L28.08,224.2L24.97,217.8L20.81,206.8L18.97,197.2L18.09,187.8L18.88,180.2L22.02,162.2L23.62,144.8L24.29,132.8L22.97,119.8L19.85,99.25L18.99,89.75L18.86,83.25L19.15,78.25L20.13,70.75L21.11,66.25L23.39,58.75L28.25,48.41L35.32,36.75L37.48,33.75L42.75,27.97L45.75,25.35L56.24,20.25L59.75,19.33L62.25,19.84L67.2,21.75L72.25,23.98L74.25,25.24L83.77,33.75L91.49,43.25L98.8,55.25L103.9,65.25L106.2,74.25L107.4,81.25L108,86.25L107,103.8L105.1,120.8L104.3,131.8L105.1,143.8L108.9,178.2L109.5,186.2L108.2,197.2L106.7,204.8L102.5,215.8L98.68,224.2L95.57,228.8L88.75,237.1L84.98,240.8L77.75,246L73.25,248.3Z"/><path fill="#0000f3" d="M64.25,250.3L61.25,250.1L54.75,248.1L51.25,246.3L46.12,242.8L42.89,240.2L39.75,237.2L35.27,232.2L30.49,226.2L28.62,223.2L25.47,216.8L21.63,206.2L19.79,196.8L19.04,187.8L19.78,180.2L22.92,162.2L24.49,145.2L25.14,132.8L23.99,120.2L20.77,99.25L19.81,89.25L19.92,78.25L20.74,71.75L21.66,67.25L23.71,60.25L26.3,54.25L29.87,47.25L37.75,34.71L43.02,28.75L46.25,25.92L56.25,20.96L59.75,20.03L61.75,20.38L65.36,21.75L71.25,24.34L73.75,25.84L83.25,34.36L90.79,43.75L98.3,56.25L103.1,65.75L104.3,69.75L105.4,74.75L106.6,81.75L107,86.75L106.2,103.2L104.1,120.2L103.4,131.2L104.1,143.8L108,178.2L108.5,186.2L107.3,197.2L105.7,204.2L101.7,215.2L97.77,223.8L92.75,230.8L87.75,236.8L82.95,241.2L76.75,245.6L71.21,248.2L67.25,249.6Z"/><path fill="#0000fb" d="M65.25,249.3L62.25,249.4L57.75,248.2L53.75,246.7L50.25,244.6L44.88,240.8L41.75,238L36.43,232.2L31.66,226.2L29.68,223.2L26.41,216.8L22.59,206.2L20.69,196.8L19.99,187.8L20.68,180.2L23.82,162.2L25.39,145.2L25.98,132.8L24.89,119.8L21.63,98.75L20.63,88.75L20.69,78.25L22.21,68.25L24.4,60.75L26.75,55.21L30.57,47.75L38.36,35.25L43.1,29.75L46.36,26.75L56.25,21.67L59.75,20.74L61.75,21.09L64.75,22.24L70.75,24.95L73.25,26.44L82.52,34.75L89.74,43.75L97.52,56.75L102.2,65.75L103.4,69.75L104.4,74.25L105.6,81.25L106.1,86.25L105.2,103.2L103.2,120.2L102.5,131.8L103.2,143.8L107,178.2L107.5,185.2L107.2,190.2L106.3,197.2L105.5,201.2L104.3,205.8L102,211.8L97.39,222.2L94.16,227.2L87.83,235.2L83.98,239.2L77.54,244.2L72.25,247Z"/><path fill="#0006f7" d="M66.25,248.3L63.25,248.7L60.75,248.2L55.25,246.5L51.25,244.3L46.25,240.7L42.75,237.7L37.16,231.8L32.75,226.1L30.48,222.8L27.25,216.5L23.71,206.8L21.66,197.2L20.96,188.2L21.57,180.2L24.72,162.2L26.26,145.8L26.82,132.8L25.79,119.2L22.55,98.75L21.45,88.25L21.45,78.25L22.88,68.75L25.1,61.25L27.41,55.75L31.26,48.25L39,35.75L43.65,30.25L46.75,27.39L56.25,22.39L58.25,21.64L59.75,21.44L61.75,21.8L64.25,22.77L70.65,25.75L73.04,27.25L81.9,35.25L88.75,43.82L96.75,57.27L101.4,66.25L102.7,70.25L103.6,74.25L104.7,81.25L105.1,86.25L104.3,102.8L102.2,120.8L101.6,132.2L102.2,143.8L106.4,183.2L106.4,188.8L105,199.2L103,206.2L98.25,218.2L95.33,223.8L90.3,230.8L84.76,237.2L78.75,242.5L73.25,245.6Z"/><path fill="#0012e7" d="M64.75,247.8L62.25,247.7L57.75,246.5L53.75,244.8L50.75,243L45.8,239.2L42.07,235.8L37.47,230.8L32.89,224.8L27.84,215.8L24.52,206.2L22.49,196.8L21.9,188.2L22.46,180.2L25.62,162.2L27.16,145.8L27.65,132.8L26.69,118.8L23.4,98.25L22.29,88.25L22.22,78.25L23.56,69.25L25.79,61.75L28.25,55.91L33.7,45.75L39.64,36.25L44.21,30.75L47.25,27.95L56.25,23.12L58.25,22.34L59.75,22.13L61.75,22.51L64.25,23.52L70.25,26.4L72.75,28.01L81.28,35.75L88.02,44.25L96.25,58.26L100.6,66.75L101.9,70.75L102.7,74.25L103.8,81.25L104.2,86.25L103.4,102.8L101.3,120.2L100.8,131.8L101.3,144.2L105.4,182.8L105.4,188.8L104,199.2L101.9,206.2L97.34,217.8L94.41,223.2L89.06,230.8L83.75,236.9L77.75,242.2L71.75,245.4L67.25,247.2Z"/><path fill="#001ed7" d="M65.75,246.8L63.25,247L60.25,246.4L55.25,244.6L51.75,242.7L46.75,238.9L42.82,235.2L38.25,230.3L34.05,224.8L31.78,221.2L28.75,215.7L25.48,206.2L23.39,196.8L22.84,188.2L23.35,180.2L26.51,162.2L28.06,145.8L28.49,132.8L27.66,118.8L24.24,97.75L23.1,87.75L22.98,78.25L24.23,69.75L26.31,62.75L28.76,56.75L34.38,46.25L40.29,36.75L44.77,31.25L47.75,28.51L56.75,23.61L59.75,22.83L61.25,23.06L63.75,24.05L69.75,27L72.25,28.6L80.66,36.25L87.34,44.75L97.25,61.93L99.88,67.25L101.2,71.25L101.9,74.75L102.9,81.25L103.2,86.25L102.5,102.8L100.3,120.2L99.87,132.2L100.3,144.2L104.3,181.8L104.4,188.8L103.3,198.2L101.1,205.8L96.95,216.2L93.75,222.3L88.75,229.6L83.14,236.2L77.7,241.2L72.75,244.1Z"/><path fill="#002ac7" d="M66.25,245.9L63.75,246.2L61.25,245.8L56.25,244.1L52.75,242.4L45.63,236.8L38.16,228.8L33.17,221.8L30.01,216.2L28.68,213.2L26.15,205.2L24.56,198.2L24.06,194.8L23.8,188.8L24.24,180.2L27.41,162.2L28.93,146.2L29.32,132.8L28.56,118.2L25.08,97.25L23.95,87.75L23.75,78.25L24.91,70.25L26.75,63.95L29.43,57.25L35.06,46.75L40.93,37.25L45.32,31.75L47.99,29.25L56.75,24.34L59.75,23.53L63.25,24.57L69.25,27.59L71.82,29.25L80.04,36.75L86.31,44.75L96.95,63.25L99.12,67.75L100.3,71.25L101,74.75L102.2,85.75L101.5,102.8L99.32,120.8L98.98,132.8L99.38,144.2L103.3,180.8L103.5,188.2L102.4,197.8L100.2,205.2L96.32,215.2L92.89,221.8L88.17,228.8L82.8,235.2L77.25,240.6L73.25,242.9Z"/><path fill="#0036b7" d="M65.25,245.3L63.25,245.4L60.25,244.6L55.25,242.8L52.51,241.2L48.04,237.8L43.35,233.2L39.66,229.2L35.99,224.2L31,216.2L29.09,211.8L26.97,204.8L25.37,197.8L24.74,189.2L25.06,180.8L28.11,163.8L28.8,157.2L29.83,146.2L30.15,132.8L29.53,118.2L25.91,96.75L24.75,87.25L24.5,78.25L25.58,70.75L26.96,65.75L30.1,57.75L36.03,46.75L41.57,37.75L45.75,32.39L48.25,29.98L56.75,25.08L59.75,24.23L61.25,24.49L63.25,25.33L69.25,28.45L71.75,30.18L79.43,37.25L85.64,45.25L96.48,64.25L98.37,68.25L99.57,71.75L100.2,74.75L101.3,85.75L100.6,102.2L100.1,108.8L98.37,120.8L98.1,132.8L98.47,144.8L102.4,180.8L102.5,188.2L101.4,197.8L99.1,205.2L95.46,214.8L91.98,221.2L86.95,228.8L81.1,235.8L76.75,240L72.75,242.2Z"/><path fill="#0042a7" d="M65.75,244.4L63.75,244.6L61.75,244.2L56.75,242.5L53.75,241.1L47.65,236.2L39.99,228.2L34.43,220.2L30.51,213.2L28.05,205.2L26.49,198.8L25.92,195.8L25.7,191.8L25.88,181.2L29.08,163.2L30.65,147.2L30.96,132.8L30.43,117.8L26.15,92.75L25.56,87.25L25.23,78.25L26.24,71.25L27.61,66.25L30.76,58.25L36.7,47.25L42.2,38.25L46.25,32.95L48.75,30.52L56.75,25.83L59.75,24.93L61.25,25.2L63.25,26.1L68.75,29.03L71.25,30.75L78.83,37.75L84.65,45.25L95.75,64.75L97.64,68.75L98.71,71.75L99.34,74.75L100.4,85.25L99.72,102.2L99.13,108.8L97.46,120.2L97.23,132.8L97.52,144.8L101.4,180.8L101.5,188.2L100.6,197.2L97,208.2L94.62,214.2L91.08,220.8L86.5,227.8L79.91,235.8L76.36,239.2L73.25,241.1Z"/><path fill="#004e97" d="M64.25,243.8L59.75,242.7L53.75,240.2L47.75,235.2L42.35,229.8L40.31,227.2L35.17,219.8L31.4,213.2L29.09,205.8L27.14,197.8L26.54,191.8L26.71,181.2L29.86,163.8L31.47,147.8L31.74,132.8L31.35,117.8L26.96,92.75L26.3,86.75L25.94,78.25L26.87,71.75L28.04,67.25L31.38,58.75L37.33,47.75L42.44,39.25L46.52,33.75L48.97,31.25L56.75,26.57L58.25,25.89L59.75,25.63L62.75,26.6L68.25,29.59L70.75,31.3L78.27,38.25L84.05,45.75L95.09,65.25L96.96,69.25L98.56,74.75L99.52,84.75L98.88,101.8L98.3,108.2L96.59,119.8L96.39,132.2L96.61,144.8L100.5,180.8L100.6,188.2L99.66,197.2L95.84,208.8L93.58,214.2L89.91,220.8L84.96,228.2L78.34,236.2L75.73,238.8L73.75,240L67.25,243Z"/><path fill="#005a87" d="M65.25,242.8L63.75,242.9L61.75,242.5L54.25,239.6L48.96,235.2L41.68,227.8L35.51,218.8L32.04,212.8L28.07,198.2L27.33,192.8L27.48,181.2L30.67,163.8L32.29,147.8L32.47,132.2L32.17,117.2L30.67,107.8L27.63,92.25L27.02,86.75L26.6,78.25L27.46,72.25L28.6,67.75L31.94,59.25L37.91,48.25L43,39.75L47.02,34.25L49.25,31.92L56.75,27.32L58.25,26.62L59.75,26.35L62.75,27.36L70.25,31.81L77.75,38.75L83.16,45.75L95.97,68.75L97.65,73.75L98.72,83.25L98.71,90.25L98.1,101.2L97.45,108.2L95.72,119.8L95.6,131.2L95.8,145.2L99.73,180.8L99.77,188.2L98.95,196.8L95.12,208.2L93.11,213.2L90.06,218.8L85,226.8L78.15,235.2L75.74,237.8L73.25,239.4Z"/><path fill="#006678" d="M65.75,241.9L64.25,242.1L62.25,241.9L54.75,239L49.75,235L42.23,227.2L35.44,217.2L32.83,212.8L28.94,198.8L28.02,192.8L28.2,181.2L31.42,163.8L33,148.2L33.17,131.2L32.93,116.8L31.29,106.8L28.32,92.25L27.63,86.25L27.23,78.25L28,72.75L29.29,67.75L32.69,59.25L38.44,48.75L43.51,40.25L47.49,34.75L49.75,32.38L56.75,28.07L58.25,27.36L59.75,27.08L61.25,27.41L64.25,28.92L70.25,32.71L77.25,39.22L82.69,46.25L94.05,66.25L95.47,69.25L97.1,74.25L98.05,83.25L98.03,89.75L97.34,101.2L96.72,107.8L94.94,119.2L94.85,129.2L95.02,145.2L99.05,181.2L99.08,187.8L98.33,196.2L94.51,207.8L92.51,212.8L84.38,226.2L77.25,235.1L75.25,237.2L72.77,238.8Z"/><path fill="#007268" d="M64.75,241.3L61.25,240.7L54.75,238.1L49.75,234L42.74,226.8L35.62,216.2L33.37,212.2L29.39,197.8L28.65,192.2L28.8,181.8L32.06,164.2L33.72,148.2L33.85,123.2L33.56,115.8L32.13,107.2L28.96,92.25L28.29,86.75L27.83,78.25L28.61,72.75L29.76,68.25L33.14,59.75L43.98,40.75L47.95,35.25L50.25,32.84L56.92,28.75L59.75,27.84L61.25,28.18L63.75,29.42L69.75,33.17L76.75,39.65L82.28,46.75L93.4,66.25L95.04,69.75L96.52,74.25L97.44,83.25L97.39,89.75L96.69,100.8L95.96,107.8L94.26,118.2L94.11,123.2L94.34,145.8L95.86,160.8L98.41,181.2L98.44,187.8L97.68,196.2L94,207.2L92,212.2L88.9,217.8L83.47,226.2L76.56,234.8L74.55,236.8L72.25,238.1L66.75,240.6Z"/><path fill="#007e58" d="M65.25,240.3L63.75,240.4L61.75,240L55.25,237.5L50.25,233.5L43.21,226.2L36.4,216.2L34.09,212.2L32.34,206.8L30.05,197.8L29.26,192.2L29.43,181.8L32.74,164.2L34.42,148.2L34.57,119.8L34.39,116.2L33.33,109.8L29.25,90.25L28.41,78.75L29.1,73.25L30.38,68.25L33.81,59.75L44.44,41.25L48.25,35.94L50.25,33.72L56.75,29.63L58.25,28.93L59.75,28.64L61.25,28.98L63.75,30.2L69.4,33.75L76.25,40.07L81.91,47.25L92.53,65.75L94.46,69.75L96.06,74.75L96.88,83.25L96.8,89.75L96.06,100.2L95.29,107.2L93.55,117.8L93.37,122.2L93.64,145.8L95.14,160.8L97.85,181.8L97.85,187.8L97.19,195.8L93.37,207.2L91.55,211.8L88.45,217.2L83.34,225.2L76.25,233.9L74.25,236L72.23,237.2Z"/><path fill="#008948" d="M65.25,239.3L63.75,239.5L61.75,239.1L55.48,236.8L50.75,233L45.82,228.2L43.67,225.8L36.85,215.8L34.59,211.8L30.56,197.2L29.83,191.8L30.05,181.8L33.42,164.2L35.08,148.8L35.29,119.2L35.07,115.8L34.05,109.8L29.82,90.25L28.99,78.75L29.68,73.25L30.81,68.75L34.25,60.17L44.89,41.75L48.75,36.39L50.75,34.19L56.75,30.45L59.75,29.48L61.25,29.81L63.75,31L69.25,34.51L76,40.75L81.56,47.75L91.42,64.75L93.92,69.75L95.54,74.75L96.33,83.25L96.26,89.25L95.41,100.2L92.84,117.2L92.62,121.2L93,146.2L94.49,161.2L97.28,181.8L97.29,187.8L96.63,195.8L92.95,206.8L90.91,211.8L88.05,216.8L82.86,224.8L73.85,235.2L71.75,236.6Z"/><path fill="#009538" d="M65.25,238.4L63.75,238.6L61.75,238.2L57.75,237L55.75,236L50.75,232.1L46.27,227.8L44.13,225.2L37.6,215.8L35.09,211.2L31.07,196.8L30.39,191.2L30.66,181.8L34.01,164.8L35.75,149.2L36.02,119.2L35.82,115.8L34.78,109.8L30.31,89.75L29.57,78.75L30.25,73.25L31.41,68.75L34.84,60.25L45.34,42.25L49.25,36.86L51.25,34.69L56.75,31.28L59.75,30.35L61.25,30.66L63.75,31.82L68.75,34.99L75.59,41.25L81.25,48.29L90.62,64.25L93.39,69.75L95.04,74.75L95.81,83.25L95.71,89.25L94.81,99.75L92.06,117.2L91.86,121.2L92.36,146.8L93.85,161.8L96.74,181.8L96.77,187.2L96.08,195.8L92.39,206.8L90.52,211.2L87.36,216.8L82.4,224.2L77.75,229.9L73.25,234.6L71.25,235.8Z"/><path fill="#00a128" d="M65.25,237.4L63.75,237.6L61.75,237.3L56.25,235.4L51.25,231.6L46.75,227.3L44.59,224.8L38.35,215.8L35.78,211.2L33.86,205.2L31.82,197.2L30.97,191.2L31.27,181.8L34.69,164.8L36.46,149.2L36.76,119.2L36.58,115.8L35.51,109.8L30.86,89.75L30.15,78.75L30.82,73.25L32.01,68.75L35.47,60.25L45.79,42.75L49.75,37.34L51.75,35.2L56.75,32.13L59.75,31.22L63.25,32.39L68.25,35.48L75.17,41.75L80.9,48.75L89.85,63.75L92.89,69.75L94.55,74.75L95.29,83.25L95.16,89.25L94.16,99.75L91.34,116.8L91.09,121.2L91.68,146.8L93.14,161.8L96.19,181.8L96.24,187.2L95.65,195.2L92.01,206.2L90.15,210.8L86.99,216.2L82.25,223.3L77.25,229.3L72.98,233.8L70.75,235.1Z"/><path fill="#00ad18" d="M65.75,236.3L64.25,236.6L62.25,236.5L56.75,234.7L51.25,230.6L47.25,226.8L45.05,224.2L39.1,215.8L36.28,210.8L34.25,204.4L32.32,196.8L31.53,190.8L31.88,181.8L35.38,164.8L37.14,149.8L37.51,119.2L37.27,115.2L36.25,109.8L31.42,89.75L30.73,78.75L31.39,73.25L32.43,69.25L35.86,60.75L46.25,43.25L50.25,37.82L52.25,35.71L56.75,32.97L59.75,32.09L63.25,33.21L68.25,36.39L74.75,42.25L80.75,49.48L89.08,63.25L92.18,69.25L94.06,74.75L94.75,82.75L94.64,88.75L93.56,99.25L90.62,116.2L90.31,120.8L91.03,147.2L92.49,162.2L95.69,182.2L95.71,187.2L95.12,195.2L91.65,205.8L89.79,210.2L86.75,215.6L82.25,222.2L77.75,227.7L72.75,232.8L70.75,234.1Z"/><path fill="#00b908" d="M65.75,235.3L64.25,235.7L62.25,235.6L58.75,234.7L56.75,233.8L51.25,229.7L47.75,226.4L45.5,223.8L39.85,215.8L36.98,210.8L33.79,200.2L32.5,194.8L32.1,190.8L32.49,181.8L36.06,164.8L37.86,149.8L37.78,137.8L38.27,119.2L38.03,115.2L37,109.8L33.39,96.25L31.9,89.25L31.32,79.25L31.96,73.25L33.02,69.25L36.48,60.75L46.75,43.68L50.39,38.75L52.73,36.25L56.75,33.8L59.75,32.94L61.25,33.2L63.25,34.04L67.75,36.89L74.25,42.67L80.75,50.41L88.61,63.25L91.69,69.25L93.57,74.75L94.24,82.75L94.09,88.75L92.91,99.25L89.98,115.2L89.52,120.8L90.28,146.2L91.22,157.2L91.92,163.2L95.15,182.2L95.18,187.2L94.59,195.2L91.11,205.8L89.43,209.8L86.28,215.2L82.25,221.1L78.25,226.1L72.67,231.8L70.51,233.2Z"/><path fill="#08c100" d="M63.75,234.8L61.25,234.5L58.25,233.7L53.25,230.4L47.25,224.8L41.25,216.7L37.91,211.2L36.25,206.7L33.33,195.8L32.67,190.2L33.11,181.8L36.74,164.8L38.54,150.2L38.46,137.8L39.02,119.2L38.79,115.2L37.74,109.8L33.98,96.25L32.45,89.25L31.9,79.25L32.45,73.75L33.44,69.75L36.87,61.25L42.68,51.25L47.15,44.25L50.87,39.25L53.25,36.75L57.25,34.4L59.75,33.78L61.25,34.03L63.25,34.86L67.75,37.8L74.25,43.61L78.75,48.67L81.25,52.04L88.44,63.75L91.41,69.75L93.09,74.75L93.72,82.75L93.54,88.75L92.32,98.75L89.35,114.2L88.74,120.8L89.52,137.2L89.62,146.8L90.51,157.2L91.2,163.2L94.61,182.2L94.65,187.2L94.07,195.2L90.75,205.2L89.09,209.2L85.75,215L81.25,221.4L76.25,227.2L71.75,231.4L68.75,233.1L65.75,234.3Z"/><path fill="#18c500" d="M64.25,233.8L62.25,233.8L59.25,233.2L57.25,232.3L54.17,230.2L47.75,224.4L41.71,216.2L38.63,211.2L36.59,205.8L33.84,195.2L33.23,189.8L33.87,180.8L37.34,165.2L38.9,154.2L39.35,148.8L39.13,138.2L39.78,119.2L39.49,114.8L38.49,109.8L35.25,98.79L33,89.25L32.47,79.75L33.02,73.75L34.04,69.75L37.49,61.25L47.6,44.75L51.35,39.75L53.75,37.27L57.25,35.22L59.75,34.61L61.25,34.85L63.4,35.75L67.75,38.71L73.98,44.25L78.25,48.95L81.25,52.9L87.98,63.75L90.93,69.75L92.61,74.75L93.2,82.75L92.99,88.75L91.74,98.25L88.64,113.8L87.96,120.8L88.84,137.2L88.94,146.8L89.85,157.8L90.57,163.8L94.07,182.2L94.14,186.8L93.64,194.8L88.98,208.2L85.75,214L81.75,219.7L76.75,225.6L71.75,230.3L69.25,231.9Z"/><path fill="#28c900" d="M64.25,232.8L62.25,232.9L59.25,232.3L56.75,231.1L54.25,229.4L48.25,223.9L42.12,215.8L39.1,210.8L37.08,205.2L34.45,195.2L33.81,189.8L34.04,184.2L34.56,180.2L38.02,165.2L39.63,154.2L40.06,149.2L39.8,138.2L40.54,118.8L40.17,114.2L39.12,109.2L35.85,98.75L33.56,89.25L33.05,79.75L33.59,73.75L34.63,69.75L38.12,61.25L47.75,45.69L51.42,40.75L53.75,38.2L57.25,36.04L59.75,35.42L61.25,35.66L63.75,36.75L67.75,39.62L73.75,44.93L78.19,49.75L81.25,53.74L87.52,63.75L90.45,69.75L92.12,74.75L92.67,82.25L92.31,89.75L90.92,99.25L87.85,113.8L87.17,120.8L88.15,137.2L88.28,147.2L89.14,157.8L89.85,163.8L93.53,182.2L93.61,186.8L93.12,194.8L88.64,207.8L85.55,213.2L81.75,218.7L77.25,224.1L72.25,228.8L69.25,230.9Z"/><path fill="#38cd00" d="M64.75,231.8L62.75,232L59.75,231.6L57.25,230.5L54.75,228.9L48.75,223.5L42.89,215.8L39.81,210.8L37.73,205.2L35.07,195.2L34.38,189.8L35.18,180.2L38.61,165.8L40.3,154.8L40.78,149.2L40.48,138.2L41.3,118.8L40.93,114.2L39.87,109.2L36.46,98.75L34.11,89.25L33.61,80.75L34.16,73.75L35.23,69.75L38.5,61.75L46.75,48.29L50.75,42.71L53.75,39.16L56.75,37.09L59.75,36.23L61.25,36.46L63.25,37.3L67.25,40.09L73.25,45.33L77.44,49.75L80.75,53.85L87.06,63.75L89.97,69.75L91.64,74.75L92.15,81.75L91.82,89.25L90.25,99.25L87.14,113.2L86.38,120.2L87.49,137.8L87.6,147.2L88.43,157.8L89.23,164.2L93.04,182.8L92.6,194.8L88.3,207.2L85.84,211.8L82.25,217L77.75,222.5L73.25,227L69.25,229.9Z"/><path fill="#48d100" d="M64.75,230.8L62.75,231.1L60.25,230.8L57.75,229.9L55.25,228.3L49.43,223.2L43.3,215.2L40.28,210.2L38.04,204.2L35.58,194.8L34.96,189.8L35.79,180.2L39.29,165.8L41.03,154.8L41.5,149.2L41.17,137.8L42.06,118.8L41.7,114.2L40.62,109.2L36.93,98.25L34.58,88.75L34.17,80.75L34.72,73.75L35.64,70.25L38.87,62.25L46.75,49.4L51.25,43.15L54.25,39.66L57.25,37.66L59.75,37.03L61.75,37.43L64.25,38.7L70.75,43.9L76.75,49.83L80.75,54.66L86.6,63.75L89.29,69.25L91.16,74.75L91.62,80.75L91.26,89.25L89.68,98.75L86.53,112.2L85.6,120.2L86.81,137.8L86.94,147.8L88.21,162.2L92.5,182.8L92.08,194.8L87.97,206.8L85.49,211.2L82.25,216L77.75,221.5L73.25,226L68.75,229.2Z"/><path fill="#58d500" d="M64.75,229.9L62.75,230.2L60.25,230L57.75,229L55.25,227.4L49.75,222.6L43.75,214.8L40.75,209.8L38.52,203.8L36.19,194.8L35.54,189.8L35.85,184.2L36.49,179.8L39.97,165.8L41.75,154.8L42.22,149.2L41.85,137.8L42.82,118.8L42.38,113.8L41.37,109.2L37.55,98.25L35.13,88.75L34.72,81.25L35.29,73.75L36.23,70.25L39.5,62.25L47.25,49.78L51.75,43.59L54.65,40.25L57.25,38.47L59.75,37.83L61.75,38.23L63.75,39.23L70.25,44.34L76.25,50.13L80.25,54.77L86.14,63.75L88.18,67.75L90.57,74.25L91.09,79.25L90.77,88.75L89.01,98.75L85.83,111.8L84.81,120.2L86.12,137.8L86.28,148.2L87.55,162.8L91.96,182.8L91.65,194.2L87.63,206.2L85.46,210.2L82.25,215.1L77.75,220.5L73.25,225L68.75,228.1Z"/><path fill="#68d900" d="M63.25,229.3L61.25,229.3L58.75,228.6L56.27,227.2L53.75,225.4L49.45,221.2L43.77,213.8L41.23,209.2L38.75,202.5L36.75,194.5L36.12,189.8L36.4,184.8L37.1,179.8L40.55,166.2L42.48,154.8L42.94,149.2L42.52,138.2L43.58,118.8L43.14,113.8L42.12,109.2L38.16,98.25L35.69,88.75L35.27,81.75L35.86,73.75L36.83,70.25L40.13,62.25L47.33,50.75L51.75,44.68L54.75,41.13L57.25,39.29L59.75,38.63L61.75,39.03L63.75,40.07L70.25,45.19L75.75,50.43L80.25,55.54L85.75,63.87L87.94,68.25L90.09,74.25L90.61,79.75L90.21,88.75L88.46,98.25L85.13,111.2L84.24,116.8L84.02,120.2L84.45,128.2L85.44,137.8L85.62,148.8L86.84,162.8L91.42,182.8L91.13,194.2L87.25,205.9L84.5,210.8L81.25,215.4L76.25,221.1L72.25,224.8L67.25,227.9Z"/><path fill="#78dd00" d="M63.75,228.3L61.75,228.4L59.75,228.1L57.75,227.3L55.25,225.6L50.33,221.2L44.54,213.8L41.93,209.2L39.31,202.2L37.32,194.2L36.7,189.8L37.01,184.8L37.72,179.8L41.24,166.2L43.15,155.2L43.67,149.2L43.2,138.2L44.34,118.8L43.83,113.2L42.75,108.8L38.75,98.14L36.24,88.75L35.82,82.25L36.35,74.25L37.24,70.75L40.5,62.75L47.4,51.75L52.25,45.12L55.11,41.75L57.25,40.11L59.75,39.41L61.25,39.65L63.25,40.6L69.75,45.63L75.25,50.74L79.83,55.75L85.21,63.75L87.05,67.25L89.61,74.25L90.11,79.25L89.65,88.75L87.79,98.25L84.44,110.8L83.45,116.8L83.22,120.2L83.69,128.2L84.75,137.8L84.93,148.8L86.19,163.2L90.88,182.8L90.61,194.2L86.75,205.7L84.25,210.1L81.25,214.5L76.25,220.2L72.25,223.9L67.25,227Z"/><path fill="#87e100" d="M63.75,227.3L61.75,227.5L59.75,227.2L57.75,226.4L55.25,224.8L50.75,220.7L44.95,213.2L42.4,208.8L39.78,201.8L37.94,194.2L37.28,189.8L38.33,179.8L41.92,166.2L43.88,155.2L44.39,149.2L43.88,138.2L45.11,118.8L44.59,113.2L43.5,108.8L39.24,97.75L36.8,88.75L36.37,82.25L36.92,74.25L37.84,70.75L40.88,63.25L47.75,52.33L55.25,42.6L57.62,40.75L59.75,40.2L61.25,40.44L63.25,41.44L69.75,46.47L75.25,51.55L79.75,56.4L84.75,63.76L86.6,67.25L89.13,74.25L89.61,78.75L89.08,88.75L87.24,97.75L83.74,110.2L82.66,116.8L82.43,120.2L82.92,128.2L84.06,137.8L84.24,148.8L85.47,163.2L90.34,182.8L90.09,194.2L86.41,205.2L83.75,209.9L80.75,214.2L76.25,219.2L72.25,223L67.25,226Z"/><path fill="#97e500" d="M64.25,226.3L62.25,226.6L60.25,226.5L58.25,225.8L56.25,224.6L51.68,220.8L45.73,213.2L43.1,208.8L40.42,201.8L38.66,194.8L37.86,189.8L38.95,179.8L42.5,166.8L44.6,155.2L45.12,149.2L44.56,138.2L45.87,118.8L45.36,113.2L44.26,108.8L43.09,105.2L39.75,97.41L37.26,88.25L36.92,82.25L37.48,74.25L38.25,71.25L41.5,63.25L47.75,53.43L55.58,43.25L57.75,41.51L59.75,40.98L61.25,41.23L62.75,41.97L69.25,46.9L74.75,51.85L79.44,56.75L84.28,63.75L86.16,67.25L88.65,74.25L89.13,78.75L88.61,88.25L86.7,97.25L83.06,109.8L81.87,116.8L81.63,120.2L82.16,128.2L83.41,138.2L83.58,149.2L84.76,163.2L89.72,182.2L89.93,186.2L89.57,194.2L86.07,204.8L84.25,208L80.75,213.3L77.25,217.2L72.25,222L68.25,224.5Z"/><path fill="#a7e900" d="M61.75,225.8L59.75,225.6L58.25,225L53.75,221.8L50.75,218.7L45.45,211.8L43.35,207.8L40.73,200.8L38.96,193.2L38.44,189.2L39.67,179.2L43.06,167.2L45.27,155.8L45.84,149.2L45.22,138.8L46.64,118.8L46.12,113.2L45.02,108.8L43.84,105.2L40.32,97.25L37.82,88.25L37.46,82.25L38.05,74.25L38.85,71.25L41.88,63.75L46.92,55.75L49.75,51.63L55.58,44.25L57.75,42.36L59.75,41.76L61.25,42.03L62.75,42.81L68.75,47.33L74.75,52.63L79.25,57.24L84.13,64.25L85.71,67.25L88.17,74.25L88.66,79.25L88.05,88.25L86.04,97.25L82.37,109.2L80.83,119.8L81.39,128.2L82.73,138.2L82.89,149.2L84.04,163.2L89.25,182.8L89.41,186.8L89.06,194.2L85.27,205.2L81.52,211.2L79.25,214.2L74.25,219.3L70.75,222.2L65.25,225Z"/><path fill="#b7ed00" d="M62.75,224.8L60.75,224.9L59.25,224.6L57.25,223.6L54.75,221.7L51.65,218.8L46.19,211.8L44.04,207.8L41.35,200.8L39.57,193.2L39.02,189.2L40.28,179.2L43.75,167.2L45.99,155.8L46.56,149.2L45.89,138.8L47.39,118.8L46.8,112.8L45.77,108.8L44.39,104.8L40.94,97.25L38.37,88.25L38.01,82.25L38.61,74.25L39.44,71.25L42.5,63.75L46.96,56.75L50.25,51.99L55.75,45.06L57.75,43.23L59.75,42.55L62.25,43.35L68.75,48.16L74.25,52.92L79.08,57.75L83.66,64.25L85.27,67.25L87.7,74.25L88.18,78.75L87.49,88.25L85.51,96.75L83.39,102.8L81.58,109.2L80.02,119.8L80.68,128.8L82.05,138.2L82.24,149.8L83.39,163.8L88.71,182.8L88.9,186.2L88.63,193.8L85.19,204.2L79.71,212.8L76.75,216L71.25,221L66.25,223.6Z"/><path fill="#c7f100" d="M63.25,223.8L61.25,224.1L59.75,223.9L58.25,223.3L55.75,221.7L52.25,218.5L46.75,211.5L44.73,207.8L41.97,200.8L40.28,193.8L39.6,189.2L40.89,179.2L44.29,167.8L46.69,155.8L47.25,149.2L46.54,138.8L48.12,118.8L47.55,112.8L46.67,109.2L45.12,104.8L41.37,96.75L38.92,88.25L38.53,82.75L39.09,74.75L39.67,72.25L41.61,67.25L44.3,61.75L50.25,53L55.6,46.25L57.75,44.12L59.75,43.35L62.25,44.19L68.25,48.57L74.25,53.65L78.75,58.04L83.19,64.25L84.83,67.25L87.22,74.25L87.71,78.25L86.94,88.25L84.87,96.75L82.64,102.8L80.91,108.8L80.02,113.2L79.23,119.8L79.94,128.8L81.42,138.8L81.58,149.8L82.7,163.8L88.17,182.8L88.39,186.2L88.13,193.8L84.64,204.2L79.25,212.4L76.25,215.6L70.75,220.4L67.75,222Z"/><path fill="#d7f500" d="M63.25,222.9L61.25,223.2L59.75,223.1L56.25,221.2L52.75,218.1L47.32,211.2L45.17,207.2L42.42,200.2L40.67,192.8L40.17,189.2L41.37,179.8L44.8,168.2L47.29,156.2L47.89,149.2L47.17,138.8L48.8,118.8L48.25,112.8L47.25,108.8L45.75,104.6L41.98,96.75L39.36,87.75L39.06,82.75L39.63,74.75L40.24,72.25L41.99,67.75L44.61,62.25L50.75,53.3L55.75,47.07L57.75,45.01L59.75,44.16L62.25,45.01L68.25,49.35L76.25,56.1L78.36,58.25L82.75,64.31L84.39,67.25L86.75,74.25L87.26,78.25L86.51,87.75L84.39,96.25L82.09,102.2L80.25,108.4L79.28,113.2L78.48,119.8L79.25,128.9L80.79,138.8L80.97,150.2L82.11,164.2L87.64,182.8L87.9,186.2L87.63,193.8L84.25,203.9L78.75,212.2L76.25,214.8L70.75,219.6L68.25,221Z"/><path fill="#e7f900" d="M62.25,222.3L60.75,222.5L59.25,222.2L55.38,219.8L52.75,217.2L47.68,210.8L45.81,207.2L43.01,200.2L41.45,193.8L40.73,189.2L41.94,179.8L45.4,168.2L47.82,156.8L48.46,149.2L47.75,138.8L49.41,118.8L48.8,112.2L47.75,108.3L46.25,104.2L42.38,96.25L39.89,87.75L39.57,82.75L40.16,74.75L40.8,72.25L43.16,66.25L45.24,62.25L51.12,53.75L55.75,48.04L57.94,45.75L59.75,44.96L60.75,45.09L62.25,45.81L67.75,49.72L75.75,56.29L78.2,58.75L82.25,64.29L83.94,67.25L86.29,74.25L86.8,78.25L85.99,87.75L83.95,95.75L81.42,102.2L79.72,107.8L78.75,112.3L77.8,119.8L78.65,129.2L80.19,138.8L80.39,150.2L81.49,164.2L87.12,182.8L87.41,186.2L87.14,193.8L83.8,203.8L78.25,212L75.75,214.5L70.25,219.2L67.25,220.6Z"/><path fill="#f7fd00" d="M63.25,221.3L61.25,221.7L59.75,221.6L56.75,220L53.58,217.2L48.35,210.8L46.43,207.2L43.58,200.2L42.01,193.8L41.29,189.2L42.5,179.8L45.82,168.8L48.35,156.8L48.98,149.2L48.28,138.8L49.94,118.8L49.37,112.2L48.75,109.6L46.75,103.9L42.96,96.25L40.43,87.75L40.08,83.25L40.61,75.25L41.93,70.75L44.14,65.25L45.51,62.75L51.41,54.25L54.75,50.12L57.75,46.77L59.75,45.76L61.75,46.29L67.25,50.06L73.75,55.21L77.75,58.9L82.08,64.75L83.49,67.25L85.95,74.75L86.36,78.25L85.48,87.75L83.39,95.75L80.79,102.2L79.1,107.8L78.16,112.2L77.21,119.8L78.13,129.8L79.67,139.2L79.87,150.8L80.93,164.2L81.47,166.8L86.7,183.2L86.93,186.8L86.73,193.2L83.51,203.2L78.21,211.2L75.75,213.8L70.25,218.4L68.25,219.5Z"/><path fill="#fffb00" d="M62.75,220.8L59.75,220.9L56.25,219L53.75,216.6L48.66,210.2L46.8,206.8L43.98,199.8L41.84,189.2L43.04,179.8L46.34,168.8L48.21,160.8L48.83,156.8L49.43,149.2L48.78,138.8L50.41,118.8L49.87,112.2L49.25,109.5L47.26,103.8L43.33,95.75L40.97,87.75L40.59,83.25L41.13,75.25L41.73,72.75L43.86,67.25L46.1,62.75L51.75,54.66L54.75,50.96L57.75,47.63L59.75,46.54L61.75,47.04L67.25,50.74L75.25,57.08L77.75,59.59L81.75,65.01L83.25,67.75L85.47,74.75L85.9,78.25L85.08,87.25L83.01,95.25L80.25,102.2L78.66,107.2L77.71,111.8L76.69,119.8L77.6,129.8L79.15,139.2L79.37,150.8L80.48,164.8L86.19,183.2L86.45,186.8L86.24,193.2L82.98,203.2L77.75,211L75.25,213.6L69.75,218.1L67.25,219.3Z"/><path fill="#fff300" d="M62.25,220.3L60.75,220.4L59.25,220.1L56.25,218.3L53.75,215.8L48.95,209.8L47.37,206.8L44.53,199.8L42.54,190.8L42.46,187.2L43.36,180.8L46.82,168.8L48.67,160.8L49.27,156.8L49.85,149.2L49.24,138.8L50.83,118.2L50.33,112.2L49.75,109.6L47.79,103.8L43.34,94.25L41.4,87.25L41.11,83.75L41.83,74.25L45.49,64.75L50.14,57.75L54.75,51.76L58.25,48.04L59.25,47.44L60.25,47.29L62.25,48.05L67.25,51.4L74.25,56.84L77.3,59.75L81.25,65.03L82.75,67.69L84.98,74.75L85.44,78.25L84.59,87.25L82.5,95.25L79.87,101.8L78.14,107.2L77.22,111.8L76.23,119.8L77.12,129.8L78.7,139.8L78.9,150.8L80,164.8L85.67,183.2L85.96,186.8L85.74,193.2L84.25,198.4L82.45,203.2L77.25,210.9L72.75,215.1L69.25,217.7L66.25,219.1Z"/><path fill="#ffeb00" d="M61.75,219.8L59.25,219.5L56.25,217.6L53.92,215.2L49.25,209.3L45.08,199.8L43.1,190.8L43,187.2L43.88,180.8L47.28,168.8L49,161.2L49.66,156.8L50.24,149.2L49.68,138.8L51.23,118.2L50.75,112.2L50.24,109.8L48.29,103.8L44.87,96.75L43.72,93.75L41.96,87.25L41.64,83.75L42.37,74.25L46.05,64.75L50.02,58.75L54.25,53.12L58.25,48.87L59.25,48.24L60.25,48.06L62.25,48.76L67.25,52.05L74.03,57.25L77.25,60.42L80.87,65.25L82.28,67.75L84.6,75.25L84.98,78.75L84.09,87.25L82,95.25L79.36,101.8L77.75,106.9L76.76,111.8L75.8,119.2L76.68,129.8L78.23,139.8L78.48,151.2L79.54,164.8L85.24,183.8L85.47,187.8L85.25,193.1L83.81,198.2L82.16,202.8L79.02,207.8L76.75,210.7L72.25,214.9L69.07,217.2L65.75,218.7Z"/><path fill="#ffe300" d="M61.25,219.3L58.75,218.6L56.04,216.8L49.75,209.1L48.07,205.8L45.46,199.2L43.67,190.8L43.54,187.2L44.31,181.2L47.84,168.2L49.42,161.2L50.04,156.8L50.6,149.8L50.1,138.8L51.59,118.2L51.14,112.2L50.66,109.8L48.75,103.7L44.25,93.69L42.54,87.25L42.2,83.75L42.8,74.75L46.6,64.75L54.36,53.75L58.25,49.69L60.25,48.83L62.25,49.47L67.25,52.7L73.3,57.25L76.9,60.75L80.31,65.25L81.77,67.75L84.08,75.25L84.49,78.75L83.59,87.25L81.67,94.75L78.88,101.8L77.33,106.8L76.34,111.8L75.4,119.2L76.25,129.8L77.8,140.2L78.05,151.2L79.11,164.8L84.71,183.8L84.97,187.2L84.79,192.8L83.62,197.2L81.75,202.5L79.48,206.2L76.55,210.2L71.75,214.7L68.75,216.9L64.75,218.5Z"/><path fill="#ffdb00" d="M63.75,218.3L60.75,218.7L57.75,217.4L55.25,215.2L50.47,209.2L48.63,205.8L45.85,198.8L44.57,192.8L44.07,188.8L45.03,180.2L48.25,168.3L49.75,161.6L50.35,157.2L50.94,149.8L50.52,138.8L51.94,118.2L51.46,111.8L50.75,108.6L48.85,102.8L45.17,94.75L43.23,87.75L42.77,83.25L43.18,75.75L43.79,73.25L45.84,67.75L48.05,63.25L55.75,52.9L58.25,50.47L60.25,49.59L62.25,50.17L66.75,52.99L73.17,57.75L76.68,61.25L80.08,65.75L81.44,68.25L83.54,75.25L83.99,78.75L83.08,87.25L81.18,94.75L78.59,101.2L76.89,106.8L75.93,111.8L75.02,119.2L75.85,129.8L77.35,140.2L77.63,151.2L78.68,164.8L84.16,183.8L84.44,187.2L84.25,192.8L82.94,197.8L81.3,202.2L76.78,209.2L74.25,211.9L69.75,215.6L67.25,217.1Z"/><path fill="#ffd300" d="M63.75,217.8L60.75,218.1L57.75,216.8L55.25,214.5L50.76,208.8L49.2,205.8L46.41,198.8L45.14,192.8L44.63,188.2L45.57,180.2L48.75,168L50.2,161.2L50.71,157.2L51.27,150.2L50.92,138.8L52.27,118.2L51.82,111.8L51.05,108.2L49.32,102.8L45.56,94.25L43.82,87.75L43.37,83.25L43.68,76.25L44.21,73.75L46.2,68.25L48.62,63.25L55.75,53.65L58.25,51.22L60.25,50.35L62.25,50.86L66.75,53.63L72.43,57.75L76.25,61.52L79.48,65.75L80.89,68.25L82.99,75.25L83.48,78.75L82.57,87.25L80.85,94.25L78.12,101.2L76.58,106.2L75.53,111.8L74.66,119.2L75.45,129.8L76.93,140.8L77.24,151.8L78.26,164.8L83.6,183.8L83.9,186.8L83.77,192.2L82.57,197.2L80.97,201.8L76.75,208.5L74.23,211.2L69.75,215L67.25,216.5Z"/><path fill="#ffcb00" d="M63.75,217.3L60.75,217.5L57.75,216.1L55.29,213.8L51.25,208.5L49.55,205.2L46.82,198.2L45.72,192.8L45.21,188.2L46.01,180.8L50.08,163.8L51.05,157.2L51.6,150.2L51.32,138.8L52.6,118.2L52.18,111.8L51.3,107.8L49.59,102.2L46.13,94.25L44.62,88.75L43.99,83.75L44.24,76.25L44.79,73.75L46.76,68.25L49.19,63.25L56.25,53.84L58.25,51.96L60.25,51.08L61.75,51.33L63.25,52.07L69.75,56.34L72.86,58.75L75.78,61.75L78.87,65.75L80.33,68.25L82.42,75.25L82.95,78.75L82.43,85.25L80.92,92.25L77.32,102.2L75.92,107.2L74.3,119.2L75.11,130.2L76.48,140.8L76.82,151.8L77.78,164.2L78.34,167.2L83.03,183.8L83.35,186.8L83.21,192.2L82.18,196.8L80.62,201.2L79.07,204.2L76.37,208.2L74.06,210.8L69.75,214.4L66.75,216.2Z"/><path fill="#ffc300" d="M63.75,216.8L60.75,216.9L58.14,215.8L55.75,213.5L51.67,208.2L49.9,204.8L47.37,198.2L46.29,192.8L45.78,187.8L46.64,180.2L49.41,168.8L51.19,159.2L51.9,151.2L51.72,138.8L52.92,117.8L52.54,111.8L51.69,107.8L50.06,102.2L46.52,93.75L45.3,89.25L44.61,83.75L44.81,76.25L46.95,69.25L49.44,63.75L56.25,54.58L58.25,52.67L60.25,51.79L61.75,52.01L63.25,52.72L69.75,56.94L72.68,59.25L75.51,62.25L78.59,66.25L79.97,68.75L81.97,75.75L82.41,78.75L81.54,87.25L79.88,94.25L77.21,101.2L75.85,105.8L74.82,111.2L73.94,118.8L74.72,130.2L76.07,141.2L76.27,149.2L77.3,163.8L77.91,167.2L82.56,184.2L82.8,187.2L82.64,192.2L81.64,196.8L80.25,200.8L78.5,204.2L76.25,207.6L73.88,210.2L69.75,213.8L66.75,215.7Z"/><path fill="#ffbb00" d="M63.75,216.3L60.75,216.4L58.25,215.2L55.77,212.8L51.98,207.8L50.25,204.2L47.8,197.8L46.79,192.2L46.36,187.8L47.17,180.2L49.93,168.2L51.5,159.8L52.2,151.8L52.11,138.8L52.69,131.8L53.24,117.8L52.89,111.8L52.07,107.8L50.69,102.8L47.27,94.25L45.87,89.25L45.23,83.75L45.38,76.25L45.96,73.75L48.08,67.75L50.32,63.25L56.78,54.75L58.75,53.03L60.75,52.46L63.75,53.65L70.73,58.25L73.5,60.75L76.45,64.25L78.62,67.25L79.59,69.25L81.51,76.25L81.88,79.25L81.38,85.25L79.95,92.25L76.42,102.2L75.2,106.8L73.58,118.8L74.33,130.2L75.66,141.8L75.82,148.8L76.75,162.8L77.48,167.2L81.98,184.2L82.25,187.8L82.07,192.2L81.1,196.8L79.71,200.8L77.94,204.2L75.95,207.2L73.7,209.8L69.74,213.2L66.75,215.1Z"/><path fill="#ffb300" d="M63.75,215.8L60.75,215.8L58.25,214.5L56.02,212.2L52.28,207.2L50.4,203.2L48.35,197.8L47.36,192.2L46.92,187.2L47.71,180.2L51.81,160.2L52.53,151.8L52.5,138.8L53.04,132.2L53.55,117.2L53.18,111.2L52.25,107L50.8,101.8L48.01,94.75L46.53,89.75L45.85,83.75L45.89,76.75L46.39,74.25L47.9,69.75L50.56,63.75L57.25,54.99L59.25,53.44L60.75,53.13L63.75,54.29L70.25,58.5L73.25,61.23L76.25,64.82L78.25,67.65L79.2,69.75L80.94,76.25L81.34,79.25L80.86,85.25L79.58,91.75L75.81,102.8L74.79,106.8L73.23,118.8L73.95,130.2L75.24,142.2L76.32,162.8L76.94,166.8L81.41,184.2L81.68,187.2L81.56,191.8L80.69,196.2L79.55,199.8L77.94,203.2L75.75,206.7L73.25,209.5L69.61,212.8L66.41,214.8Z"/><path fill="#ffab00" d="M63.75,215.3L61.25,215.3L58.75,214.2L56.26,211.8L52.6,206.8L48.91,197.8L47.93,192.2L47.49,187.2L48.24,180.2L52.18,160.2L52.84,152.2L52.88,138.8L53.41,132.2L53.87,117.2L53.6,111.8L52.7,107.2L51.25,101.7L48.4,94.25L47.09,89.75L46.44,83.25L46.46,76.75L46.97,74.25L48.64,69.25L51.13,63.75L57.25,55.72L59.25,54.11L60.75,53.78L63.75,54.92L70.25,59.12L73.02,61.75L76.25,65.66L77.75,67.84L78.8,70.25L80.48,76.75L80.82,79.75L80.33,85.25L78.97,92.25L75.52,102.2L74.48,106.2L73.05,115.8L72.87,118.8L73.56,130.2L74.79,142.2L75.88,162.8L76.51,166.8L80.84,184.2L81.12,187.2L81,191.8L80.15,196.2L79.19,199.2L77.38,203.2L75.52,206.2L73.25,208.8L69.47,212.2L66.25,214.3Z"/><path fill="#ffa300" d="M63.25,214.8L60.75,214.6L58.35,213.2L55.75,210.3L52.91,206.2L49.32,197.2L48.49,192.2L48.04,186.8L48.76,180.2L52.51,160.8L53.16,152.8L53.26,138.8L53.76,132.8L54.2,116.8L53.82,110.8L52.25,103.8L47.64,89.75L46.96,81.75L47.01,76.75L49.01,69.75L51.37,64.25L57.45,56.25L59.25,54.78L60.75,54.42L63.25,55.28L69.75,59.35L72.33,61.75L75.75,65.86L77.38,68.25L78.23,70.25L79.9,76.75L80.28,79.75L79.81,85.25L78.6,91.75L75.07,102.2L74.06,106.2L72.5,118.2L73.17,130.2L74.38,142.8L75.44,162.8L76.07,166.8L80.28,184.2L80.56,187.2L80.43,191.8L79.73,195.8L78.83,198.8L77.09,202.8L75.25,205.8L72.75,208.7L69.25,211.8L65.75,214Z"/><path fill="#ff9b00" d="M63.25,214.3L60.75,214.1L58.75,212.9L55.98,209.8L53.23,205.8L49.86,197.2L49.03,192.2L48.58,186.8L49.28,180.2L52.91,160.8L53.51,152.8L53.61,139.2L54.14,132.8L54.53,116.2L54.18,110.8L52.41,102.8L48.19,89.75L47.5,81.25L47.51,77.25L49.03,71.25L51.75,64.54L57.75,56.67L59.25,55.45L60.75,55.06L63.25,55.91L69.75,59.99L72.08,62.25L75.75,66.73L77.04,68.75L77.82,70.75L79.43,77.25L79.75,80.25L79.21,85.75L78.1,91.75L74.61,102.2L73.74,105.8L72.12,118.2L72.81,130.8L73.93,142.8L74.98,162.8L75.62,166.8L79.8,184.8L79.88,191.8L78.47,198.2L76.54,202.8L74.75,205.7L72.25,208.5L68.75,211.6L65.75,213.4Z"/><path fill="#ff9300" d="M63.25,213.8L60.75,213.5L58.82,212.2L55.47,208.2L53.54,205.2L50.26,196.8L49.51,191.8L49.1,186.2L49.79,180.2L53.28,161.2L53.86,153.2L53.98,139.2L54.5,133.2L54.47,125.2L54.89,115.8L54.56,110.8L52.7,102.2L48.63,89.25L48.03,77.25L49.56,71.25L52.17,64.75L57.92,57.25L59.25,56.13L60.75,55.71L63.25,56.55L69.25,60.24L71.39,62.25L75.11,66.75L76.43,68.75L77.25,70.76L78.85,77.25L79.22,80.25L78.68,85.75L77.59,91.75L73.4,105.2L71.9,115.2L71.73,118.2L72.4,130.8L73.5,143.2L74.5,162.8L75.04,166.2L79.25,184.8L79.49,187.8L79.33,191.8L78.68,195.8L77.93,198.2L76,202.8L74.51,205.2L72.25,207.8L68.75,211L65.75,212.9Z"/><path fill="#ff8b00" d="M62.75,213.3L60.75,212.9L58.75,211.4L55.37,207.2L53.75,204.5L50.77,196.8L50.01,191.8L49.61,186.2L50.3,180.2L53.74,161.2L54.24,153.8L54.32,139.8L54.88,133.2L54.74,125.2L55.26,115.2L54.94,110.8L53.01,101.8L49.14,89.25L48.53,77.25L50.06,71.25L52.42,65.25L58.18,57.75L59.41,56.75L60.75,56.36L63.25,57.2L69.06,60.75L71.13,62.75L74.75,67.17L76.06,69.25L76.81,71.25L78.26,77.25L78.66,80.25L78.2,85.25L77.17,91.25L73.06,104.8L71.51,114.8L71.31,117.8L72.01,131.2L73.04,143.2L73.97,162.8L78.7,184.8L78.96,187.8L78.79,191.8L77.58,197.8L75.7,202.2L74.25,204.8L71.75,207.6L68.25,210.7L64.75,212.8Z"/><path fill="#ff8300" d="M64.25,212.3L61.75,212.6L59.75,211.6L57.25,208.9L54.69,205.2L52.63,200.8L51.26,196.8L50.5,191.8L50.11,186.2L50.81,180.2L54.23,161.8L54.67,154.2L54.67,139.8L55.27,133.8L55.01,125.2L55.68,115.2L55.35,110.8L53.25,100.9L49.64,89.25L48.98,77.75L50.55,71.25L52.96,65.25L58.25,58.48L59.75,57.29L60.75,57.05L63.03,57.75L68.75,61.19L70.75,63.14L74.12,67.25L75.41,69.25L76.2,71.25L78.08,80.25L76.72,90.75L72.59,104.8L71.02,114.8L70.85,117.8L71.37,123.8L71.55,131.2L72.59,143.8L73.43,163.2L78.15,184.8L78.43,187.8L78.32,191.2L77.23,197.2L75.62,201.2L74.03,204.2L72.25,206.4L68.75,209.7Z"/><path fill="#ff7c00" d="M63.75,211.8L61.75,211.9L59.75,210.8L56.75,207.4L54.73,204.2L51.74,196.8L50.97,191.8L50.6,186.2L51.32,180.2L54.89,161.8L55.17,154.2L54.85,147.2L54.99,140.8L55.69,133.8L55.27,125.2L56.15,114.8L55.78,110.8L53.54,100.2L50.13,89.25L49.44,77.75L51.02,71.25L53.22,65.75L58.25,59.32L59.75,58.07L60.75,57.77L62.75,58.31L68.25,61.53L70.25,63.44L73.75,67.75L74.96,69.75L75.75,71.94L77.19,78.25L77.46,80.75L76.1,90.75L72.28,103.8L70.54,114.2L70.33,117.2L72.11,144.2L72.71,163.2L77.6,184.8L77.91,187.8L77.79,191.2L76.7,197.2L73.75,203.8L71.75,206.2L68.43,209.2L66.25,210.7Z"/><path fill="#ff7400" d="M62.75,211.3L60.88,210.8L59.25,209.4L56.25,205.8L54.25,202.2L52.1,196.2L51.38,191.2L51.09,186.2L52.25,178.1L55.71,162.8L55.78,154.8L55.21,145.8L55.38,139.8L56.15,133.8L55.51,125.8L56.7,114.8L56.36,111.2L53.75,99.05L50.62,89.25L49.9,77.75L51.47,71.25L53.75,65.79L58.25,60.18L59.75,58.92L60.75,58.58L62.75,59.06L67.75,61.93L69.75,63.8L72.96,67.75L74.21,69.75L74.98,71.75L76.25,77.09L76.76,80.75L75.62,89.75L71.93,102.8L69.88,114.2L69.7,116.8L70.4,123.8L70.54,132.2L71.56,144.2L71.7,163.2L76.93,184.2L77.35,187.2L77.25,191.2L76.17,197.2L73.13,203.8L70.92,206.2L67.75,209L64.75,210.7Z"/><path fill="#ff6c00" d="M63.75,210.3L61.75,210.2L60.25,209.4L57.25,206.2L55.25,203.1L53.69,199.8L52.56,196.2L51.83,191.2L51.59,186.8L51.75,184.2L52.82,178.2L57.14,162.8L55.57,145.8L55.74,139.8L56.66,134.2L55.87,128.8L55.8,124.8L57.38,114.8L57.03,111.8L55.25,105.1L53.99,97.75L51.11,89.25L50.31,78.25L51.77,71.75L54.05,66.25L58.25,61.06L59.75,59.84L61.25,59.45L63.51,60.25L67.7,62.75L69.71,64.75L72.45,68.25L74.34,72.25L75.3,76.25L75.95,80.75L74.93,89.25L71.62,101.2L68.89,116.2L69.82,123.8L69.89,133.2L70.98,144.8L70.12,163.2L70.56,165.2L73.75,174.1L75.75,181.7L76.76,186.8L76.75,190.8L75.78,196.8L74.63,199.8L72.8,203.2L71.13,205.2L68.25,207.8L66.25,209.2Z"/><path fill="#ff6400" d="M63.75,209.3L61.75,209.3L60.25,208.4L57.25,205.2L55.25,202L53.03,196.2L52.28,191.2L52.09,187.2L52.66,181.8L53.75,177.3L55.75,171.3L58.9,164.2L59.2,162.8L56.26,148.8L55.95,145.8L56.12,139.8L57.25,134.8L56.16,128.8L56.06,124.8L56.44,122.2L58.15,116.2L58.23,114.2L55.59,104.8L54.48,97.25L51.6,89.25L50.75,78.25L52.21,71.75L54.33,66.75L58.25,61.95L59.75,60.79L61.25,60.37L63.25,60.98L67.13,63.25L69.19,65.25L71.53,68.25L72.93,70.75L73.75,73.22L75.06,80.75L74.04,89.25L71.73,96.75L69.83,107.8L67.85,115.2L69.2,124.2L69.05,133.8L70.33,145.2L69.71,152.8L67.95,162.8L68.51,165.2L71.75,171.8L73.99,177.8L76.02,185.8L76.18,190.8L75.22,196.8L72.43,202.8L70.75,204.8L68.25,207L66.25,208.3Z"/><path fill="#ff5c00" d="M63.75,208.3L62.25,208.4L60.25,207.3L57.75,204.8L55.75,201.9L54.46,199.2L53.5,196.2L52.59,188.8L52.88,183.8L54.36,177.8L56.75,172L61.66,164.2L62.09,162.8L57.75,151.7L56.44,146.8L56.44,140.2L57.98,134.8L56.45,128.8L56.33,124.8L56.96,121.8L59.34,116.2L59.48,114.8L56.13,105.2L55.04,96.75L52.11,89.25L51.2,78.25L52.75,71.45L54.75,67.04L58.25,62.85L59.75,61.73L61.25,61.32L63.25,61.87L66.49,63.75L68.25,65.34L70.57,68.25L71.97,70.75L72.84,73.25L73.65,76.75L74.1,80.75L73.29,88.25L70.77,96.25L69.33,106.8L66.55,115.2L68.45,124.2L68.6,128.8L68.05,134.2L69.42,142.8L69.6,145.8L68.25,153.6L65.12,162.8L65.71,164.8L70.75,172.7L72.93,177.2L75.39,185.8L75.6,190.8L74.65,196.8L72.03,202.2L70.39,204.2L68.25,206.1L66.25,207.4Z"/><path fill="#ff5400" d="M64.25,157.3L63.75,157.5L62.75,157.3L60.75,155L58.25,150.6L56.83,146.2L56.85,140.2L58.88,135.2L58.62,133.8L56.75,128.8L56.66,124.2L57.75,121.1L60.81,116.8L61.23,115.2L56.58,105.2L56.19,103.2L55.77,96.75L53.13,90.75L52.41,88.25L51.61,79.75L51.78,77.25L52.55,73.75L54.34,68.75L55.95,66.25L58.25,63.73L59.75,62.65L61.25,62.26L63.25,62.79L66.25,64.58L68.02,66.25L69.92,68.75L71.21,71.25L72.05,73.75L73.12,80.25L72.31,88.25L69.65,96.25L68.71,106.2L67.75,109.1L64.85,115.2L65.11,116.8L66.96,121.2L67.65,124.2L67.84,128.8L66.9,134.2L68.19,139.8L68.85,145.2L68.44,148.2L66.9,153.2L65.75,155.6ZM63.75,207.4L62.25,207.3L60.25,206.3L58.07,204.2L55.98,201.2L54.75,198.8L53.98,196.2L53.06,189.2L53.15,185.8L53.75,182L55.75,176.5L57.25,173.5L59.25,170.7L61.75,168.1L63.25,167.4L64.25,167.5L65.75,168.7L69.25,172.9L71.25,175.9L72.56,178.8L74.25,183.9L75.08,188.8L74.21,196.2L73.29,198.8L71.92,201.2L70.25,203.5L68.25,205.2L65.75,206.7Z"/><path fill="#ff4c00" d="M63.75,113L62.25,112.9L60.75,111.6L58.75,108.8L57.24,105.8L56.61,102.8L56.57,96.75L53.16,89.25L52.07,80.25L52.18,77.75L52.77,74.75L53.73,71.25L54.62,69.25L56.25,66.76L58.25,64.6L59.75,63.54L61.25,63.17L63.25,63.71L65.75,65.22L67.4,66.75L68.94,68.75L71.11,73.75L72.13,79.75L72.04,83.25L71.31,88.25L68.49,96.25L68.41,103.2L68.07,105.8L67.25,108.1L65.75,110.9ZM64.25,154L63.25,154.2L62.25,153.9L59.75,151.2L57.75,147.7L57.02,143.8L57.43,139.8L58.25,138.1L59.8,136.2L60.15,135.2L57.21,129.2L56.83,126.8L57.08,123.8L57.75,122.1L58.75,120.8L61.25,118.6L62.75,117.9L63.75,118.1L64.86,119.2L65.96,121.2L66.74,123.8L67.05,128.8L65.57,134.8L67.25,139.4L68.05,144.2L67.89,146.8L67.25,148.9L65.75,152.2ZM64.25,206.3L62.25,206.4L60.75,205.7L58.75,204L56.75,201.5L55.47,199.2L54.6,196.8L53.54,189.8L54.1,183.2L54.73,180.8L55.75,178.4L57.75,174.8L59.25,173L61.75,170.9L63.25,170.4L64.75,170.8L66.25,171.9L69.25,175L70.75,177.1L72.05,179.8L73.64,184.2L74.46,188.8L73.73,195.8L72.1,199.8L70.43,202.2L68.75,203.9L66.75,205.3Z"/><path fill="#ff4400" d="M63.75,111L62.25,111.1L60.75,110.1L58.75,107.5L57.57,105.2L57.07,102.2L57.48,96.75L53.71,89.25L52.55,80.75L52.93,76.25L53.88,72.25L54.75,70.02L56.25,67.67L58.25,65.46L59.75,64.41L61.25,64.07L62.75,64.42L65.25,65.87L66.78,67.25L68.25,69.2L69.48,71.75L70.46,74.75L71.18,79.75L71.13,82.75L70.43,87.75L67.25,96.25L67.66,101.8L67.42,105.2L65.75,108.9ZM63.25,134.5L62.75,134.7L61.75,134.2L59.25,131.9L57.75,129.6L57.13,126.8L57.3,124.2L58.25,122.2L60.75,120.4L62.75,119.8L64.25,120.5L65.25,122L65.98,124.2L66.32,127.2L65.67,130.8L64.75,132.6ZM63.75,151.8L62.75,151.9L61.75,151.5L59.25,148.9L57.84,146.2L57.4,143.2L57.62,140.8L58.25,139.2L59.75,137.8L62.25,136L63.25,135.7L64.75,136.8L66.06,138.8L66.75,140.9L67.27,144.2L67.14,146.2L66.46,148.2L65.25,150.4ZM64.25,205.4L62.25,205.4L60.75,204.8L58.75,203.1L56.75,200.5L55.1,196.8L54.02,189.8L54.69,183.2L56.25,179L59.25,174.8L61.25,173.4L63.25,172.8L64.75,173.2L66.25,174.1L68.75,176.3L70.25,178.1L73.08,184.8L73.83,188.8L73.23,195.2L72.69,197.2L71.75,199.2L70.25,201.4L68.47,203.2L66.25,204.6Z"/><path fill="#ff3c00" d="M63.75,109.5L62.25,109.7L60.75,108.8L59.25,107.2L57.94,104.8L57.63,101.2L58.6,96.75L58.24,95.75L55.25,91.35L54.29,89.25L53.02,80.75L53.33,76.75L54.94,70.75L57.81,66.75L59.25,65.53L60.75,64.96L62.25,65.15L64.25,66.18L65.75,67.36L67.25,69.15L69.37,74.25L70.19,78.75L70.21,82.25L69.43,87.75L65.81,96.25L66.77,100.8L66.76,104.8L65.75,107.3ZM62.75,132.5L61.25,132.4L59.25,131L57.84,128.8L57.47,126.8L57.57,124.8L58.25,123.1L59.75,121.9L62.25,121.2L63.75,121.7L64.52,122.8L65.11,124.2L65.5,126.8L65.38,128.8L64.86,130.2L63.75,131.8ZM63.75,149.9L62.25,150.1L60.25,148.8L58.43,146.2L57.84,143.8L58,141.2L58.75,139.6L60.25,138.5L62.75,137.7L64.25,138.2L65.25,139.3L65.99,141.2L66.44,143.8L66.38,145.8L65.89,147.2L64.75,149ZM64.75,204.3L62.75,204.6L61.25,204.1L59.25,202.7L57.25,200.3L55.62,196.8L54.55,190.2L54.89,185.2L56.25,180.6L59.25,176.4L60.75,175.3L62.75,174.7L64.25,174.9L65.75,175.6L68.25,177.4L69.54,178.8L72.25,184.5L73.17,188.2L72.85,193.8L71.75,197.9L68.75,202.1L66.75,203.5Z"/><path fill="#ff3400" d="M63.25,108.4L62.25,108.5L60.75,107.8L59.37,106.2L58.53,104.8L58.14,102.8L58.41,100.2L59.25,98.47L60.88,96.75L60.72,96.25L57.25,93.15L55.25,90.05L54.37,87.25L53.53,80.75L54.07,75.75L55.52,70.75L58.25,67.21L59.75,66.11L60.75,65.83L62.25,66.08L63.75,66.85L66.32,69.25L67.39,71.25L68.42,74.25L69.27,78.75L69.21,82.75L68.26,88.25L66.25,92.61L63.3,96.25L65.44,99.25L66.12,103.2L65.96,104.8L65.37,106.2L64.25,107.7ZM62.25,131.3L60.75,131.1L59.25,130.1L58.32,128.8L57.89,127.2L57.89,125.2L58.43,123.8L59.75,122.7L61.25,122.3L62.75,122.5L63.65,123.2L64.63,126.2L64.67,127.8L64.25,129.4L63.25,130.7ZM63.75,148.4L62.75,148.7L61.25,148.4L59.75,147.1L58.64,145.2L58.29,143.2L58.55,141.2L59.25,140.1L60.75,139.2L62.25,138.9L63.62,139.2L64.64,140.2L65.11,141.2L65.57,143.2L65.6,145.2L65.09,146.8ZM65.25,203.3L63.25,203.7L61.75,203.5L60.25,202.6L58.25,200.7L57.21,199.2L56.32,197.2L55.14,190.8L55.33,186.2L56.68,181.2L59.25,177.8L60.75,176.7L62.25,176.3L63.75,176.4L65.25,177L67.25,178L68.75,179.3L70.75,182.8L72.45,187.8L72.34,192.8L71.37,197.2L68.59,201.2L67.25,202.4Z"/><path fill="#ff2c00" d="M62.25,94.26L60.75,94.4L59.25,93.89L57.75,92.57L56.25,90.52L55.1,87.75L54.09,80.75L54.66,75.75L55.92,71.25L58.25,68.16L59.75,67.02L60.75,66.75L62.25,67.05L63.53,67.75L65.75,69.95L67.75,75.24L68.35,78.75L68.24,82.75L67.2,88.25L65.8,91.25L64.75,92.74L63.75,93.6ZM62.75,107.3L61.75,107.3L60.25,106.2L59.21,104.8L58.78,103.2L58.91,101.2L59.51,99.75L60.25,99.05L61.75,98.56L63.25,98.74L64.25,99.47L64.92,100.8L65.23,102.2L65.28,103.8L64.91,105.2L63.82,106.8ZM61.75,130.3L60.75,130.2L59.75,129.6L58.75,128.4L58.35,127.2L58.29,125.8L58.75,124.3L60.25,123.3L61.75,123.3L62.66,123.8L63.66,125.8L63.8,127.2L63.47,128.8L62.75,129.8ZM63.25,147.3L62.25,147.5L61.25,147.2L59.75,145.9L59.11,144.8L58.84,143.2L59.04,141.8L59.75,140.7L60.75,140.1L62.25,140L63.08,140.2L64.32,141.8L64.77,143.8L64.66,145.2L64.25,146.2ZM63.25,202.8L61.75,202.5L60.3,201.8L57.63,198.8L56.54,195.8L55.66,189.8L56.17,185.2L57.25,181.7L59.75,178.6L60.75,178L62.25,177.7L65.75,178.5L68.32,180.2L69.6,182.2L71.16,185.8L71.85,189.2L71.28,195.2L70.25,197.9L68.75,200L67.25,201.4L65.25,202.4Z"/><path fill="#ff2400" d="M62.25,92.92L60.75,93.16L59.25,92.69L57.75,91.3L56.75,89.86L55.73,87.25L54.76,80.75L55.25,76.26L56.46,71.75L58.75,68.78L60.75,67.78L61.75,67.93L63.25,68.71L65.11,70.75L66.86,75.75L67.36,78.75L67.25,82.48L66.26,87.75L64.25,91.52ZM63.25,105.8L62.25,106.2L61.25,105.9L59.84,104.2L59.65,101.8L60.07,100.8L60.75,100.1L61.75,99.84L62.75,99.99L63.95,101.2L64.31,103.8L64.03,104.8ZM61.75,129L60.25,128.9L59.51,128.2L59.01,127.2L59.1,125.2L60.25,124.3L61.75,124.5L62.59,125.8L62.67,127.8ZM62.75,146L61.25,146L60.31,145.2L59.75,144.3L59.72,142.2L60.75,141.2L62.25,141.2L63.38,142.2L63.75,144.3L63.47,145.2ZM63.75,201.8L62.25,201.7L60.75,201L58.25,198.4L57.25,195.8L56.4,190.2L56.73,186.2L57.75,182.6L59.75,180L61.75,179L63.25,179L65.25,179.6L67.75,181.1L70.24,185.8L71.02,188.8L70.75,193.6L69.75,197.2L68.25,199.3L66.75,200.7Z"/><path fill="#ff1c00" d="M60.75,91.78L59.75,91.53L58.75,90.81L57.25,88.7L56.5,86.25L55.65,80.25L56.25,75.84L57.23,72.25L58.75,70.18L59.75,69.41L60.75,69.11L62.75,69.83L64.25,71.65L65.89,76.75L66.24,79.75L65.68,85.25L64.75,88.15L63.12,90.75L62.25,91.4ZM62.25,104.3L61.25,104L60.88,103.2L60.98,102.2L61.75,101.6L62.25,101.8L62.84,102.8L62.77,103.8ZM64.75,200.4L62.25,200.5L60.77,199.8L59.75,198.8L58.34,196.2L57.58,192.2L57.34,188.8L58.25,184.2L59.75,181.6L61.75,180.4L64.25,180.7L66.75,181.9L68.25,184.1L69.93,188.2L70.02,191.2L69.25,195.8L67.25,198.8L66.17,199.8Z"/><path fill="#ff1400" d="M61.75,89.34L60.25,89.57L58.75,88.18L57.88,85.75L57.08,80.75L57.28,78.25L58.25,73.71L59.25,71.99L60.75,71.18L61.75,71.45L62.86,72.75L64.22,76.75L64.63,79.25L63.88,85.75L62.75,88.25ZM64.25,198.8L62.25,198.7L60.45,197.2L59.58,195.2L58.89,191.2L58.87,188.2L59.68,184.8L60.75,183L62.25,182.2L64.25,182.5L66.11,183.8L67.75,186.6L68.54,189.2L68.48,191.8L67.75,195.4L66.25,197.6Z"/><path fill="#ff0c00" d="M61.25,82.39L60.75,82.73L60.25,82.07L59.97,80.75L60.16,78.75L60.75,77.79L61.25,77.99L61.75,79.34L61.74,80.75ZM64.25,195.5L63.25,195.7L62.25,194.8L61.31,190.8L61.33,188.8L61.75,186.9L62.25,186L63.25,185.5L64.25,185.9L64.94,186.8L65.72,188.2L66.07,189.8L65.52,193.8Z"/>
</g>
<rect x="310.2" y="35.6" width="123" height="14.5" fill="url(#cb)"/>
<text class="t9" x="312.2" y="31.6" text-anchor="middle">0</text>
<text class="t9" x="333.7" y="31.6" text-anchor="middle">0.2</text>
<text class="t9" x="358.9" y="31.6" text-anchor="middle">0.4</text>
<text class="t9" x="384.7" y="31.6" text-anchor="middle">0.6</text>
<text class="t9" x="409.2" y="31.6" text-anchor="middle">0.8</text>
<text class="t9" x="430.9" y="31.6" text-anchor="middle">1</text>
<text class="t16" x="307.3" y="11.4">(c)</text>
<path class="tm" d="M315.39,59.00v-2.9M315.39,334.60v2.9M321.59,59.00v-2.9M321.59,334.60v2.9M327.78,59.00v-2.9M327.78,334.60v2.9M333.98,59.00v-2.9M333.98,334.60v2.9M346.37,59.00v-2.9M346.37,334.60v2.9M352.56,59.00v-2.9M352.56,334.60v2.9M358.76,59.00v-2.9M358.76,334.60v2.9M364.95,59.00v-2.9M364.95,334.60v2.9M377.35,59.00v-2.9M377.35,334.60v2.9M383.54,59.00v-2.9M383.54,334.60v2.9M389.74,59.00v-2.9M389.74,334.60v2.9M395.93,59.00v-2.9M395.93,334.60v2.9M408.32,59.00v-2.9M408.32,334.60v2.9M414.52,59.00v-2.9M414.52,334.60v2.9M420.71,59.00v-2.9M420.71,334.60v2.9M426.91,59.00v-2.9M426.91,334.60v2.9M309.20,327.90h-2.7M433.10,327.90h2.7M309.20,321.00h-2.7M433.10,321.00h2.7M309.20,314.10h-2.7M433.10,314.10h2.7M309.20,307.20h-2.7M433.10,307.20h2.7M309.20,293.40h-2.7M433.10,293.40h2.7M309.20,286.50h-2.7M433.10,286.50h2.7M309.20,279.60h-2.7M433.10,279.60h2.7M309.20,272.70h-2.7M433.10,272.70h2.7M309.20,258.90h-2.7M433.10,258.90h2.7M309.20,252.00h-2.7M433.10,252.00h2.7M309.20,245.10h-2.7M433.10,245.10h2.7M309.20,238.20h-2.7M433.10,238.20h2.7M309.20,224.40h-2.7M433.10,224.40h2.7M309.20,217.50h-2.7M433.10,217.50h2.7M309.20,210.60h-2.7M433.10,210.60h2.7M309.20,203.70h-2.7M433.10,203.70h2.7M309.20,189.90h-2.7M433.10,189.90h2.7M309.20,183.00h-2.7M433.10,183.00h2.7M309.20,176.10h-2.7M433.10,176.10h2.7M309.20,169.20h-2.7M433.10,169.20h2.7M309.20,155.40h-2.7M433.10,155.40h2.7M309.20,148.50h-2.7M433.10,148.50h2.7M309.20,141.60h-2.7M433.10,141.60h2.7M309.20,134.70h-2.7M433.10,134.70h2.7M309.20,120.90h-2.7M433.10,120.90h2.7M309.20,114.00h-2.7M433.10,114.00h2.7M309.20,107.10h-2.7M433.10,107.10h2.7M309.20,100.20h-2.7M433.10,100.20h2.7M309.20,86.40h-2.7M433.10,86.40h2.7M309.20,79.50h-2.7M433.10,79.50h2.7M309.20,72.60h-2.7M433.10,72.60h2.7M309.20,65.70h-2.7M433.10,65.70h2.7"/>
<path class="tk" d="M309.20,59.20v-4.2M309.20,334.40v4.2M340.18,59.20v-4.2M340.18,334.40v4.2M371.15,59.20v-4.2M371.15,334.40v4.2M402.12,59.20v-4.2M402.12,334.40v4.2M433.10,59.20v-4.2M433.10,334.40v4.2M309.20,334.80h-3.7M433.10,334.80h3.7M309.20,300.30h-3.7M433.10,300.30h3.7M309.20,265.80h-3.7M433.10,265.80h3.7M309.20,231.30h-3.7M433.10,231.30h3.7M309.20,196.80h-3.7M433.10,196.80h3.7M309.20,162.30h-3.7M433.10,162.30h3.7M309.20,127.80h-3.7M433.10,127.80h3.7M309.20,93.30h-3.7M433.10,93.30h3.7M309.20,58.80h-3.7M433.10,58.80h3.7M309.20,58.80V60.80M433.10,58.80V60.80"/>
<text class="t10" x="309.50" y="353.2" text-anchor="middle">-1.0</text>
<text class="t10" x="340.48" y="353.2" text-anchor="middle">-0.5</text>
<text class="t10" x="371.45" y="353.2" text-anchor="middle">0.0</text>
<text class="t10" x="402.43" y="353.2" text-anchor="middle">0.5</text>
<text class="t10" x="433.40" y="353.2" text-anchor="middle">1.0</text>
<text class="t10" x="33.6" y="62.80" text-anchor="end">4</text>
<text class="t10" x="33.6" y="97.30" text-anchor="end">3</text>
<text class="t10" x="33.6" y="131.80" text-anchor="end">2</text>
<text class="t10" x="33.6" y="166.30" text-anchor="end">1</text>
<text class="t10" x="33.6" y="200.80" text-anchor="end">0</text>
<text class="t10" x="33.6" y="235.30" text-anchor="end">-1</text>
<text class="t10" x="33.6" y="269.80" text-anchor="end">-2</text>
<text class="t10" x="33.6" y="304.30" text-anchor="end">-3</text>
<text class="t14" x="192.6" y="375.4">p<tspan dy="4" font-size="9">x</tspan><tspan dy="-4"> of He</tspan><tspan dy="-7" font-size="8.6">2+</tspan><tspan dy="7"> (a.u.)</tspan></text>
<text class="t14" transform="translate(13.9,243.6) rotate(-90)" x="0" y="0">p<tspan dy="4" font-size="9">z</tspan><tspan dy="-4"> of He</tspan><tspan dy="-7" font-size="8.6">2+</tspan><tspan dy="7"> (a.u.)</tspan></text>
</svg></body></html>
